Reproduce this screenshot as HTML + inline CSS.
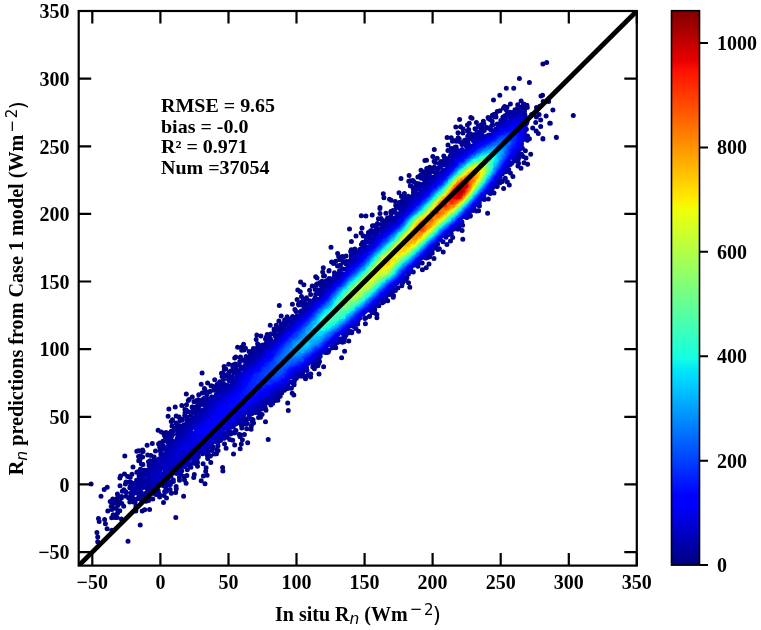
<!DOCTYPE html><html><head><meta charset="utf-8"><style>html,body{margin:0;padding:0;background:#fff;}svg{display:block}text{font-family:"Liberation Serif",serif;font-weight:bold;font-size:20px;fill:#000}.m{font-family:"DejaVu Sans",sans-serif;font-weight:normal}</style></head><body><svg width="761" height="630" viewBox="0 0 761 630"><rect width="761" height="630" fill="#fff"/><defs><clipPath id="c"><rect x="78.7" y="11.0" width="558.1" height="554.6"/></clipPath><linearGradient id="g" x1="0" y1="1" x2="0" y2="0"><stop offset="0" stop-color="#000080"/><stop offset="0.11" stop-color="#0000ff"/><stop offset="0.125" stop-color="#0000ff"/><stop offset="0.34" stop-color="#00dbff"/><stop offset="0.35" stop-color="#00e5f7"/><stop offset="0.375" stop-color="#15ffe2"/><stop offset="0.64" stop-color="#efff08"/><stop offset="0.65" stop-color="#f7f600"/><stop offset="0.66" stop-color="#ffec00"/><stop offset="0.89" stop-color="#ff1300"/><stop offset="0.91" stop-color="#e80000"/><stop offset="1" stop-color="#800000"/></linearGradient></defs><g clip-path="url(#c)"><g fill="none" stroke-width="5.00" stroke-linecap="round"><path stroke="#000086" d="M542.9 64.1h0m3.8-1.7h0m-40.4 25.8h0m7.4 .1h0m5.7-9.8h0m10 4.1h0m-35.9 17.4h0m6.3-4.7h0m3.7 12.8h0m1.1-1.7h0m1 .8h0m1.4 .1h0m3.4-3.3h0m7.3 .7h0m3.4-3.7h0m2.7 3.2h0m12.7 3.2h0m3.3-1.2h0m1.2-10.3h0m1.5-.7h0m.7 6.3h0m5.4 0h0m-92.8 25.4h0m3.8-7.4h0m1 7.3h0m2.4 1.9h0m4.4-3.6h0m1.3 4.5h0m.6-6.4h0m1.5-5.7h0m1.2 .7h0m4.4 4.2h0m7-1.1h0m.5 2.6h0m4.2-6.3h0m.4 .9h0m1.6 1.1h0m2.3-4.4h0m1.3-.8h0m.7 1.5h0m1.2-1.7h0m1.6-2.7h0m2.7-.7h0m31.8 3.8h0m1 13.5h0m3-5.7h0m.7-5.5h0m2.7-2.4h0m1.6 5.5h0m0 6.4h0m5.4-10.5h0m3.6 7.3h0m.6 .1h0m2.6-13.3h0m20.4 5.4h0m-139 34.1h0m12.8-11.9h0m.9 7.3h0m3.2-7.1h0m1.2 3.5h0m1.6-.5h0m4-8.1h0m.2 5.1h0m4.7-4.8h0m4.6-2.3h0m68.7 .3h0m2.1 2.6h0m4.6 4.9h0m0 .5h0m13.4-1.8h0m.1 .2h0m-131.5 23.2h0m1.6-.3h0m.2 8.3h0m3-1.4h0m3.1-10.8h0m1.3 4.8h0m1.1 1.3h0m2-4.3h0m10.7-7.8h0m70 15.7h0m.7-2.8h0m2.4 5h0m3.1-5.5h0m1.3-12.1h0m.6 7.2h0m1.6 6.4h0m3.1-10h0m-129.7 24.3h0m7.8 2.6h0m.3-5.7h0m1.1 5.3h0m.1 4.9h0m2.5-5.2h0m5.1-3.4h0m2.7-1.8h0m.4-5.1h0m2.7 1.9h0m79.9 16.5h0m3.8-6.7h0m1.9 3.1h0m1.1-11.9h0m2.5 3.3h0m-133 32h0m.1-1h0m3.3-13.7h0m.6 4h0m5.6 1.5h0m1.6 1.1h0m4.2 1.2h0m3.7-8.8h0m2.5 3.7h0m2.9-3h0m83.9 5.5h0m-138.8 30.2h0m11.8-13.4h0m.7 12.4h0m3.9-12h0m6.3-1.1h0m.3 10.7h0m5.9-6.9h0m1.6-5.4h0m1.1 5.2h0m4.8-5.4h0m5-1.8h0m87.7-.7h0m9 2.5h0m-156.6 34.1h0m20.3 2.5h0m.1-8.2h0m4.6-5.6h0m5.1-2.9h0m78.3 15.7h0m7.5-4.3h0m3.6-3.6h0m2.2-3.5h0m9.4-6.9h0m.7 8.8h0m-139.5 28.5h0m8.3-5.7h0m1.9 1.5h0m2.2-2.4h0m1.8 4.9h0m.1-12.5h0m1.1 3.1h0m1.2 3h0m.9-2.6h0m1.9-.7h0m.7 1.2h0m2.7-1.7h0m76.3 13.8h0m3.8-2h0m2.8-3.7h0m5-5.6h0m9.2-6.4h0m-145.4 37.9h0m2.8-7.8h0m3.3 2.7h0m8.3 1.1h0m3.5-9.2h0m.6 8.1h0m.6-.8h0m.1-6.1h0m5.7-5.9h0m.8 3.9h0m1-.1h0m4.4-4.7h0m.2-.7h0m79.4 12.3h0m1.3 4.5h0m-130.5 18.4h0m13.1-1.4h0m2.5 5.2h0m2.2-9.9h0m1.4 4.6h0m1.8-12.4h0m1.2 4.9h0m8.1-6.4h0m1 4.3h0m82.6 2.7h0m-123 28h0m3.9 3.9h0m2.2-3.9h0m2.6-4.2h0m2.3-5.1h0m84.2 7.8h0m11.5-9.1h0m0 3.2h0m-139.3 29.4h0m4.3-.1h0m1.7-2.8h0m.4 5.6h0m1.5-1.6h0m10.6-8.7h0m.7-4.5h0m4.1 .9h0m6.3-1.4h0m7-4h0m74.6 10.4h0m9.8-9.7h0m-134.5 35.2h0m.2 3.1h0m1.5-.6h0m2.9-4.8h0m4.3 .9h0m1.7-7.1h0m1.1-1h0m4.3 .6h0m.4-.6h0m1.2-6.8h0m81.9 16.5h0m18-9h0m3-6.4h0m-143.4 32.9h0m.9-11.3h0m2.3 15.5h0m3.2-5.5h0m3.4 2.9h0m3.7-6h0m6.8-6.5h0m.6 3.3h0m83.4 2.1h0m5.1-1.6h0m.2-3.1h0m8.2 .1h0m-150.1 34.9h0m6.3-1.9h0m6.6-1.7h0m3.1 4h0m1.4-15.5h0m.2 10.9h0m1.8-4.3h0m.8-.9h0m3.2-2.6h0m1.7 4.8h0m2.7-1.4h0m1.4-.7h0m.6-5h0m3.5-1.8h0m2.9-2.9h0m.2 1.3h0m82.4 11.7h0m4.5-9.7h0m1.6 1.6h0m-125.7 21.4h0m3.1 5.2h0m.8 4.4h0m.5-6.1h0m3.5 3.3h0m.2-7.2h0m2.9 1.1h0m7.2-6.9h0m60.4 18.6h0m4.4 .5h0m.2-3.3h0m1-4.2h0m.8-1.9h0m.5 3.3h0m4.9-5.7h0m2-.1h0m1.6-2.8h0m3.4 7.2h0m.5-11.5h0m22.3 .2h0m-141.2 34.8h0m5.2-1.8h0m5.8-13.1h0m.5 13.7h0m1-1.1h0m1.8-10.8h0m2.8 2.6h0m1.8-2.1h0m.4 1.8h0m50.2 15h0m7.9-5.3h0m1.6 4.2h0m3.6-8.9h0m3 .8h0m2 4.9h0m4.4-10.7h0m1 2.3h0m.1 12h0m0-14h0m1.1 9.4h0m1.1-4.4h0m2-5.2h0m3.3 8.2h0m20.5-3.2h0m-143.4 16.4h0m8.2 11h0m3.8-15.6h0m1.8 5.2h0m.1 4.3h0m.1-10.1h0m.9 9.5h0m.3-1h0m.6-3.4h0m.8 8.1h0m1 .4h0m.2-14.2h0m0 7h0m.5-5.6h0m4.6 3.6h0m3.2 .5h0m4.6-4.6h0m42 15.2h0m5.6-2.5h0m3 4.1h0m1.6-9.2h0m2.7-2.6h0m.4 6.6h0m3.5-8.5h0m2.2-.3h0m1.6-3.3h0m4.5 16.9h0m10.9-13.3h0m-142.4 30h0m13.1 5.4h0m3-2.2h0m12.7-9.4h0m.1 7.9h0m.6-9.7h0m3.3 13.6h0m.6-15.8h0m.9 10.1h0m.6-2h0m1.7-5.4h0m2.5 .7h0m1.7-3h0m4.9-2h0m33.3 17.2h0m6-3.1h0m.2 2.3h0m3.2-8.4h0m4.2-3.7h0m.8 3.3h0m1.6 3.3h0m.8-7.8h0m6.8 2h0m.6-2.9h0m6.9 6.3h0m2.2-4.8h0m1.6 7.8h0m.7-12.6h0m1.4 4.1h0m15.8-4.2h0m-121.9 25.2h0m9.2 5.1h0m1 4.8h0m.7 3.4h0m.3-3.7h0m.6-7h0m1.6 3h0m1.4 1h0m.1-1.9h0m.3 7.4h0m.7-9.8h0m.5-4.5h0m.3 11.3h0m.3-8.3h0m2.1 5.1h0m1.3-4.3h0m.2-1.3h0m.3 6.8h0m.4-12.1h0m1.4 14.9h0m6.1-4.2h0m4.3 .2h0m1 0h0m.8 4.3h0m5.9-4.6h0m2.9 7.8h0m1.3-8.5h0m2.6-.6h0m1 9h0m3.2-10.6h0m6.8-2h0m.7-1.6h0m3.2 7h0m.6-6.9h0m.5-3.8h0m1.9 6.3h0m4.8-4.8h0m4.4-.8h0m7.9 3.9h0m-85.1 22.3h0m.7 2.8h0m5.4-1.8h0m.8 4.2h0m1.7 4.9h0m.7-17.6h0m3.9 6.7h0m1.5-3h0m1.8 2.8h0m2.1-.2h0m.4-4.3h0m2.3-2.3h0m1.6 8.3h0m14.4-8.1h0m4.4 14h0m2-14.1h0m33.6 6.7h0m-78.9 15h0m.8 9.2h0m0-4.9h0m14.2-6.7h0m16.1 11.1h0"/><path stroke="#000092" d="M506.2 109.8h0m8.8 0h0m1.8-.8h0m4.5-1.9h0m1.7 2.1h0m.9-5h0m.2 4.4h0m1.3-2.7h0m.8 .3h0m.8-.9h0m.1 1.8h0m.2 .5h0m-52.3 21.2h0m.8 .5h0m2.6-3.1h0m2.1 1h0m.8-2.4h0m.5 2.1h0m.2 1h0m.3 1h0m.3 .8h0m4.1-2.2h0m2.1 .8h0m1.6-.5h0m1.6-2.5h0m.2-4h0m.5 3.8h0m1.9-9.3h0m0 .9h0m1.4 .3h0m7.1-.1h0m1.8-1.1h0m2.3-2.3h0m3.1-1.3h0m6.1-2.1h0m-65.2 38.4h0m3.1-.5h0m.8-.8h0m1-6.6h0m0 .7h0m.1 5.6h0m2.9-7.2h0m.1 1.9h0m0-2.7h0m2.1 3.6h0m.7 1.9h0m2.6-4.2h0m1.2 0h0m.2 3h0m1.5-1.3h0m.2-5.5h0m.8-1.3h0m.8 0h0m.7 3.9h0m.4-5.3h0m10.8-3h0m1.5-.2h0m1.5 0h0m45.2 8.3h0m-98.2 30.2h0m2 .1h0m1-1.9h0m0 2.5h0m1.4-.3h0m1.2-1.2h0m2.3-4.8h0m1.8-2h0m2.9-5.4h0m.4 5.1h0m.4-2.4h0m1.5-.3h0m5.9-8.1h0m64.7 10.7h0m1.5-1.7h0m3.3-5.1h0m1.6 2.2h0m-112.2 29.7h0m2.5 2.3h0m.1 1.3h0m.2 0h0m.3-7.9h0m.4 6.3h0m1.4-1.6h0m.1-2.4h0m.2-.9h0m2.8 .6h0m2.4-5.6h0m2.5-3.4h0m1.7 3.5h0m1-3h0m.8-4h0m2.6 1.3h0m.6 4.1h0m3.6-4.9h0m62.7 14.6h0m.4 0h0m2.7-3.6h0m1.7-1.3h0m.8-.1h0m2.9-3.2h0m-109.6 27.4h0m.7 2.4h0m1-.6h0m2-4.8h0m.6 3.2h0m1-1.1h0m.4-2.6h0m.9-1.1h0m1.3 1.1h0m1.2-5h0m.1 .8h0m.8 .1h0m73.7 7.9h0m14.6-12.9h0m-119.6 32.7h0m1.6 2.3h0m.8-2.7h0m.7-1.9h0m3.9 1.3h0m1.2-3.5h0m.7-.4h0m1.6 .3h0m.5 .4h0m2.1-3.4h0m3.3-1.7h0m.4-2.7h0m1.8-3.2h0m.7 1h0m.9 .5h0m64 17h0m4-3.8h0m7.4-8.9h0m6.6-5.4h0m-121.8 38.2h0m6.6-4.7h0m1.2-1.8h0m.5-6.5h0m.7 0h0m2.5 .8h0m2.1-4.5h0m1.5 .1h0m.1 1.7h0m.8-3.5h0m.7-.1h0m65 17.7h0m1.3 1.3h0m5.2-7.9h0m-104.2 24.1h0m1.6-.5h0m1-5.9h0m1.9 2.8h0m3.1-.7h0m4.3-10.1h0m.4 2.1h0m2.3-3.1h0m64.6 15.9h0m4.2-3.4h0m7.6-6.1h0m2.4-3.6h0m-117.1 36.2h0m1.8 .1h0m2.7-6.7h0m1.1 2.3h0m1.3-1.3h0m0-2.5h0m1.5 .7h0m2.8-1.2h0m2.3-.2h0m.5-2.2h0m1.4 .3h0m4-6h0m.2 1.6h0m4.8-3.5h0m58.4 17.1h0m3.9-2.2h0m.9-3.2h0m3.1-2.2h0m7.5-8.4h0m-114.5 33.2h0m2.1-2.8h0m.2 1.1h0m1.3 1.5h0m.2-2.5h0m1-2.8h0m1.3 6.1h0m.5-1.6h0m.7-4.9h0m.4-1.4h0m3.1 2.9h0m6.1-6.5h0m1.2-1.3h0m2.3-2.5h0m59.6 15.3h0m5.2-4.2h0m2.5-2.1h0m1.2 1.4h0m5.8-5.3h0m1.9-5h0m-117.4 37.4h0m3.3-3.6h0m.5 2.9h0m2-4.1h0m.8-3.1h0m1.1 2h0m1.2-.9h0m.2-4.3h0m5.5-.3h0m3.5-5h0m59.8 16.9h0m9-10h0m.7-.4h0m3.7-1.6h0m.3-.2h0m2.8-3.6h0m2.6 .5h0m-122 36.9h0m.4-1.6h0m.9 1.4h0m3-1.7h0m.1-.7h0m.2-3.6h0m4.3 1.5h0m3.6-6.2h0m.9-2.1h0m.3 3h0m2.9-2.5h0m.6 .7h0m.6-4.3h0m4.1 .3h0m.8 .4h0m1.1-4.2h0m2.9 .1h0m54.3 17h0m.9-.7h0m.9 1h0m6.4-6.1h0m.4 .5h0m1.6-.6h0m.4-3.5h0m7.1-5.4h0m.2-1h0m-119.1 34.8h0m1.4 .8h0m1.1-3.3h0m.6 3.7h0m2.6-3h0m.5-.4h0m.8-2.8h0m.4 .1h0m2.9-1.7h0m2.4 1.5h0m.6-4.8h0m1.4 .8h0m1.5-5.8h0m0 6.7h0m1.1-2.6h0m.9-2.9h0m.8 .6h0m61 13.7h0m.7-1.1h0m.9 2.7h0m.7-4.5h0m.2-.4h0m2.5 2h0m1-2.6h0m.7-1.8h0m8.8-9.4h0m-115.6 34.2h0m2 1.7h0m.9-1.2h0m1.6-2.5h0m.3 0h0m.4 1.7h0m1.9-4.2h0m1.3 3.1h0m2.4-10.6h0m.1 5h0m.6-2.7h0m2.9-1.4h0m1.3 1.2h0m.3-3.2h0m.6-1.1h0m1.4-1.1h0m56.9 17.7h0m3.8-.4h0m1.4-5.1h0m1.2-.2h0m.1 1.8h0m7.6-8.5h0m.7-1.1h0m1.6 1.1h0m3.8-1h0m.7-.2h0m-116.4 32h0m.5-.1h0m.5 .6h0m2.9 1.8h0m.6-2.8h0m1.4-3.3h0m.8 5.2h0m1.9-3.6h0m1.2-4.8h0m.7 3.6h0m1.2-5.1h0m.8-5.5h0m2 4.7h0m.3-3.5h0m.1-1.6h0m2.8-.9h0m.4-.4h0m4-1.1h0m47.4 18.8h0m3.6-1.5h0m3.7-4.8h0m2 2.4h0m1.7-1.7h0m2.5-2.8h0m2.8-.3h0m.6-3.3h0m1.7-.8h0m1.5-3.3h0m2.8-2.7h0m-109.9 38.2h0m2.7-3.2h0m1.7 .3h0m.9-4.8h0m1.3 8.1h0m.4-9.4h0m.7 .6h0m1.4 4.9h0m1-9.4h0m.3-2.6h0m.1 3.3h0m1-4.6h0m.4 .1h0m.4 5.2h0m.3 3.3h0m1-8.4h0m2.9 3.3h0m1.7-4.9h0m.2 1.3h0m48.4 14h0m.4 2.5h0m1.2-4.3h0m1.3 .3h0m2.1 0h0m1-.6h0m4-4.5h0m7.3-5.9h0m.3-.8h0m-99.3 35.1h0m.6-1.8h0m1.3-1.7h0m1 3.5h0m.3-6.1h0m.3 4.6h0m.6 1.9h0m1.3-10.9h0m1.4 2.6h0m.8 2h0m.2-.8h0m.2-4.2h0m2-3.3h0m1.6-1.9h0m.7 4.6h0m.4-4.2h0m.1 3.2h0m.5-3.9h0m3.8-.9h0m.6 4.1h0m35.5 13.7h0m.1-1h0m5-1.1h0m9.1-8.4h0m2.9-3.5h0m.6 .1h0m.1-1.7h0m3.5 .9h0m.6-.5h0m.3-1h0m.9-1.2h0m-95.6 38.8h0m1 .5h0m1.5-5.2h0m5.6-2.7h0m.5 3.6h0m1-4.6h0m.1 2.9h0m1.3-.6h0m2.7-4.1h0m.1-1.9h0m0 .7h0m6.1-7h0m.2 .2h0m26.8 18.7h0m2.6-4.5h0m1 2h0m4.4-3.6h0m1.7-3.6h0m.5 2.4h0m9.9-6.8h0m1.6-.4h0m2.7-4.8h0m-82.2 31.6h0m.3 5.8h0m.5-1.5h0m.3-4.4h0m.5 6.1h0m.3-2.4h0m3.3-2.4h0m1.9-3h0m.8-8.2h0m1.7 4h0m1.3-4.8h0m.1 7.8h0m.2-.5h0m.9-5.1h0m.2 .1h0m2.7-3.2h0m12.6 19.2h0m8.2-3.7h0m.6 3.5h0m2.6-4.4h0m.2-.2h0m1.7-.2h0m1.1-2.8h0m1.9-1.8h0m0 1.7h0m6-4.3h0m1.2-3.3h0m.2 .6h0m-54.8 21.6h0m.1-4.2h0m2.6 6h0m.8-.6h0m1.3-3.9h0m.7-1.3h0m.1 2h0m.1 .3h0m.2 3.7h0m.2 1.8h0m.3-4.8h0m1.1 3.9h0m3.2-6.1h0m.8 5.7h0m.9-5.1h0m.7 2.4h0m.1-.3h0m1 2.9h0m2.8-2.4h0m.2-1.2h0m2.4 2.7h0m.6-4.8h0m1.4-2.6h0m.7 5.2h0m.5 1.2h0m.1-5.6h0m1.4 .5h0m0 1.6h0m1.3 0h0m2.3-1.6h0m.2-1h0m1.2 3.5h0m.6 .3h0m1 .1h0m1.3-3.8h0m.4 2.3h0m8-1.7h0"/><path stroke="#00009e" d="M490.9 129.8h0m6.3-5.8h0m3.6-3.4h0m.2 .7h0m.9-.1h0m1.1-3.6h0m.7 .7h0m.5 .4h0m2.5-3.4h0m3-1.3h0m.5 1.1h0m2.2-2.1h0m1.6-1h0m.5 .4h0m4.3-1.1h0m1.8 0h0m.3-.3h0m2.5 2.1h0m.5-.7h0m.6-1.1h0m.3 3.2h0m.2 1h0m2.2 5.5h0m-71.5 28.5h0m10.4-3.7h0m2.3-1.9h0m4.7-7.4h0m.8-1.8h0m1.9 .5h0m.1 .9h0m0 .2h0m1-1.2h0m.3-3.1h0m.5 3.8h0m2-2.7h0m42.7 15.1h0m4-11h0m.9 3h0m.2-.6h0m0-3.6h0m-89.7 32.8h0m2.4-1.5h0m2.3-2h0m1.4-.5h0m1.4-.1h0m.7-1.8h0m1.6-.8h0m.2 1.7h0m.3-4.7h0m.4 1.4h0m.6 .3h0m1.2-4.9h0m.8-1.9h0m1.2-2.4h0m3.4-1.4h0m51 19.7h0m2-.5h0m3.3-6.4h0m2.7-2.2h0m2.9-3.1h0m1-.3h0m.5-2.5h0m.4 1.2h0m-102.9 32.8h0m1.2 .1h0m1.5-2.6h0m.7 .5h0m1.6-2.2h0m1.5-.5h0m1.1 .1h0m.1-4.6h0m.6 1h0m.4-1.6h0m2.2-.2h0m0-1.5h0m.4 3h0m0-1.4h0m.5-2.2h0m.6 5.4h0m.8-2.9h0m2.8-2.1h0m3.4-2.5h0m1.1-3.7h0m.3-.1h0m59.1 11.8h0m1.9-1.3h0m7.5-9.7h0m-105.5 37.1h0m1.6-3.4h0m1 1.6h0m1.5-.4h0m1.8-4h0m.1-2.2h0m1.3-2h0m.5-2.1h0m.2 .5h0m.4 3h0m1.1-2.3h0m1.2-.4h0m2.2-1.9h0m.2-2.7h0m1.1 1.8h0m.4-.4h0m.1-2.5h0m58.7 17.9h0m4.4-5h0m.8 .4h0m5.2-5.1h0m6.2-7.4h0m0 1.3h0m1.1-3h0m.3 .6h0m-113.2 38.7h0m1.3-.4h0m3-1.8h0m2.3-3h0m1.7-1h0m1.3 .2h0m.9-2.4h0m.3 .9h0m1.4-2.7h0m1.8-.9h0m1 .1h0m.6-.3h0m2.7-4.3h0m.2-.5h0m.2 2.2h0m3.4-5.8h0m56.7 19h0m1.5-1.5h0m8-10.2h0m3.5-2h0m2.7-4.8h0m-113.4 38.9h0m2.2-.7h0m1.7-5h0m.9 1.5h0m.4-3.3h0m1.3-1.6h0m1 .2h0m.1-4.1h0m.5 .8h0m.4-1.7h0m.8 1.7h0m5.1-5.2h0m2.9 .1h0m.5 .1h0m0-1.8h0m68.5 6.8h0m2.9-2.8h0m1.9-1.9h0m.5 1.3h0m-108.9 35.3h0m1-.1h0m2.6-5.4h0m3.5-2.5h0m.7 0h0m.9-1.9h0m.2-2.7h0m3-3.9h0m.8 1.5h0m.1-.5h0m2.5-2h0m68.5 6.4h0m1.5-.6h0m.7-2.8h0m1.8-1.3h0m-109.3 36.2h0m.6-.9h0m3.2-2.6h0m1.7-1.9h0m1.4-1.1h0m0 1.9h0m.1-3.3h0m1.5 1.8h0m0 .4h0m2.9-3.5h0m2.2-4.2h0m3.5-2h0m55.4 15.4h0m8.4-7.9h0m3.4-2.2h0m1.7-1.7h0m-102.9 28.8h0m4.8-1.8h0m.7-.8h0m4.6-4.1h0m1-2.1h0m4.5-4h0m.5-.5h0m3.2-2.7h0m51.5 18.9h0m2.6-5.4h0m4.6-2.5h0m.4 1.2h0m6.9-8.2h0m.6-.2h0m2.4-2.9h0m-109.5 38.3h0m.3-1.1h0m2.2-4.5h0m1-.3h0m.1 2h0m1.3-5.1h0m1.5-.6h0m.4-.1h0m.4-.9h0m.4 2.4h0m1.9-1.9h0m4.7-3.6h0m3.4-4.3h0m.4 .1h0m.3-1h0m.6 .5h0m.2-.5h0m55.8 13h0m13.9-12.6h0m-114.5 38.4h0m2.3-1.1h0m1.9 1.3h0m.4-2.4h0m1.4 .1h0m.3-2.6h0m.6 2.3h0m2.4-4.2h0m4.6-2.5h0m4.3-4.4h0m6.8-5h0m50.2 16.5h0m.8-1.3h0m3.4-3.4h0m2.3-1h0m2.9-2.9h0m.1 0h0m.5-.4h0m2.1-1.1h0m.4-2.4h0m1.1 .1h0m3.2-2.5h0m.3-1.8h0m-114 38.8h0m5.5-1.4h0m.8-1.1h0m4-2.7h0m.4-.7h0m1.6-2.7h0m3.3-3h0m.8 .2h0m.9-4.2h0m.4 1.7h0m1.1-2.1h0m.4 .8h0m2.8-4.2h0m.3 1.8h0m55.4 13h0m5.8-6.6h0m6.2-6.4h0m.5 .2h0m.4-.8h0m.3 .6h0m.6 .3h0m2-2.2h0m-111.3 39.5h0m.1-1.4h0m1.6 1.6h0m1.3-3.9h0m.8 .2h0m.6 2.9h0m1.4-4.8h0m.1-.9h0m1.3 3.5h0m2.2-1.8h0m1.5-5.8h0m.5 6.5h0m.3-5.2h0m1.1-3.2h0m1 .3h0m.4 2.8h0m.1-4.2h0m.5 2.5h0m.8-.7h0m.7-5.1h0m1.5-1h0m.4 1.3h0m1.6 .1h0m.2-1.8h0m.3-.8h0m45 18.5h0m5.3-2.1h0m3.2-5.2h0m3.1-1.5h0m1.2-2.8h0m.6-1h0m.1 1.5h0m2.6-2.3h0m.4-.8h0m1.9-1h0m1.3 .4h0m1.6-4.1h0m2.8-.1h0m-108 39.5h0m.2-.1h0m4-5.7h0m1.8 .8h0m.7-2.4h0m.1-.7h0m.3 2.1h0m.7-1h0m.7-2.1h0m1-1.3h0m.7-.5h0m2.1 .3h0m.3-2.2h0m.1 0h0m4.5-2.3h0m1.3-4h0m38.1 18h0m6.1-3.4h0m1.6 .5h0m.3 1h0m1.3-2.2h0m.6-1.4h0m4.9-1.4h0m.4-2.8h0m1.6-.7h0m.4-1.5h0m1.7 .4h0m1.5-1.6h0m1-1.2h0m1.7-2.1h0m-99.1 37.6h0m3.3-1.3h0m1.5 0h0m1.7-2h0m.3-2.9h0m2.2-1.1h0m1.4 1.8h0m1.3-1.7h0m0-3.8h0m.4 1.1h0m.4-1.4h0m.3 2.9h0m2-3.7h0m.9-4.7h0m.5 3.1h0m2.2-2.9h0m1.5 .1h0m.7-1.7h0m41.5 10h0m.9-2.6h0m.1 1.2h0m1.3 .1h0m.5 .5h0m1.2-2.1h0m1.1 .2h0m1.8-.5h0m.6-3.3h0m2.9-1.8h0m.6-1h0m2.8 .1h0m.9-.9h0m1.7-1.4h0m-94.3 38.9h0m4.3-6.9h0m.3-.4h0m2 1.7h0m.7-4.2h0m.6 1.1h0m6.6-7.1h0m2.6-.5h0m.3-1.6h0m.6 3.3h0m1.6-2.5h0m.1-1.8h0m27.1 16.4h0m7.1-4h0m2.8-2.1h0m.3-1.8h0m3.3-.5h0m1.2-1.5h0m3-4.5h0m.5 .8h0m1.2-.8h0m-79.6 35.3h0m2.5-3h0m.1 1.8h0m.4 1.7h0m.4-5.1h0m1.9-2.6h0m1.5 .2h0m2-1.8h0m1.6-4.6h0m1.1 .7h0m1.7-.3h0m2.8-4.5h0m14.3 19.5h0m.4-.3h0m5.7-4.6h0m6.2-1.7h0m1.4-2.9h0m2-.8h0m2-2.6h0m4.3-2.9h0m3.4-3.4h0m.1 2.1h0m1.2-1.3h0m.3 .5h0m-75.3 37.2h0m.1 1h0m.1-3.2h0m1.1-1.2h0m.5 1.4h0m.3-3.1h0m.2 5.9h0m.1-4.4h0m2.1-1.4h0m1-1.6h0m.1 6.7h0m.1-2h0m1 2.8h0m1-8.7h0m.7 5.1h0m1-3.7h0m.3 3.9h0m1.2-4.2h0m.2-6.4h0m.1 11.8h0m.1-3.4h0m.7-4.7h0m.8-6.1h0m.3 11.9h0m.6 1.7h0m.6-13.3h0m.2-2.8h0m.3 3.7h0m.2-4.3h0m.2 15.4h0m.7 2.8h0m.4-14.6h0m.2-1.4h0m.6 .1h0m1.2 16.7h0m1-1h0m0 .6h0m4.2-1.1h0m7.5-2.1h0m1-3h0m1.8 1.4h0m1-2.6h0m1.3 1.2h0m8.2-9.3h0m2.6-2.1h0m1.1 .6h0m1.4-1.1h0m-48.5 19.7h0m.2 2.4h0m2.2-1.2h0m3.8 .2h0m.2-1.8h0m1.6 2.1h0m11.8-.9h0m.8-1.2h0"/><path stroke="#0000aa" d="M495.6 129.5h0m.4-.4h0m2.5-2.5h0m.3-.2h0m1.4-1.3h0m1-1.3h0m0 .8h0m.8-1.5h0m3.7-1.6h0m.1-2.4h0m0 2.1h0m4.7-3.7h0m1.7 .3h0m2-1.1h0m2.6-1.9h0m0-1.2h0m.6 .4h0m2.1-1.3h0m.8 2h0m.4-3.1h0m2.9 6.3h0m.1-3.9h0m.9 2.3h0m1 13.4h0m.1-6.8h0m.2-4.9h0m.5 11.3h0m.1-6h0m-64.4 26.3h0m5.2-2.4h0m1.8-.4h0m4.4-5.8h0m1.7-2.8h0m.7 1.5h0m1.3-1.6h0m.5-.8h0m2-1.3h0m2.3-1.5h0m.3 1.2h0m6.8-.7h0m35.9 1.6h0m.2 .9h0m.4 .9h0m.4-1.5h0m-77.7 28.3h0m.3-3.7h0m0 3.3h0m3-3.7h0m.8-.1h0m.4-3.4h0m1 1.8h0m.7-5.3h0m.2-.1h0m.5-.6h0m1.9-.2h0m.6-2.8h0m.5 2h0m4.5-2.1h0m42.7 19.6h0m1.6-.9h0m1-4h0m2.3-.6h0m7-11.4h0m1.4 .3h0m-98.6 34.9h0m.4 .5h0m2.2 .8h0m0-3h0m.6 2.4h0m1.1-2.4h0m.6 1.3h0m.4-2.1h0m1.1-.9h0m3.2-.3h0m.6-3.9h0m1.4-.5h0m1.1 .1h0m3.7-3.6h0m1-2.1h0m1.6 .5h0m4-4.6h0m49.7 17.1h0m7.4-9.5h0m2.1-4h0m2.1-2.6h0m1.3-1.1h0m-100 38.5h0m2.5-5.3h0m.3 1.6h0m1.8-2.6h0m.1-2.3h0m.7-1.9h0m1.1-1.6h0m2.1-.1h0m.1 3.3h0m1.3-2h0m.1-2.3h0m.5 1.1h0m1.3-2.7h0m.3 .7h0m2.5-1.6h0m53.4 15.3h0m5.5-6.2h0m8.9-10h0m-105.3 37.6h0m.3-1.1h0m3.6-3.2h0m.1 1.1h0m1.9-1.6h0m.2 .3h0m4-3.4h0m.3-.7h0m.6 .3h0m2.2-4.1h0m.1 1.2h0m.7-.8h0m3.1-2.5h0m.6-1.4h0m1.1-.9h0m1.7-2.7h0m50 18.9h0m5.6-3.6h0m.6-1.7h0m2.3-2h0m4.1-5h0m2.8-3.6h0m-105.2 35.4h0m1.1-.5h0m1.6-1.5h0m2-4.9h0m2 .9h0m.3-3h0m.4 3.6h0m.2-2.7h0m1.4-1.8h0m.2 .1h0m1.1-3.7h0m1.7 1.5h0m56.7 13.3h0m.6-1.7h0m2-1.4h0m0-.3h0m2.7-2.7h0m12.6-12.1h0m-101.5 32.4h0m.2 1.1h0m2.5-1.9h0m3.7-4.9h0m1.3-1.8h0m1-2.7h0m.9-1.4h0m1.2 1.4h0m1.3-1.5h0m1.4-2.4h0m.3 .2h0m54.1 13.4h0m1-.5h0m11.1-9.4h0m-103.2 35.2h0m.6-.8h0m5.8-4.4h0m2.7-4.3h0m.1-.7h0m1.1 0h0m.2-.5h0m.1 1.5h0m2.6-4.1h0m1.4-2.3h0m.6 .9h0m60.3 7.2h0m7.5-7.6h0m0-1.8h0m1.7-.3h0m-103.7 37.6h0m3.1-4.1h0m1.4-.2h0m2.6-4.5h0m3.5-.6h0m.7-.5h0m3.3-3.2h0m1.8-2.3h0m1.2-3.6h0m1.4 .7h0m44.6 18.8h0m3-1.7h0m1.3-.4h0m1.1-3.3h0m10.5-8.4h0m4-3.3h0m-102.6 34.1h0m.7 1.2h0m2.9-7.4h0m.6 2.6h0m2.2-1.1h0m.7-2.6h0m.6-1.5h0m1 1.2h0m3.9-3.8h0m.5 1h0m2.6-4.7h0m1.2 1.6h0m3-2.6h0m46.5 15.8h0m3.6-4h0m-92.5 25.3h0m1.8-2.2h0m1.4-.7h0m.7-2.3h0m.5 .5h0m.4 1.5h0m1.4-4h0m3 1.2h0m2.1-2.2h0m1.5-.9h0m1.8-1.5h0m.8-3.2h0m.2 1.1h0m.7-.3h0m1.5-1.4h0m.1-1.6h0m52 11.6h0m1-2.1h0m1.3 .2h0m1.6-2.3h0m1.6-.4h0m3.5-3.8h0m.3-1.3h0m1.8-.2h0m-103.1 35.2h0m1.7-2.2h0m4.1-2.3h0m1.4-.2h0m.3-1.1h0m.7 .2h0m.8 .8h0m.9 .5h0m.2-3.9h0m.5 .1h0m.3 0h0m.3-.6h0m2.4-2.8h0m.4 2h0m1.9-2.3h0m.2-3.3h0m1.5 1.5h0m.4-2.7h0m2.1-1.5h0m43.6 16.7h0m5.4-5.5h0m3.2-2.5h0m.9-2.4h0m1.3 .5h0m2.9-1.5h0m-100 33.3h0m2-.1h0m1.1 0h0m3.5 .5h0m1.2-2.5h0m1.2-1.1h0m.6 0h0m2.4-3.8h0m.1-2.9h0m.4 1.5h0m1.6-.6h0m.7-1.6h0m.7 .2h0m.5-1h0m1.4-2h0m.2 1.3h0m.3-1.9h0m.4-1.3h0m1.1-1.4h0m39.8 16.6h0m4.6-1.4h0m2.9-2.8h0m.6-1.1h0m.2 1.3h0m6.8-8.5h0m3.3-3.6h0m0 .7h0m2.1-1.2h0m3-2.5h0m-99.4 39.4h0m2.3-.7h0m.6-1.8h0m.4 .8h0m.7-4.4h0m2.5-2.6h0m1.1 1.2h0m1.6-1.9h0m2.4-2.8h0m2-2.9h0m.4-.2h0m.5-1.6h0m1.1 .9h0m0-.4h0m.7-1h0m.1 1h0m1 .8h0m1.6-3.2h0m3.2 .5h0m28.3 16.6h0m2.2 .1h0m.3-1.1h0m.8 0h0m1.5-1.3h0m2.6-2.3h0m.7-.8h0m1.5 0h0m1.7-1.6h0m3.2-2.6h0m4-2.4h0m.9-1.5h0m.3 1h0m2.3-4.6h0m3.3-.6h0m-94.1 39.3h0m1.2-1.2h0m1.1-.1h0m0 .1h0m.7-1.4h0m.9 1.6h0m1.5-1.1h0m2.6-3.7h0m.8-2.4h0m1-3.4h0m.9 3.6h0m2-2.6h0m.2-2.3h0m1.8-.5h0m.2 .8h0m.1-1.8h0m1.4 .6h0m.1-3.1h0m.5 .5h0m27.8 14.2h0m3.3-.6h0m1.4-2.3h0m1.1-.6h0m1.3-1h0m.3-.1h0m.9-.1h0m1.1-1h0m2.2-4.8h0m1.3 1h0m.5-1.1h0m.3-2.3h0m5.3-1.6h0m2.4-1.9h0m-83.7 35.3h0m1.7 3.4h0m.3-2.1h0m.5-.9h0m.2 2.1h0m.2-4.3h0m.8 1.2h0m.8 .8h0m1.3-4.6h0m1.5 .7h0m1.3-1.9h0m.9-2.6h0m.1 2.6h0m.7-1.6h0m.7-.1h0m2.2-3.2h0m1 2.1h0m2.9-5.6h0m19.6 17h0m2.6 .5h0m1.5-3.7h0m2.3-1.2h0m1.1-2.3h0m1.9-1.6h0m1.6 .4h0m2.9-2.6h0m1.9-1.8h0m2.1-2.2h0m.5 3.1h0m1.6-4.6h0m.4 1.2h0m-71.4 32.6h0m2.4-2h0m0 2.1h0m.5-3.7h0m.1 1.2h0m.9-3.5h0m.7-1.1h0m.6 4.2h0m.4-4.3h0m.2 6.4h0m2.5-7.8h0m1.3-2.1h0m2.2 .2h0m1.7-3.2h0m0 2.2h0m.1-3.7h0m.6-1.2h0m.2 3.3h0m.8-.6h0m.5-1h0m13.8 12.2h0m.8 .2h0m.3 .8h0m.7 .8h0m.1-1.2h0m1.5-1.7h0m2-1.5h0m4.4-3.7h0m2-1.5h0m.6 .4h0m.7-3.5h0m.5 3.5h0m2.2-4.7h0m2.1-1.5h0m2.9-.9h0m.1 .8h0m-59 32h0m2.9-1.4h0m.1-6.3h0m.2 1.8h0m.2 5.6h0m1-7.7h0m.3 7.8h0m1.1 1.4h0m0-10.7h0m0 5.7h0m.2 .4h0m0 1.6h0m.1 1.5h0m.9-8.1h0m.1-3.2h0m.9 11.5h0m.5 1.6h0m1.1 1.6h0m.4-1h0m.1-12.8h0m.7 14h0m.2-16.1h0m1 13.6h0m1.8 .2h0m1.5-1.6h0m.5 1.8h0m6.6-3.6h0m.9-2.1h0m2-2.2h0m.8-.1h0m1.4-2.7h0m1.9-1.2h0m1.9-1.8h0m3.2 .1h0"/><path stroke="#0000b6" d="M497.1 129.2h0m1.7-2.4h0m3.5-1.8h0m2-.3h0m1.7-3h0m1-.2h0m.4 .9h0m3.6-3.6h0m2.2-.3h0m1-1.5h0m1.3 1.8h0m1.9-3.3h0m3.4 .7h0m.4 .4h0m1.2 1.7h0m1.3 1.2h0m.1-.9h0m1.5 6.6h0m-58.1 24.7h0m.8-.9h0m1-.1h0m2.1-1.5h0m1-1.1h0m2.9-4.9h0m.5 1.1h0m.9-1.1h0m.9 0h0m2.3-2.5h0m2-1.8h0m.6 .7h0m2.7-1h0m0 .3h0m2.6-.6h0m0-.7h0m4.5-1.4h0m1-.4h0m1.5-3.1h0m1.8-.5h0m22.7 19.2h0m.4-.1h0m1.4-3h0m.6 1h0m3-14.7h0m.2 4.6h0m-78.2 32.5h0m.8-1.4h0m1.1 .2h0m3.2-5.7h0m.6 2.3h0m1.7-4.1h0m.4 1h0m.7-2.5h0m.7-1.7h0m.8-.6h0m.3-.8h0m2.1-2.4h0m.3-.9h0m.9-1.2h0m0 .9h0m1.3 .9h0m0-2.4h0m.7 1.5h0m.4-2.5h0m44.5 15h0m2.9-2.9h0m4.3-5.2h0m1.9-4.2h0m-93 36.2h0m10.1-7.1h0m1.9-.6h0m.3-2.2h0m3.6-1.7h0m1.5-1.9h0m.6-2.2h0m.5 1.3h0m.4-2.1h0m.2-1h0m.2 1.8h0m1.2-.2h0m1.2-2.9h0m.9 .3h0m.1-.8h0m45.5 16.8h0m.6-.2h0m2-2.5h0m2.5-3.8h0m.3-1.3h0m-87.3 26.5h0m.1 1.5h0m1.2-2.3h0m1.9-3.1h0m.7 .8h0m3.5-4.7h0m2-2.5h0m0 .3h0m1-.5h0m1.2-1.4h0m.4 1.4h0m.2-2.7h0m1.9 .1h0m1.1-1.9h0m.4 .1h0m.3-.6h0m51.3 14.6h0m4.3-5.9h0m3-2.7h0m4-5.6h0m-102 39.3h0m1.9-2.5h0m2-1.4h0m1.9 .6h0m6-6.2h0m2.1-2.7h0m1.9-2.2h0m2.6-3.5h0m.5-.8h0m.3 0h0m48.8 17.2h0m5.7-5h0m.6-.8h0m.9-1.1h0m6.6-6.9h0m2.8-3.9h0m.7-.4h0m-103.8 37.2h0m.7 .4h0m.6-.7h0m3.5-4.1h0m.2-.7h0m.4-1h0m3.3-4.1h0m.4 .4h0m.6 .1h0m.6-1.7h0m1.6 .4h0m2.8-2.8h0m.5-.3h0m1.4-2.6h0m56.5 9.1h0m8.4-7.6h0m-101.6 36.1h0m1.5-1.8h0m3.1-2.6h0m1.2-.4h0m1.8-2.7h0m1.8-1h0m.6-2.7h0m2.9-1.5h0m.2-1.7h0m.2 .6h0m1.2-1.2h0m1.8-2.8h0m51.3 14.4h0m.6-1.3h0m1.1-.7h0m.4-.7h0m2.5-2.8h0m2.8-2.1h0m.1 .2h0m1.2-.5h0m-93.3 30.3h0m3.1-3.5h0m2.9-2.8h0m.5 .2h0m.5-2.7h0m2.9 .4h0m1.2-3.7h0m1.6-1.2h0m46.5 15.9h0m3.8-3.2h0m.8-1.2h0m6.8-6.1h0m2.8-2.8h0m3.8-5.2h0m-97.4 36.2h0m.2 .2h0m.8 1.3h0m1-4.8h0m1.7-1.2h0m.8 .4h0m.5 .2h0m1.9-2h0m.9-1.4h0m.2 .6h0m4.9-4.2h0m.9-2.1h0m.9-.5h0m1.3-1.7h0m1-1.3h0m46.5 14.3h0m2.3-2.5h0m2.6-2.9h0m3.8-1.9h0m.1-.4h0m4.8-5.1h0m-98.7 34.9h0m2.4-2.6h0m.2 1.8h0m3.4-4.9h0m.3 1h0m1-1.9h0m.2 1.6h0m3.3-3.3h0m3-2.1h0m3.3-3.7h0m.4-.3h0m4.5-3h0m40.7 15.6h0m3.1-1.7h0m4-3.7h0m1.9-2.5h0m-93.2 31.8h0m.7-2.3h0m.4 1.8h0m.3-.7h0m2.8-1.7h0m.8-1.2h0m3-2.5h0m0-.2h0m2.2-1.9h0m1.1-.7h0m7.1-7.9h0m.4-.8h0m39.3 18.3h0m5.9-5.5h0m.1-.5h0m4.6-2.8h0m7.1-8.1h0m2 0h0m2.6-2.1h0m-100.8 37.4h0m1 .4h0m1-1.1h0m1.1-1h0m2.3-1.1h0m5.4-5.3h0m.2 1.5h0m1.3-1.7h0m1.6-2.7h0m1.9-2.3h0m1-.2h0m.4-2.4h0m.6 .3h0m.4 .1h0m39.4 15.4h0m.8-1.1h0m6.7-6.2h0m1.2-1.6h0m.4 .4h0m6.1-4.9h0m0-.9h0m.7-.3h0m.1-.4h0m2.8-1h0m-93.1 37h0m.4 .6h0m1.3-.9h0m.9-.1h0m.3-2.6h0m2.8-1.8h0m.1-2.8h0m.6-1.3h0m3.1-2.6h0m.1-1.2h0m2-1.7h0m.1-.8h0m4-3.1h0m33.3 17.5h0m1.1-.7h0m.7 .1h0m4.6-4h0m1.7 .6h0m.6-2.3h0m.6-1.3h0m.2 1.2h0m0 .7h0m3.6-5.8h0m1.5-.9h0m1.8-3.7h0m1.4 .9h0m1.3-.4h0m-91.5 37.2h0m1.2-1.3h0m2.6 .4h0m1-6.3h0m.2 1.4h0m5.2-4h0m.4 .3h0m1.7-1.7h0m.4-.6h0m2.4-3.6h0m1.5-1.4h0m.1 1.7h0m25.9 14.9h0m1.5-.3h0m5.3-2.2h0m1.3-2.8h0m1.2-.6h0m1.4-1.8h0m5.5-4.2h0m1.1 .2h0m2.1-1h0m1.4-.8h0m.6-1.9h0m.7 1.6h0m.9-1.1h0m.8-1.5h0m.6-.7h0m.4 .4h0m.6-2.6h0m-84.9 38.7h0m1.3 0h0m1.9-1.7h0m.6-.6h0m.6-2.4h0m1.5-.7h0m.2-.6h0m.5 2.2h0m.1-1.4h0m1.9-4.5h0m2.1 1.4h0m3.3-3.3h0m1.5-3.4h0m.2 .7h0m1.5-3.4h0m.6 .5h0m.2 2.3h0m19.7 14.1h0m3.7-2.7h0m2.7-2.4h0m3.3-3h0m2.7-2.2h0m2.1-4.4h0m.3 1.8h0m2-1.9h0m1.6-1h0m1.9-.3h0m.3-1.6h0m-76.8 38.1h0m.5 1.1h0m0-.7h0m2.5-2.5h0m.5 .7h0m1.6-2.7h0m.7-2.5h0m1.2-.5h0m4.4-2.2h0m.5-1.3h0m2.4-3.8h0m.9 .2h0m.1-2h0m1.2-1.5h0m9.9 18.7h0m2.2 .2h0m2.5-2h0m.7 .1h0m1.7-.2h0m1.3-2.3h0m.6 .4h0m1.3-2.1h0m.4 1.7h0m2-2.9h0m.6-.6h0m5.1-3.6h0m.5-1.4h0m1.6-1.1h0m1.2-1.6h0m.5 1h0m1.1-.1h0m.3-1.1h0m.5-.4h0m1-1.3h0m.6-.3h0m-66.1 37.7h0m1.2-.1h0m2.3-3.8h0m0-.2h0m.3-4.7h0m.1 3.9h0m.5 3.7h0m2.4-2.3h0m.3-8.6h0m0 8.3h0m.1-3.1h0m.5 .8h0m.2-1.4h0m0-2.2h0m.5 .5h0m.4 2.9h0m.2 .8h0m.2-4.2h0m.4 2.1h0m.8-2h0m.1 8.4h0m.4-12h0m.6 1.3h0m.6-2.6h0m2.4 14.6h0m0-15.2h0m.1 11.5h0m.3 0h0m2.9 2.1h0m.6 1h0m2.5 .3h0m.8-1.8h0m.1-1.1h0m.6 1h0m.2-2.2h0m.8 1.2h0m1.4-2.6h0m1.4-2.7h0m1.7-.8h0m0 2.4h0m1.5-3.5h0m.5 2.9h0m.9-1.4h0m1.3-1.7h0m1.9-2.4h0m2-1.2h0m.3 .4h0m1.9-3.2h0m.4-1.8h0m2.3-.7h0m-46.4 28h0m.4 1.3h0m.3-1.8h0m1.2-3.6h0m.6 7.3h0m.1-5.5h0m1.3 5.5h0m.2 .9h0m.4-8.2h0m.1 6h0m.4-9.2h0m.1 4.7h0m.4 6.1h0m.3-9.9h0m.5 8.3h0m.4-9.5h0m.1 11.6h0m.2-1.5h0m.8-1.8h0m.3-8.2h0m.1 9.7h0m.3-8.5h0m0 7.5h0m.5 2.7h0m1.4-1.9h0m1.4-2.3h0m1.4 .6h0m.5-7.7h0m.2 5.7h0m1.6-2.5h0m.1-2.1h0m.1 3.4h0m.5-2.3h0m.3-.2h0m.6-.1h0m.2 2h0m1.6-3.5h0m.6 2.2h0m1.5-1.7h0m.4-1.9h0m1.2 1.9h0"/><path stroke="#0000c2" d="M497.9 129.3h0m1.6-1.6h0m2.5-.3h0m2-1.5h0m5.5-3.7h0m.8 .1h0m2-2.3h0m5.1-.8h0m.3-.5h0m1.3-.1h0m.3-.3h0m.3-1.1h0m1 1.2h0m.5 1.8h0m.2-1.4h0m.1 1.3h0m.2-1.6h0m1 1h0m.5 1.9h0m0 2.6h0m.9 4.4h0m-52.2 19.4h0m3.1-4.4h0m.2 1.9h0m1.9-2.6h0m.3-.6h0m2.3 .1h0m1.4-1h0m.7-1h0m.6 .4h0m4.2-3.9h0m2.1 .6h0m5-4.3h0m.1 1.9h0m2.9-3h0m.1-1.5h0m1.6 1.6h0m20.3 16.6h0m1.9-2.1h0m1-2.6h0m1.1-3.8h0m-73.9 29.7h0m.8-1.7h0m3.5-4.2h0m2.6-4.3h0m.9-.3h0m1-1.4h0m.3 .6h0m.5-2.1h0m2.5-1.6h0m.6 .3h0m1.2-.3h0m1.9-2.9h0m2.3-.7h0m.5 .2h0m1.1 .1h0m35.3 18.1h0m1.1-2.9h0m.8-1.3h0m2.5-2.4h0m4.1-6.6h0m.1 1h0m3.7-5.3h0m-87.2 36.2h0m1.2-1.4h0m.6-1.2h0m1.2 1.6h0m2.6-3.3h0m.4-1.9h0m.4 .7h0m3.6-4.4h0m2.3-1h0m.6-1.4h0m.4 .7h0m1.1-1.4h0m44.3 14.7h0m2.3-2h0m6.1-8.9h0m2.2-3h0m-87.5 29.4h0m3.5-2.6h0m.3 .4h0m1.1-3.7h0m2.6-.8h0m2.7-1.7h0m.9-1.2h0m2.6-2.7h0m46 15.5h0m1.9-.7h0m4.1-5.2h0m9.8-10.7h0m-96.4 36.6h0m.8-1.3h0m2.2-1.8h0m0 .5h0m2.6-1.8h0m1.3-1.6h0m1.1-.3h0m.3-1.2h0m2.7-1.4h0m.8-1.7h0m2-3.1h0m2.4-3.8h0m50.5 13.3h0m2.3-2.4h0m1.2-.7h0m.5-1.4h0m5.4-5.5h0m.2 0h0m3.5-4.1h0m-101 38h0m3.3-2.4h0m.4 0h0m3.3-4.2h0m.3-.9h0m.6-2.1h0m8.9-6h0m2.2-2.1h0m41.8 18.7h0m3.4-3.4h0m6.8-7.7h0m8.2-6h0m-98.2 36.8h0m.7-.8h0m.9-2h0m.7-.9h0m2.7-2.5h0m1.4-.8h0m.1 .3h0m1.1-3.8h0m3.2-2.8h0m4.4-3.7h0m2.1-1.5h0m43.1 18.4h0m.8-.5h0m7.9-8.9h0m5.2-3.8h0m2.2-3.3h0m.8-.3h0m-93.9 33.5h0m7.3-6.1h0m3.1-4.5h0m4.2-4.3h0m44.4 16.2h0m3.4-3.1h0m1.6-.9h0m11.8-12.9h0m.2 .1h0m-95.5 36.8h0m2.3-4.1h0m.2 .9h0m.3-.9h0m5.5-4.1h0m6-7.4h0m.1 .8h0m1.6-2.1h0m37.9 19.9h0m3.2-2.8h0m2.9-3.2h0m2-1.1h0m9.4-8.8h0m-93.3 34.2h0m.6-1.6h0m7.7-6.6h0m.7-.9h0m4.2-3.1h0m3-2.9h0m.7-.9h0m39.2 15.1h0m5.1-2.8h0m5.8-6.2h0m4.3-4.2h0m2-2.5h0m-95 38.2h0m4.9-5.3h0m2 .1h0m3.6-6.6h0m2.8-1.7h0m3.4-3.8h0m.7-.9h0m1.3 .6h0m1.3-.7h0m34.1 17.6h0m2.2-1.8h0m1.9-2.3h0m.6-2h0m.8 1h0m1.1-.8h0m.5-.6h0m3.4-2.2h0m.4-.8h0m7.7-7.4h0m1.1-.1h0m-94.8 36.2h0m4.3-3.6h0m.1 1.5h0m2.6-3.3h0m2-1h0m.8-1.3h0m7.2-8h0m.4 .8h0m1.1-2.9h0m.5 .1h0m32.2 19.2h0m1.9-1.2h0m2.9-2h0m2.1-2.4h0m1-.9h0m4-3.7h0m9.2-8.5h0m-87.2 36.9h0m.1 1.6h0m.6-2.3h0m1 0h0m1.7-7.3h0m4.1-3.3h0m1-.9h0m2.1-2.9h0m1.2-2h0m.4 .8h0m.3 .5h0m32.9 15.3h0m.5-1.7h0m4.5-.8h0m6.7-8.5h0m.7-1.1h0m.8-.4h0m-82.1 31.7h0m.2 3.2h0m1.3-4h0m1 1.5h0m.1-4.8h0m.2 3.3h0m.5-4h0m.2 1.7h0m1.2-.9h0m2-.9h0m.3-.9h0m1.8-.8h0m1.1-.4h0m.5-2.1h0m2.2 .4h0m.4-.2h0m.7-2.4h0m1.5-1.3h0m.2 1.8h0m2.7-2.2h0m17.9 16.2h0m1.1-.5h0m.5 .2h0m3.8-2.6h0m2-1h0m2.5-3h0m2.6-2h0m1.3-.7h0m1.1-1.1h0m2.6-2.9h0m1.7-.9h0m.7 .9h0m2-.7h0m2.4-3.4h0m2.1-.9h0m-78.5 34.8h0m3.2-3.5h0m.2 1.6h0m6.1-4.5h0m.6-2.7h0m.4 2.6h0m2.4-4.7h0m1.5-2.8h0m.1 .4h0m0 1.7h0m.2 .4h0m13.9 14.7h0m2.8-1.1h0m2.4-1.6h0m0-.6h0m1 .5h0m.8-1.2h0m1.8-1.3h0m.5-.5h0m1.5-3h0m.1 .7h0m.1 1.5h0m.1-1.6h0m1.4 .2h0m1.8-3.9h0m1.6-1h0m1.1-2.7h0m3-1.5h0m.2 1h0m1.5-2.6h0m2 .1h0m-72.5 38.5h0m1.8-1.3h0m.7-1.6h0m1.3-.6h0m.5-3.8h0m3.9-.2h0m.3-1.1h0m.2 1h0m1.3-2h0m1.8-1.9h0m1.2-2h0m1.2-2.1h0m.7 2.6h0m.8-2.8h0m.7-2.2h0m1.3 2.3h0m4.4 15.4h0m.3-.1h0m.6-.6h0m1-2h0m.7 .7h0m.7 .4h0m.3 1.4h0m2.5-2.7h0m2.2-1.5h0m.7 .1h0m1.4-.5h0m.1-1.6h0m3-.6h0m1.6-3.1h0m.9 1.4h0m1.3-1.1h0m.4-3h0m.3 .5h0m1.3-1.2h0m.1-.8h0m.7 1.8h0m1.7-2.3h0m1.4-1.1h0m1.5-2.1h0m1.2-.1h0m-56 38.9h0m2.8-.8h0m.2-3.9h0m.5-5.2h0m.7-1.9h0m.2 5.3h0m.1 2.9h0m.5-6.4h0m.2-2.8h0m1.5-.2h0m.3-1h0m.1-1.4h0m.4 8.8h0m.4-10.9h0m.2 9.3h0m.4-6.5h0m.5 8.4h0m.7 1.2h0m.7-13.3h0m.2 11.9h0m.8 .2h0m0 2h0m1.5 .3h0m1.6-2.7h0m.8-1.7h0m.7 .2h0m2.1-3.5h0m.1-1.3h0m.5 2.4h0m1.1 .1h0m.3-.5h0m.6-.4h0m.7-3.2h0m.6 1.1h0m.6 .4h0m1.6 0h0m.1-2.1h0m.1 .5h0m2.9 0h0m.5-1.4h0m.9-1.5h0m-41.4 24.3h0m.1 .9h0m3.4 1.6h0m.9-2h0m.1-.9h0m.2-1.4h0m1 2.3h0m.8 0h0m.9 1.4h0m.1-.2h0m2.1-.5h0m.3-2h0m0-.4h0m.6-1.3h0m1.6-2.2h0m.2 2.6h0m.8-4h0"/><path stroke="#0000ce" d="M507.2 125.3h0m1-1.9h0m3-.9h0m2.6 .1h0m2.2-2.5h0m1.9-.4h0m1 1.2h0m.5 .5h0m.7 .8h0m1.4 .1h0m.6 2h0m.5-2h0m.2 4.2h0m.5 .6h0m.1-1.2h0m-51 22.9h0m1.5-1h0m3.6-3.2h0m0-1.2h0m1.3 .5h0m1.4-1.8h0m4.7-2.3h0m1.7-.1h0m0-.7h0m1.9-.5h0m.5 .6h0m11.6-9h0m15.4 19.4h0m1.8-1.4h0m1.8-3.8h0m.6-1.2h0m1-2h0m1.1-5.6h0m.9 .5h0m-72.4 31.5h0m4-5.2h0m3.7-4.4h0m5.9-3.5h0m.1-.8h0m1.4-.6h0m1.5-1.3h0m39.7 11.6h0m.2-1.2h0m.4 0h0m4.2-6.2h0m1.3-.9h0m1.3-2.8h0m-85.5 37.6h0m4.2-3.9h0m4.7-4.3h0m.9-1.4h0m2.6-1h0m1.1-1.2h0m4-4.3h0m45.7 9.7h0m6.7-8.7h0m.8-1.2h0m1.2-1.6h0m1.2-1.4h0m-92.8 39.3h0m1-1.9h0m.7 .9h0m1.2-2.4h0m1.3-1.6h0m.3 .7h0m0 .4h0m.9-1.7h0m2.1-1.7h0m3.2-2.8h0m4-5.3h0m1.4-.1h0m.2-1.3h0m2.7-2.2h0m44.5 15.3h0m2.1-2.6h0m9.8-11.6h0m1-1.5h0m-91.5 35.6h0m10.2-11.1h0m.6 0h0m1-1.6h0m42.4 16.5h0m3.9-2.3h0m.3-1.2h0m2-.4h0m3.1-3.3h0m4.4-5.5h0m-92.6 31.2h0m3.2-1.6h0m3.7-4.9h0m1.5-2.2h0m.4 .7h0m1.6-2.3h0m3.8-3h0m1.2-.8h0m1.9-1.8h0m.9-1.2h0m43.7 15.3h0m10.8-10.7h0m2.1-1.8h0m1.2-1.2h0m1.6-1.3h0m1.3-1.3h0m-98.5 39h0m1.7-1.3h0m.8-1.2h0m5.5-4.4h0m.4-2.1h0m2.6-2.1h0m.3-.1h0m1.7-2.6h0m1.1-2.3h0m5.2-2.2h0m42.7 15.1h0m.7-1.2h0m1.7-1.3h0m8-7.7h0m2.8-3.9h0m-88.9 32h0m1.5-.2h0m5.2-5.1h0m.7-2h0m.7-.8h0m.7-1.8h0m4.3-3.9h0m39.9 18h0m8.2-8.2h0m1.1-.2h0m3.8-4.1h0m1-1.3h0m-89.9 34.2h0m.5-1h0m3.2-3h0m2-2.1h0m4.1-3.4h0m2.5-2h0m1.2-3.3h0m1.6-.6h0m40.8 14.3h0m1.3-1.5h0m3.3-3h0m.5-.8h0m.1-.9h0m.6-.1h0m3.2-2.7h0m1.1-.7h0m1-1.1h0m1.6-1.1h0m.6 .2h0m.2-1h0m.4-.8h0m-90.7 35.4h0m2.6-3.6h0m2.3-3h0m.9-1.2h0m.1 1.5h0m0-.9h0m5.5-3.3h0m1.9-1.6h0m.1-2.3h0m5-3.7h0m37 15.3h0m4.5-3.3h0m.8-1.6h0m2.8-1.1h0m0-.9h0m7.1-6.3h0m3.4-3.1h0m-94.4 38.5h0m.9-1.4h0m.3 .5h0m1-.9h0m6.5-4.9h0m.7-1.4h0m2.8-2.8h0m1.3-3.4h0m.2 .6h0m5.5-4.7h0m30.8 19.6h0m2.7-2.8h0m2.1-2.5h0m2.7-2.7h0m4.3-3.8h0m1.4 .1h0m.5-.9h0m6.9-6.8h0m.9 0h0m-95.7 39.3h0m2.1 .1h0m3-1.7h0m2.3-2.1h0m1.4-.2h0m.9-2h0m2.5-1.7h0m.9-.8h0m3-4.4h0m1.9-1.6h0m1-.8h0m.1-1.5h0m.7-1.5h0m.3 1h0m3.3-2.2h0m0-.2h0m27.6 18.7h0m.7-.2h0m1.6-1.6h0m.1-.4h0m3.1-1.6h0m2.1-2.1h0m.5-.2h0m.7 .1h0m1.1-2h0m3.7-3.2h0m1.5-1.5h0m1.3-1.3h0m6-4.2h0m-85.6 39h0m1-2.9h0m1.8-2.4h0m.9 .1h0m.7-2.4h0m1.2-1.9h0m.8-1.7h0m.8-4.4h0m.8 3.9h0m1.1-4.3h0m1 .4h0m4.2-3.1h0m23.1 16.8h0m.9 1h0m5.5-3.1h0m2.3-.7h0m.7-1.3h0m.2 .3h0m.1-.2h0m2.6-2.1h0m.3 .2h0m1.7-2.3h0m2.2-2.6h0m.6-1.9h0m1.9-2.3h0m1.5-1.9h0m1.6-.4h0m2-.5h0m-85.4 39.3h0m1.3-1.6h0m1.3-.1h0m1.1-.9h0m0-1.1h0m.8-1.1h0m1.9-3.1h0m4.8-.7h0m.1-1.5h0m.8-1.2h0m1.3-1h0m0 1.7h0m1.2-1.8h0m.2 .4h0m1.2-1.7h0m1.7-1.4h0m1.3-2.9h0m.2 2.2h0m2.4-2.2h0m11.9 17.4h0m.4 .4h0m3.5-2.9h0m.3 1.2h0m.2-1.9h0m1.4-.3h0m2.2-.2h0m1-2.3h0m1.1 1.2h0m.5-3h0m2.8-.2h0m.4-1.4h0m1.5-1.5h0m1.3-.4h0m4.3-3.3h0m4.3-2h0m.4-.5h0m-74.7 36.8h0m2.7-3.1h0m.7-.4h0m1.8-1.9h0m.4 .7h0m1.9-3.2h0m0 2.2h0m.4-1.3h0m2.3-2.1h0m.4-2.8h0m.8-.2h0m.3 1.1h0m.6-1.6h0m1.6-4.2h0m.6 2.9h0m9.8 15.5h0m.1-.2h0m1.5-.1h0m.3-.9h0m1.7-.7h0m.8-2.6h0m.8 .1h0m2.4-2.9h0m1 2.3h0m1.2-3.8h0m.2-.4h0m.1 1.3h0m.2 .4h0m.5-1.1h0m2.4-3.4h0m2 .4h0m1.5-3.5h0m2.5-2.1h0m2-1.7h0m-64.5 38.7h0m2.7-5h0m.3 0h0m.1 4h0m.9-2.1h0m.5-1.8h0m.8-.4h0m.2-1.5h0m1.4-.2h0m.3-2.3h0m1.2-.4h0m.3 .8h0m.8 2h0m.6-2.4h0m.3-1.1h0m1.7 2.6h0m.2-5.8h0m.3 3.6h0m.3-3.9h0m.3-1h0m.2 0h0m.6 3.3h0m.8-.1h0m0-4h0m.2 0h0m1.3 13.3h0m.2-14.3h0m2.5 12.9h0m2.6-.9h0m2.3-1h0m.1 1.3h0m3.7-4.5h0m0 2h0m.4-1.7h0m.2 .8h0m.2 .2h0m.3 0h0m2.4-3h0m.4-.1h0m.2-1h0m2.1-1.3h0m1.2-2.1h0m.2 .7h0m5.4-3.6h0m.1 1h0m1.5-1h0m-45 28.3h0m.6-3.8h0m.6 4.4h0m0-4.9h0m.1-2.3h0m.8 .6h0m.7 2.3h0m.1 4h0m.1-3.1h0m.3-5.1h0m.3 .9h0m.3 8.2h0m1.4-10.7h0m.2 4.5h0m1.7 3.7h0m.4-.6h0m0-3.2h0m2.3-1.4h0m.8 1.7h0m1.9-2.6h0m.4 1.6h0m.3 .8h0m1.7-1.4h0m.5-2h0m0 1.7h0m1.8-3h0m-32.1 21.9h0"/><path stroke="#0000da" d="M501.5 129.6h0m2.5-1.6h0m.6 .6h0m1.7-1.1h0m1.8-1h0m.6-1.4h0m.1 .6h0m1.4-1.3h0m1.9-1.1h0m2.5-.7h0m.9-.1h0m1.8-1.8h0m1 1.5h0m.8 .9h0m.4 1.1h0m.4-.4h0m.7-.5h0m.6 3h0m.6-.7h0m1 1.9h0m-50.5 22h0m.6 .4h0m.4 0h0m2-2.1h0m1.9-1.5h0m1.3-1.3h0m3.3-2h0m4.5-2.2h0m4.9-3.1h0m4.1-2.4h0m5.7-4.1h0m14.8 18.1h0m1.2-1.5h0m.5-1.8h0m1.8-.5h0m.2-3.3h0m.4-1.2h0m.8-6.1h0m.7-4.6h0m.1 2.7h0m.3-1.8h0m.7 2.3h0m.2-.1h0m-66 27.6h0m1.8-1.2h0m1.5-.7h0m2-1.5h0m4.5-4h0m.6-.8h0m.8-.7h0m33.4 17.7h0m.2-1.3h0m1.6-1.4h0m3-4.6h0m6.4-9.3h0m.8-2h0m.4 .2h0m-81.6 36.6h0m.8 .3h0m.8-1.2h0m5-5h0m.8-.9h0m.5-.5h0m1 .4h0m5.3-6h0m2.4-3.5h0m39.4 16.5h0m1.8-2.6h0m.9-2h0m2.1-2.5h0m2.7-3.4h0m1.4-1.8h0m1.4-3.2h0m.1 .2h0m1.6-.9h0m-89.3 38h0m1-.3h0m2.3-4.1h0m.7 .5h0m2.3-3.5h0m1.8-1h0m.6 .5h0m6.5-7.8h0m.2 .9h0m42.9 13.5h0m5.8-6.4h0m2.1-2.5h0m2-1.8h0m1.4-1.9h0m1.9-1.3h0m-89 34.1h0m6.3-6.2h0m1.6-2h0m3.2-4.2h0m2.3-3.2h0m2-1.2h0m49.6 9.5h0m1.7-1.9h0m3.2-4.5h0m1.3-1.2h0m.1-.6h0m-90.5 32.8h0m1.4-1h0m2.5-2.7h0m1.9-2.1h0m.2-2h0m2.4-.7h0m2.8-2.2h0m.6-1.6h0m3.6-2h0m40 15h0m7.9-7.4h0m5.9-5.2h0m3.6-3.8h0m-96.7 39.2h0m.6-.3h0m1.1-.7h0m4.7-3.3h0m.7-1.1h0m2.6-2.7h0m2.2-4.3h0m1.1-.8h0m.2 1.2h0m1.9-2.1h0m.7-1.2h0m.5 .1h0m2.1-2.1h0m41.7 12.2h0m8.9-7h0m.3-.4h0m3-3.1h0m2.8-2.8h0m-90.5 35.4h0m1.1-1.3h0m.4 .5h0m3.4-3h0m.1-1.4h0m1.2-.8h0m2-2h0m3.8-5.2h0m2.4-1.5h0m40.7 13.8h0m.2 1.1h0m1.2-2.2h0m8.3-7.2h0m3.5-2.9h0m-87.8 34.1h0m.2-.5h0m1-1.3h0m.4-1.7h0m2.4-2.1h0m2.2-2.1h0m8.5-8h0m.2-1.7h0m1.6-.9h0m37.7 15.9h0m2.1-1.9h0m5.7-5.9h0m4.2-3.3h0m1.1-.7h0m1.5-2.4h0m.8 .4h0m.9-1.3h0m-90.3 35.8h0m.6-1h0m1.4-.2h0m1.3-2.2h0m.2-.2h0m.5 .5h0m7.4-6.7h0m2-1.8h0m1.6-1.3h0m35.5 13.1h0m2.2-1.5h0m3-2.2h0m2.1-2.8h0m2.8-2.1h0m.3 .2h0m1.1-.5h0m3-4h0m-84.5 32.2h0m1.7-.7h0m4.2-4.2h0m1.5-2.2h0m.9-1h0m1.5-2h0m1.9-1.2h0m1.3-1h0m.8-2h0m34.4 14.6h0m.2 .3h0m.7-1.7h0m4.3-4h0m3-3.6h0m4.9-2.9h0m.7-.5h0m.8-1.6h0m1.6-.8h0m-87.7 36.8h0m.6 .6h0m.3-1.1h0m2.2-1.4h0m2.5-1.6h0m2-2.3h0m3.2-4.3h0m.6 .3h0m3.6-4.3h0m2.5-2.6h0m.1-.9h0m25.6 17.7h0m1.8 .4h0m2.6-2.1h0m2.5-2.3h0m2.2-1.1h0m.9-2.2h0m4.4-2.1h0m.9-1.3h0m1.2-2h0m1.9-1.3h0m-75.7 32.9h0m2-5.9h0m.4 2.9h0m1.6-5h0m.4 .7h0m.1-.7h0m1.6-2.1h0m.4-1.4h0m.2-.8h0m1.4-.4h0m.7-2h0m2.2-1h0m1.2-1.2h0m1.8-.6h0m18.6 19.5h0m.8-.4h0m13.6-8.7h0m.2-.4h0m1-1.4h0m.4-.8h0m5.2-7h0m-76.3 36.8h0m.2 .6h0m.2-1.4h0m.1 2.3h0m.3 .4h0m.3-1.2h0m2.1-5.3h0m.7 1.8h0m.5 .4h0m.9-1h0m2.8-5.1h0m.5 1h0m1.6-1.3h0m0 .8h0m3.2-2.1h0m1-1.6h0m1.1-.7h0m1.5-1.9h0m.6 .7h0m9 14.5h0m1.7 .4h0m5.5-4.6h0m2.4-1.9h0m1.2-.4h0m4.5-2.9h0m3-3.1h0m.3 .8h0m1-1.5h0m1.5-1.1h0m.3-1.1h0m3.8-2.3h0m.5 1.8h0m.2-1.3h0m-72 37.5h0m1.4-.3h0m1.4-.9h0m.1-1.8h0m.5 .5h0m2.4-2.6h0m3.6-2.6h0m1.5-2.7h0m.2 .4h0m.1 2.3h0m1.3-3.5h0m.9-1.9h0m.3-.6h0m1.5-.1h0m2-3.8h0m.1-.2h0m2.7 18.5h0m.3-19.6h0m1.8 17.5h0m1.3 .3h0m2.3-1.2h0m2-1.1h0m1.7-2.5h0m1.2-1h0m4.6-2.9h0m.1-1.4h0m2.6-.7h0m.4-1.4h0m2.5-1.3h0m.3-1.1h0m2.4-3.3h0m-59.4 37.3h0m2 .8h0m.7-4h0m.9 4.4h0m.8-3.5h0m.4 .5h0m.7-1.7h0m1.4 5.5h0m.3-6.6h0m1.4 4.1h0m.2 1.3h0m.7 .8h0m1.8-5h0m.4-5.6h0m.3 4.3h0m.3-.6h0m.2-5.9h0m1.2 11.1h0m.3-9.7h0m.6 4.7h0m1 1.2h0m1-1.5h0m1.8 .5h0m1.5-.2h0m.2-.8h0m1.2-.8h0m1.4-1.2h0m.6 1.9h0m2.9-2.3h0m2-2h0m6.5-5h0m.2-1.3h0m.4-.4h0m-36.5 24.6h0m1.2-3.8h0m3.1-.4h0m2.8 1.3h0m1-1.7h0m0 1h0m1.8 .1h0"/><path stroke="#0000e6" d="M505.1 129h0m1.7 0h0m1.7-2.3h0m1.7-1.3h0m2.2 .3h0m1-2.1h0m2.8-.7h0m1 .6h0m.8 1.3h0m.4 1.2h0m2.1 3.8h0m0-4.3h0m-46.1 23.8h0m3.2-3.1h0m2.2-1.1h0m4.6-2.4h0m.4 .3h0m3.5-1.9h0m1.7-1.7h0m3.3-1.4h0m3.1-2.1h0m.4-1.2h0m2.4-1.8h0m3-2.8h0m12.7 17.5h0m1.6-1.3h0m1.4-2.4h0m.3-1h0m0 1.6h0m1.6-4.9h0m.4-3.7h0m.3 2h0m0 1.6h0m.2-7.9h0m.8 5h0m.1-5.7h0m-68.9 37.8h0m4.1-5.4h0m.7-2h0m1.9 0h0m1.7-1.2h0m.3-1.1h0m2.2-2.6h0m0 2.3h0m.6-2.6h0m6.7-4.2h0m29.7 17.4h0m1.7-2.1h0m3.9-5.7h0m.6-1.3h0m.2-.5h0m.9-.6h0m1.1-1.3h0m1.7-2h0m1-2.2h0m-76 32.2h0m3.7-3.6h0m6.4-6.2h0m.3 .2h0m2.5-3.5h0m.8 .1h0m40.9 10.8h0m5.8-8.2h0m-80.3 31.2h0m6.7-8.1h0m2.4-1.5h0m.2 .4h0m1.5-1.3h0m.3 .1h0m1.7-1.6h0m.4-1.3h0m.1 .9h0m38.6 14.8h0m1.7-1.9h0m5.2-6h0m8.1-8.3h0m.6-.8h0m-91.2 37.5h0m4.1-3.3h0m1.3-.5h0m.8-.2h0m1.8-1h0m2-2.6h0m.9-1.8h0m.9-2.4h0m4.2-4h0m41.1 14.5h0m1.3-.9h0m2.4-2.4h0m1.7-1.7h0m2-1.7h0m3.5-3.2h0m1.9-2.3h0m3.9-4.5h0m-93.6 38.2h0m.9-.3h0m3.7-4.3h0m.4-1.5h0m.6-.7h0m0 .6h0m1.7-.8h0m1.6-2h0m3.6-4.6h0m5.7-4.8h0m39.6 14.6h0m7.1-7.1h0m3-2.8h0m-88.1 33.6h0m1.7-1.4h0m4.2-3.2h0m.8-1.9h0m3.1-4.2h0m.8 .9h0m1.9-2.4h0m1.2-2.3h0m.6-.2h0m4.6-4.6h0m35.7 18.5h0m2.7-1.7h0m5.2-6.2h0m3.1-2.7h0m-84.1 30.5h0m4-3.4h0m.3 .3h0m4-5.4h0m3.8-3.6h0m1.2-1.8h0m.9-1h0m3.9-3.3h0m.5 .3h0m33.8 18.5h0m2.9-2.7h0m2.2-2.8h0m2.3-.8h0m2.1-2.3h0m.4-.6h0m2.6-2.7h0m.5 .5h0m3.2-3.9h0m-82.9 30.4h0m1.9-.9h0m10.7-12.1h0m1.9-1.3h0m32.8 17.9h0m.8-.8h0m.6-.9h0m5.8-5.8h0m2.1-2h0m-80.2 30.1h0m1.1-1.5h0m1.9-2.6h0m1.1-.1h0m3.1-3.5h0m.2-.3h0m3.4-2.8h0m1.5-1.1h0m3.1-3.6h0m1.7-.8h0m.4-.9h0m31.2 17.4h0m5.5-5.8h0m.1 .9h0m8.6-9.2h0m3.1-1.6h0m.2-1.2h0m1.7-1.4h0m-87.7 38.5h0m2.6-4.5h0m2-.8h0m2.6-3h0m4.5-4.9h0m2.3-2.3h0m2.4-1.7h0m28.3 16.2h0m4.3-3.6h0m.8-.8h0m9-7.5h0m2.8-2.1h0m.5-.3h0m3.4-2.8h0m-84.1 36.3h0m.5-.8h0m1.7-1.6h0m4.4-4.7h0m.8 .1h0m1-1.5h0m2.8-3.4h0m1.7-1.3h0m1.3-1.8h0m.7 .2h0m2.7-1.7h0m22.7 17.2h0m1-1.1h0m2.8-1.4h0m3.3-2.9h0m3.7-2.6h0m.8-1.6h0m2.5-2.5h0m1.2-1.3h0m1.1-.4h0m.9-1.4h0m2.4-1.3h0m-78.1 37.9h0m.3-2.5h0m1 1.2h0m1-3h0m1.1-.7h0m.7-2.8h0m.9-1.2h0m1.4-1.5h0m.3-1.9h0m2.8-3h0m.4-.9h0m.9 .5h0m.8-1.7h0m3.5-.7h0m.1-.2h0m14.4 18.8h0m7.9-3.2h0m.7-1.6h0m.4-.2h0m2.5-1.2h0m1.5-.9h0m4.2-5.3h0m2.2-2h0m1.7-4.3h0m.2 2h0m1.1-2.9h0m0 1.9h0m1.2-1.8h0m-75.2 39.7h0m1.3-3h0m.9 2.9h0m1.7-3.2h0m2.2-5.4h0m0 3.4h0m.6 2.4h0m.2-3.5h0m1.6-1.1h0m1.1-1.6h0m1.3-1h0m.8 .4h0m1.1-1.8h0m.8-1.1h0m3.9-2.2h0m2.5-1.9h0m.6-1h0m2.4 16.7h0m.7-.7h0m2.4-.1h0m.5-1.5h0m2.3-2h0m1.5 .8h0m1.8-1.5h0m4.8-3.9h0m.2-1.4h0m3.4-.8h0m1.3-.6h0m2.5-3.8h0m.4-.7h0m.1 2h0m.9-1.3h0m.6-.8h0m4.8-1.9h0m-69.6 39.1h0m2.2-1.3h0m0-.9h0m.7-1.5h0m.2 .2h0m1.5-1.4h0m1.4-1.3h0m1.1 .2h0m2.3-2.2h0m1.4-1.2h0m.4-.6h0m1.8-4.1h0m2 2.2h0m1.1-1.4h0m0-3h0m1.6 15h0m.4-1.3h0m.4 .6h0m1.7-17.7h0m.8 15.3h0m.9 .8h0m2.6-.9h0m.1-2h0m3.1-2.6h0m.5 .5h0m2.9-1.2h0m1.2-2.4h0m.3 .5h0m2.3-3.1h0m1.9-2.3h0m1.9-1.1h0m1-1.1h0m-51.8 36.4h0m6.3-11.7h0m.8 6.4h0m1.2-8h0m.3 4.4h0m0-.4h0m1.5-6.4h0m.3 3.9h0m.2-2.6h0m.1 5h0m.4-7.3h0m.1 9.7h0m.1-6.4h0m.1 3h0m.6-6h0m.5 7.8h0m.1 3.8h0m.3-1.8h0m.1-.5h0m.5 .1h0m.8-2.8h0m.5 .5h0m2-.2h0m2 1.8h0m.9-2h0m.1 2.3h0m.3-3h0m1.2-.2h0m2.7-2.2h0m.2 .8h0m.5-2.2h0m1.8 .5h0m1.2-2.8h0"/><path stroke="#0000f2" d="M509.3 127.2h0m.5 2.1h0m.9-.9h0m1.9-.9h0m.5-1.4h0m.1 .7h0m.2-.6h0m2.4-.4h0m.8-.2h0m.4-1.4h0m1.2 3.5h0m.3-.8h0m1.1 .7h0m.5 2.2h0m-45.2 19.5h0m3.2-2h0m.1-.5h0m.9-.3h0m2.4-2.3h0m3.6-.7h0m1.6-.9h0m1.2-.1h0m2.1-2.2h0m8.6-5.6h0m1.6-.9h0m2.6-1.9h0m4.2-1.8h0m.4 .4h0m5.9 17.5h0m.2 1.7h0m1-2.3h0m2.5-3.2h0m1.9-2.5h0m.4-1.9h0m.1-1.7h0m.7-2.8h0m-62.3 28.9h0m1.4-2.4h0m3.3-1.8h0m3.1-3.5h0m.8-.8h0m3.2-1.2h0m.8-2h0m2.8-.6h0m27.4 16.1h0m8.5-12h0m2.3-4.2h0m.3 .1h0m-73.4 32.1h0m.3 .2h0m.4 .1h0m4.3-4.8h0m1.1-.8h0m7-6.9h0m.3-.9h0m39.3 10.4h0m2.1-2.4h0m1.1-2.1h0m2.3-2.9h0m1.1-1.6h0m-85.1 37.6h0m4.6-3.5h0m.2-2.1h0m11.1-8.9h0m2.1-3.1h0m37.4 15.8h0m2.2-3.1h0m.6-.2h0m5.8-5.6h0m.3-.9h0m1 0h0m0-1.3h0m2.6-2.9h0m2.9-3.1h0m-89.8 38.7h0m1.5-.8h0m2.5-2h0m.9-.7h0m1.1-1.2h0m2.9-3.8h0m.6 .5h0m1.1-2.1h0m.3-1.2h0m1.1-1.1h0m.5 .1h0m2-2.5h0m2.1-2.4h0m2.2-2h0m43.3 11.2h0m10.2-10.7h0m-83.1 27.6h0m1.1-.2h0m1.5-2.6h0m2.1-1.3h0m.5 .4h0m1.4-1.5h0m38.5 13.7h0m6.2-5.3h0m3.2-3.7h0m5.3-4.8h0m-88.4 35.4h0m2.3-2.2h0m.1 1.3h0m2.3-2.8h0m1.5-2.1h0m.6 1h0m2.8-4.2h0m.9-1.1h0m1.4-2.8h0m.7 .8h0m1.5-2.3h0m.6-.7h0m2.8-2.4h0m.6-.9h0m1.1 0h0m38.8 12.4h0m.9-.9h0m.9-.5h0m5.7-6.4h0m2.4-1.3h0m2.9-3.1h0m-90.5 38.3h0m1.2-.5h0m2.1-1.9h0m5.1-5.4h0m2.6-3.2h0m3.8-4.4h0m2-1.4h0m34.6 16.9h0m6.6-5.8h0m1.8-2h0m4.4-4.2h0m1.8-1.8h0m.9-.8h0m.1-1.1h0m.5 .5h0m1.7-2.3h0m1.3-1.3h0m-88.7 38.8h0m.5-1.7h0m.5-.7h0m7.8-6.6h0m.5 .4h0m2.1-2.7h0m1.8-2.2h0m1.8-1.8h0m.6-1.6h0m32.9 16.4h0m8-6.5h0m6.3-5.7h0m2.1-3.2h0m-84.8 35.2h0m1.1-.1h0m3.9-5.1h0m2.6-2.4h0m.1 .4h0m1.9-.8h0m5.2-6.8h0m1.2 1.9h0m3.2-5.3h0m28.7 17.3h0m.9-1h0m8.7-7.3h0m2.2-2.2h0m5.5-5.3h0m.1-.2h0m.7-.9h0m-82 34.8h0m6-6.8h0m1.9-2.9h0m1.1-1.4h0m1.6-.4h0m3.9-3.2h0m24 18.9h0m4.5-2.8h0m6.8-8.4h0m2.8-1h0m4.5-3.9h0m.5-.7h0m-79.1 33.9h0m.3-.2h0m2.5-1.8h0m.7-1.4h0m1.5-.5h0m.4-1.2h0m3.6-3.9h0m.1 .7h0m1.8-2.5h0m1.3-.5h0m.6-1.4h0m25.4 13.7h0m11.7-10.6h0m6.8-5.1h0m-74.6 36.7h0m.1 .8h0m1-2h0m.8-2.3h0m.6-2h0m.4 .9h0m.8-4.1h0m3.5-4.5h0m2.1-.6h0m3-1.9h0m15.6 15.7h0m.2-.8h0m1.5-.5h0m.9-.5h0m2-1.9h0m.9 0h0m3.6-2h0m3.6-1.3h0m1.9-.5h0m.3-1.8h0m-63.1 30.7h0m1-1.9h0m.6 1.1h0m1.4-.3h0m1-1.2h0m.4-4.2h0m2.9-2.1h0m.6 2.6h0m.2-1.4h0m1.9-3h0m2.7-.8h0m3.8 10.5h0m.2-15.2h0m.4 .4h0m.2-1.9h0m0 17.1h0m.8-.2h0m.4-17.8h0m1.3-1.6h0m1.3 17.5h0m3.1-3.3h0m1.8-.1h0m.1-1.4h0m.8 .1h0m1.7 .2h0m2-1h0m.7-1.7h0m.9-.7h0m.3 .2h0m1.1-1.8h0m2.9-2.2h0m.7-.4h0m.8 .7h0m.9-2.2h0m.2 .3h0m1.5-1.7h0m3.2-1h0m1.2-1.2h0m-62.1 38.5h0m1-2.5h0m5-2.8h0m.1-1.3h0m2.6 2.6h0m.3-4.8h0m.2 7.4h0m1.8-8.9h0m.1 10.8h0m.5-14.9h0m.2 3.5h0m.1 6h0m2 2.2h0m.2-11.2h0m.1-2.3h0m.2 9h0m.4-1.2h0m.3-9.1h0m1.3 12h0m.6 .4h0m.9-.5h0m.4-3.3h0m1.3 1.9h0m.3-.7h0m1.7 .2h0m2.5-3.2h0m.5-1.1h0m.1 .7h0m.3 1.3h0m.3-1.1h0m2.4-1.6h0m.6-1.9h0m1.6-.6h0m.1-1.9h0m2.1-.8h0m1.1 .5h0m-37.7 20.6h0m.4 3.6h0m.7-2.2h0m0 5.6h0m2-7.7h0m.1 2.6h0m1.1 1.4h0m2.3-2.8h0m.4 .5h0m.1 2.3h0m.2-.3h0m1.5-2.3h0m.6 1.8h0m1.5-2.2h0m2.5-.8h0"/><path stroke="#0000fe" d="M512.7 128h0m2.1-.5h0m2.1-.8h0m.3-1.1h0m0 1.8h0m1 1.3h0m-42 21.3h0m3.3-3.1h0m1.3-.7h0m3.3-.5h0m3.7-2.6h0m1.7-2h0m3-.2h0m4.5-4.3h0m4.2-2.5h0m.4-.7h0m2.4-1.9h0m.1 .7h0m1 0h0m4.6-1.7h0m4.5 16.5h0m1.8-2h0m.9-3.1h0m.4-1.4h0m.9 .1h0m0 1.5h0m1.3-11.6h0m.1 1.4h0m.2 1.6h0m.1 .7h0m-63.5 32.1h0m2.9-2.2h0m.6-.4h0m.1-1.5h0m3.1-2.5h0m.1 .6h0m10.7-9h0m28.9 12.3h0m1.1-2.4h0m1.3-1.3h0m3.4-4h0m-76 33.7h0m1.3-.9h0m4.6-3.3h0m1.3-1h0m.6-1.8h0m5.9-5h0m.7-.8h0m6.3-6.7h0m32.4 17.6h0m.6-.4h0m5.3-7.2h0m4.2-5.5h0m3.1-3.4h0m.4-.8h0m-83.9 37.8h0m3.1-3.9h0m.2 .2h0m2.6-1.7h0m4.7-5.5h0m6.5-6.1h0m36.1 16.2h0m3.6-4.2h0m3.4-3.7h0m1-1.5h0m-81.6 31.6h0m.4-1.4h0m9.7-8.8h0m3.1-3.9h0m.2 .1h0m.8-1.8h0m.8-.6h0m1.2-1.3h0m35.1 17.9h0m9-8.2h0m3.6-4.7h0m.4 1h0m-82.3 28.6h0m3.6-3.2h0m.5-1.3h0m10.8-9.4h0m33 16.9h0m5.8-6.3h0m9.5-7.9h0m.9-1.4h0m3.2-3h0m-90.1 38.4h0m1-1h0m8.1-7.9h0m1.5-.9h0m3.8-4.3h0m1.4-1.2h0m37.6 12.4h0m.1-.4h0m1.8-1.4h0m1.4-1.3h0m1.8-1.8h0m3.2-3.2h0m.2-.6h0m4.3-3.9h0m-84.8 35h0m13.4-15h0m37.5 13.9h0m1-1.3h0m5.7-4.9h0m1-1.1h0m2.2-2h0m4.9-5.3h0m1.9-1.9h0m-84.9 36.7h0m.1-.9h0m1.8-1.9h0m5-3.1h0m1.1-2.6h0m5.2-5.7h0m1.9-2.2h0m29.7 17.8h0m.5 0h0m2.8-3.2h0m2.1-.6h0m.8-.9h0m4.1-4.8h0m7.4-5.9h0m.3-1.7h0m-84.4 37.5h0m1.9-.4h0m.9-3.4h0m.6 .6h0m.4 .1h0m1.4-1.7h0m2.5-3.8h0m4-2.6h0m2.1-1.6h0m1.5-.8h0m3.4-5.6h0m25.7 18.2h0m.1 1.2h0m5-4.4h0m3.3-2.7h0m2.3-1.8h0m1.1-1.8h0m.7-1.4h0m1.7-.3h0m2.9-3.8h0m2.2-2.4h0m-82.5 36.7h0m1.1-.3h0m2.9-4.1h0m2.5-1.9h0m1-1.8h0m.3 .2h0m.4 .8h0m.8-2.3h0m1.4-.5h0m1.6-2.7h0m2.1-1.3h0m3.2-3.4h0m23 18.8h0m4.3-3.1h0m2.3-4h0m.4 .3h0m5-5h0m3.7-2.2h0m.2-.8h0m1.8-1.1h0m1.4-1.5h0m-77.3 33.9h0m2.4-2.3h0m.9 1.2h0m1-1h0m.5 .1h0m3.8-5.5h0m3-2h0m.7-2.2h0m.2-1h0m3.5-1.8h0m.4 .3h0m14.4 17.6h0m.7 .1h0m2.7-2h0m2.9-1.7h0m.6 .3h0m2.8-2.1h0m2.7-2.5h0m.4 1.6h0m1.3-1.8h0m.7-1h0m.7-.8h0m.7-.9h0m2-2.7h0m5.8-4.5h0m-73.7 38h0m1.6 .2h0m1.5-3.8h0m0-3.7h0m.1 2.4h0m.8 1.6h0m.5-5.1h0m2.1-2.9h0m.8 .6h0m.5-.9h0m1.5-1.3h0m2.8-2.5h0m1.3-2.1h0m2.4-1.5h0m9.4 18.5h0m2.6-1.8h0m.6-.9h0m.4-.2h0m2.1-.7h0m.8-1h0m2.2-.3h0m1.3-1.6h0m2.6-.8h0m.2 .7h0m1-1.8h0m3.3-1.9h0m1.2-1.9h0m.2 1h0m3.3-3.7h0m2.5-3.8h0m-65.7 38.2h0m.7-2.4h0m1.1-.4h0m3.4-1.3h0m.2 4.1h0m.2-6.5h0m.7-1.1h0m.2 7.7h0m1.2-6.9h0m.8 8.3h0m1-11.7h0m.2-1.1h0m1.8 10h0m.2-12h0m.7 10.9h0m.9 1.1h0m.9-14.6h0m.7 15.7h0m2.5-3.7h0m5.9-2.4h0m3.1-2.4h0m1.9-3.3h0m1.1 .1h0m.6 .4h0m1.4-1h0m1.8-2.1h0m2.7-1.6h0m.1-1h0m3-1.1h0m-58.2 38.4h0m.3 .6h0m2.7-4.2h0m1.1 4.3h0m0-3.2h0m1.4 3.4h0m.3-3.2h0m2.7-6.4h0m2 3.4h0m.3-5.8h0m2.4-1.8h0m.7-5.5h0m0 5.1h0m.3 2.5h0m0-4.7h0m.3 4.4h0m.4 .7h0m.5 2.2h0m.8-9.5h0m.1 6.3h0m.2-1.1h0m2.8 2.2h0m1.5-.7h0m1.3-2.2h0m1.4-1.3h0m.6 2h0m2-4.8h0m3.5-.8h0m-33.6 21.2h0m2.7 .3h0m2.2-1h0m2.1 .6h0m.5 .9h0m.6-1.4h0"/><path stroke="#0000ff" d="M510.6 129.6h0m.5-.7h0m1.6 .8h0m1.1-1.2h0m2.3-1.5h0m.4 1.6h0m-35.6 18.5h0m2.8-.9h0m5.9-4.2h0m3.9-1.8h0m1.1-.5h0m1.5-1.4h0m.7-.8h0m.9-1.5h0m.9-.9h0m1.4-.1h0m1.2-.8h0m4-1.2h0m8.6 12.6h0m.6 .1h0m.5-15.4h0m2.5 4.5h0m.7 1.2h0m.5-5.6h0m.1 4.1h0m.1-2.9h0m.2 6.3h0m-64.4 30.3h0m1.4-.7h0m1.4-.7h0m3.9-4.5h0m3.8-3.6h0m.8 0h0m35.2 7.1h0m1.5-2.3h0m2.3-3.2h0m1.4-1.8h0m1.4-2h0m.7-2.6h0m1 .5h0m1.1-4.3h0m-75.3 38.2h0m11.1-9.8h0m.2 .8h0m.8-1.6h0m1.6-2.1h0m0-1h0m1.2-1h0m3.3-3.2h0m30.3 19.1h0m1-1.3h0m2.8-3.1h0m1.2-2.1h0m1-1.9h0m2.4-2h0m2.3-4.7h0m1.1-.1h0m2-2.5h0m-80.5 35.9h0m1.2-1.2h0m.9-1.7h0m7.2-6.6h0m3-3.6h0m0 1.4h0m1.8-3.2h0m43 7.4h0m6.7-7.3h0m.9-1.4h0m1.2-.8h0m-86.7 38.4h0m1.6-1.5h0m1.7-.7h0m5.9-8h0m.9-.3h0m56.8-5.7h0m.3-1.1h0m-86.8 35.7h0m1.6-1.4h0m.4-.9h0m2.8-2.9h0m1.3-1.2h0m1.9-1.7h0m1.1-1.2h0m.2-.5h0m.2-.9h0m.7 1.8h0m1.9-3.3h0m.7-.5h0m3.8-3.2h0m31 17.6h0m1.1-.5h0m.6-.7h0m7.8-6.5h0m1.3-2.1h0m4-4.7h0m2.2-1.6h0m1.7-1.6h0m-86.2 36.9h0m1.1-.1h0m2.9-3.3h0m4.1-4.9h0m4-4.6h0m3-3.2h0m1.8-.6h0m38 10.7h0m1.6-1.7h0m2-3.1h0m7.8-6.4h0m-88.2 38.6h0m1.5-.7h0m2.7-3.2h0m1.4-1.3h0m2.5-1.7h0m.1-1.6h0m2.4-1.6h0m.9-1.8h0m.2 1.2h0m1.3-1.9h0m3.1-3.5h0m2-2.7h0m2.6-.8h0m31.1 16.4h0m3.4-3.4h0m.4-.2h0m4.4-4.7h0m6-4.6h0m-83.7 34.9h0m.5 .9h0m4.4-5.3h0m.8 .3h0m.4-1h0m5.5-5.5h0m3.2-4h0m1.5-1.5h0m28.7 17.5h0m.8-1.1h0m1.2-1.3h0m2.9-2.8h0m2.1-2h0m1.6-2.3h0m.3 .4h0m6.6-6h0m.1-.6h0m.7-.1h0m-80.3 35.8h0m4.1-4.6h0m1.3-2.2h0m1.6-1.1h0m.4-.6h0m1.3-1.1h0m4.4-3.5h0m2.2-3.5h0m29 13.7h0m2.1-1.5h0m12.7-10.7h0m2-2.8h0m-78 32.9h0m.2 1.8h0m1.7-2.6h0m1.7-1.4h0m.5-.1h0m1.4-1.9h0m.2 .2h0m3-3.3h0m1-1.7h0m.7-1.1h0m.4 .7h0m4.1-3.8h0m.7-1.1h0m23.6 16.6h0m2.7-2.4h0m4.3-5.2h0m6.5-5.9h0m.8-.2h0m1.9-1.2h0m.5-1.8h0m-75.8 38.1h0m1-.7h0m1-1.2h0m.5-1.1h0m2.5-5.1h0m2.4-1h0m2-2.2h0m.5 1.6h0m1.3-1h0m.6-2.7h0m.6-.8h0m.3 1.7h0m1.1-1.6h0m1.2-1.6h0m.8-1.7h0m.1-1h0m.5 .4h0m15.8 16.3h0m3.5-1.7h0m6-4h0m5.2-4.4h0m2.5-2.6h0m2-2.1h0m-66.9 31.8h0m.7-.4h0m1.1-1h0m.3-1.5h0m.8-1.5h0m.1 .4h0m.4-.1h0m2.5-4.2h0m1.1-.1h0m1.4-1.4h0m2.8-2.8h0m7.8 17.4h0m1-1.8h0m.9-.2h0m.8-.5h0m9.1-4.5h0m3.3-1.2h0m3.5-2.4h0m3.3-4.7h0m-59.4 34.8h0m1.6-1.7h0m2.9 .6h0m.4-3.7h0m1.1 .5h0m.3-4.2h0m.7 6.5h0m.9-.8h0m.4-5.1h0m0-.7h0m1.9 3.8h0m.5-6.7h0m1.4-3.2h0m.3 13.1h0m2.3-15.3h0m.2 13h0m.5-14.1h0m1.1 .1h0m2.5 11.9h0m1.4-1.9h0m7.1-5.6h0m1.7-2.1h0m1.3 1.1h0m2-3.1h0m1.4 0h0m.9-.3h0m-40.8 22.5h0m1.1 1.4h0m.8-3.9h0m1.3 4.6h0m.8-.9h0m.7 3.4h0m.3-.5h0m.4-2.1h0m.3-4.3h0m1.1 .3h0m.9-.4h0m.6 2.6h0"/><path stroke="#0005ff" d="M480.8 148.3h0m.4 .5h0m5.2-4h0m.4 .4h0m.3-.7h0m2.7-1.2h0m4.7-2.6h0m.9-.7h0m5.6-5h0m.5 .3h0m4.5-2.5h0m.9-.1h0m.5 1.1h0m1.3-.6h0m4-2.3h0m.8 .1h0m.1-.8h0m1.2 14.2h0m.4-2.3h0m.5-7.9h0m.5 3.3h0m.9-4.2h0m.1 3.4h0m.2-6.2h0m.3 9.5h0m-57.3 23.6h0m2.8-2.7h0m3.2-2.6h0m1.9-.6h0m3.1-4h0m1.9-.4h0m4.7-2.9h0m22.3 17.2h0m.9-3.5h0m.7 .2h0m2.2-4.8h0m.6-1.2h0m.9 .3h0m1-1.1h0m.9-1.9h0m1.3-2.8h0m.7-1.1h0m-74 37.3h0m2.4-2.1h0m.7-.6h0m1.3-1.1h0m1.3-1.6h0m3.9-3.5h0m6.6-7.5h0m1.3-.1h0m30.3 17.1h0m2.6-3.2h0m1.7-2.3h0m9.6-13.5h0m-80.5 38.2h0m3-3.8h0m.2 1h0m2.2-3.1h0m2.1-2.4h0m2.5-2h0m3.8-2.6h0m2.4-3.8h0m.8-1.3h0m-38.9 39.1h0m9.2-7.1h0m1.2-2.6h0m1.8-2.3h0m.7-.9h0m2.1-1.4h0m4.9-4.5h0m35.9 13.1h0m4.4-3.3h0m2.4-2.3h0m-79.6 29.2h0m1.2-1.1h0m1.8-3.1h0m.1 .7h0m8.4-8.8h0m.5 .8h0m.8-2.1h0m.7-.3h0m1.5-.3h0m1.4-2.1h0m28.7 18.4h0m2.6-2.6h0m2-1h0m1.3-1.8h0m1.8-2h0m1.4-.6h0m2.7-2.7h0m2.2-3.1h0m.4 1.1h0m4.3-4.7h0m1.1-1.3h0m-84.1 35.9h0m.2 .5h0m.7-.6h0m2.5-2h0m4.5-5.8h0m1-2.6h0m1.5 .1h0m.1-.8h0m4.9-4h0m1-1.6h0m29.1 18.4h0m2.1-2.4h0m1.5-1.8h0m13.8-12.2h0m-84.1 35.5h0m3.6-2.1h0m2.3-2h0m.4-1.6h0m1-.1h0m4.4-5.4h0m.8-.4h0m1.7-2.2h0m31 16h0m1.1-.8h0m5.3-5.3h0m3.3-2.9h0m1.4-2h0m0 1.5h0m8.2-9.3h0m-82.4 36.8h0m.7 .1h0m.5-1.8h0m3.3-2.1h0m.2-1.3h0m3.7-3h0m3.2-4h0m3.4-4.8h0m33.5 12.9h0m5.5-5.4h0m7.1-7.3h0m0 .7h0m-79.8 34.9h0m.2 .7h0m3.9-4.3h0m1 0h0m1.4-2.6h0m.5-.1h0m.7-1.7h0m1.3-1h0m5-4.8h0m1.7-2.6h0m30.2 12.6h0m3.5-2.6h0m.1-.8h0m2.7-1.1h0m2.4-3.7h0m.3 .4h0m.8-.6h0m.7-.8h0m2-2.9h0m-80.3 38.4h0m1.3-.5h0m.3-.8h0m.9-.9h0m12.2-13.6h0m26.3 13h0m2-2.1h0m3.8-3.4h0m7.3-7.6h0m1.9-1.2h0m-71.7 35.8h0m1.1-2.3h0m2-2h0m.4-3.1h0m.1 3.5h0m1-1.7h0m3.5-2.4h0m2.5-2h0m1.2-2h0m2.6-4h0m10.8 16.7h0m2.7 .1h0m1.3-2.1h0m4.7-2.1h0m0 .4h0m2.3-1.4h0m2.3-1.5h0m3.1-3.4h0m1-1.1h0m.6 .2h0m.1-.7h0m7-6.4h0m1.3-.4h0m-69.2 37.9h0m.3-3.5h0m.4 4.1h0m1.4-4.9h0m.8 1.9h0m.1-4.5h0m.1 .8h0m.7 .3h0m1.2-4.8h0m.3 2.9h0m1.1-2.7h0m.6-1.2h0m2.9-3h0m.5-.6h0m1.6 .3h0m.2-1.6h0m1.3 16.7h0m1.4-17.7h0m.3 .5h0m.6 17.5h0m.3-18.8h0m1.1 17.9h0m4.2-1.7h0m.6-1.3h0m5.9-3.5h0m.6 2.2h0m0-1.4h0m3-1h0m1.1-1h0m.7-.4h0m.4 .7h0m.8-2.3h0m1.5-.8h0m2-1.1h0m.5-1.3h0m.6-.8h0m1 1.3h0m1.3-3h0m.5-.4h0m-54.3 34.1h0m3-7.3h0m.5-.2h0m0 6.6h0m.2-4.9h0m.3 1.3h0m1.6-1.6h0m2-6.6h0m.2 2.9h0m0 1.4h0m.1 1.4h0m.7-3.6h0m.4 8.1h0m.5-11.3h0m.4 9.9h0m.3-10.7h0m.4 .4h0m.8 9.4h0m1.6-3h0m3-2h0m.3 4.2h0m1-2.5h0m1.1-4h0m.4 1.4h0m.5 .8h0m0-1.2h0m.7 1h0m.3-.9h0m0-1h0m4.6-2.8h0"/><path stroke="#0010ff" d="M485.1 146.1h0m3.3-1.4h0m2.2-.7h0m3.3-1.9h0m1.1-1.1h0m2.8-3.4h0m3-1.6h0m1.2-.1h0m2.3-.5h0m.5-.2h0m.2-.9h0m5.5-.9h0m.2-1.2h0m.9 1.1h0m.8-1.3h0m.3 13.5h0m.2 1.7h0m.8-2.5h0m.4-10.2h0m.6 6h0m.6-3.4h0m1.3-.7h0m.5-1.3h0m-56.9 29.2h0m1.8-.9h0m8-7.4h0m2.4-.7h0m3.5-2.6h0m3.4-2.5h0m19.4 17.7h0m.8-1.2h0m.2 .4h0m1.4-4.3h0m5.2-6.3h0m-70.8 33.5h0m2.3-1.6h0m4.6-6.4h0m11.2-10.3h0m.3-.9h0m.5 .9h0m29.4 16.7h0m1-1.7h0m2.6-3.4h0m.2 .2h0m.8-1.7h0m2.5-2.8h0m3.9-6.1h0m1-1.3h0m-78.2 36.3h0m4.4-4h0m.2 .1h0m6.6-6.2h0m2.4-3.5h0m2.7-2.6h0m.3-.7h0m30.1 18.3h0m1.8-1.4h0m3-3.5h0m.3-.1h0m5.8-5.5h0m1.8-2.9h0m-78.9 33h0m.6-.1h0m1.6-1.8h0m.7-.3h0m4.2-4.6h0m1.4-3h0m2.2-2.9h0m3-1.8h0m3.5-3.9h0m31.2 16.3h0m9-7.6h0m-78.9 30.6h0m3.5-3.1h0m2.3-4.3h0m.4-.4h0m2.7-1.9h0m1.9-1.8h0m4.3-3.8h0m3.1-2.7h0m29.6 16.6h0m5.7-5.9h0m2.6-2.1h0m2.9-3.2h0m4-4h0m-82 36.6h0m2.9-3h0m2.4-2.8h0m3.7-3.8h0m4.4-7h0m32.7 15.1h0m1.6-1.2h0m1.3-2.1h0m3.4-2.6h0m2.1-1.4h0m1.2-2.1h0m7.2-5.7h0m-83 36.3h0m1-1.7h0m1.4-1h0m6.1-6.6h0m2-1.5h0m0 .2h0m3.8-4.4h0m.9-.7h0m29.2 16h0m2.8-2.8h0m2.6-2.4h0m9.2-8.2h0m1-.7h0m2-1.9h0m2.9-3.4h0m-76.9 32.7h0m2-1.8h0m1.4-1.3h0m3.4-5h0m2.8-3.3h0m24.9 17.7h0m3-1.7h0m.9-.5h0m9.3-9.8h0m7.7-7.1h0m-82.3 39.4h0m4-3.7h0m4.1-2.8h0m.1-.5h0m2-1.9h0m2-2h0m2.5-4.1h0m1.4-.3h0m29 11.6h0m4.5-4.1h0m2.2-3h0m2.4-1.2h0m.1-1.2h0m5-4.7h0m-77.1 37.1h0m2.2-3.1h0m.8-.6h0m1.6-1.4h0m.1-.7h0m1-.5h0m.9-1.4h0m1.7-1.6h0m3.5-3.9h0m21 13.7h0m2.5-.3h0m1-.3h0m1.3-1.7h0m2-1.3h0m7.1-6.8h0m.6-1h0m2.8-2.9h0m1 .1h0m6.2-5.2h0m-71.8 35.3h0m5.7-5.1h0m3.3-2.8h0m0-.5h0m.8-3.2h0m.6 .7h0m1-1.8h0m1.6-1.7h0m8.7 17.6h0m1.5-.9h0m1-1.3h0m.4 .2h0m3.7-1.6h0m1.8-1.1h0m2.5-1.1h0m2.3-1.3h0m1.7-1.9h0m-54.8 28.6h0m1.2-.7h0m.4-4.4h0m.1 1.3h0m2-2.2h0m.5-3.2h0m2.2-1.3h0m.4-1.8h0m1.4-.8h0m1.4 13.8h0m1.9-15.8h0m2 14h0m0 1.1h0m.2-17.7h0m.4 0h0m.7 17.2h0m1.2-.6h0m.4-1.6h0m.5 1h0m.8-3.2h0m.1 .8h0m4.7 .2h0m1.9-2.4h0m4.9-1.6h0m3.3-2.9h0m1.8-.6h0m2.5-3.7h0m.4-1.8h0m.3 1.2h0m1.2-.7h0m.3-1.6h0m-45.2 27.1h0m.5-1.4h0m.2-.9h0m1.1 5h0m.2-8h0m.4 7.5h0m.1-2.3h0m.5-3.1h0m.2 .4h0m.9-1.4h0m1.5-2.3h0m.5 4.7h0m.1 .3h0m.5-2.2h0m1 1.9h0m.6-.7h0m1.7-1.8h0m3.2 .8h0m0-2.2h0"/><path stroke="#001bff" d="M480.5 149.9h0m2.4-2.3h0m1.1 .7h0m2-1.8h0m1.4-.5h0m.8-.1h0m3-2.4h0m2.9-.7h0m3-2.2h0m2.6-2.7h0m5.9-3.2h0m.4 1.7h0m1.9-1.7h0m.6 14.9h0m1.6-3.4h0m1-.3h0m.4-11.2h0m1.6 8.3h0m.6-8.2h0m0 7.3h0m0-.7h0m.2-1h0m.9-1.7h0m-55.8 27.8h0m9.6-8.3h0m4.7-3h0m3.4-2.4h0m1.2-1h0m20.9 15.1h0m3.3-5.6h0m3.4-6.1h0m.4 .8h0m2.2-3.2h0m-71.6 37h0m2.7-2.7h0m2.5-2.3h0m.6 0h0m1.1-1h0m12.5-13h0m27.2 17.8h0m1-1.6h0m2.7-3.8h0m1.8-2.1h0m5.2-6.9h0m-75 33.1h0m1-.6h0m4.4-5.2h0m7.4-6.7h0m39.1 7.5h0m5.9-6.1h0m4.8-5.4h0m-74.8 28.4h0m4-3.4h0m3-2.8h0m31.8 14.7h0m7.7-6.2h0m.6-1h0m5.2-5h0m1.6-1.3h0m1-1.7h0m-77 29.5h0m4.1-4.7h0m1.2-.2h0m1.1-2h0m5.9-4.6h0m26.1 18.9h0m2.1-2.2h0m.7-1.3h0m2.2-2h0m4.3-3.5h0m.1-.2h0m1.3-.9h0m9-8.9h0m-81.7 36.2h0m1.9-1.5h0m3.4-4.3h0m2.5-1.7h0m2.5-4.6h0m3.6-2.9h0m28.2 17.1h0m1.1-1.4h0m7.1-6.6h0m7.2-6.9h0m1.4-.9h0m-75.7 30.5h0m4.4-4.4h0m2.5-3.2h0m4-4.2h0m26.2 18h0m3.1-3h0m4.2-4.2h0m.6 .1h0m3.7-3.3h0m6.6-6.5h0m2.3-2.6h0m-79.3 36.5h0m1.4-1.2h0m1.2-.1h0m.8-1.7h0m9.7-11.9h0m30.7 12.7h0m.8 .2h0m1.9-2.8h0m3-3.1h0m3.7-2.5h0m.6-.8h0m1.2-.8h0m-75.9 35h0m2.4-3.2h0m.1 .8h0m.1-.4h0m.1-2.1h0m4.4-2.8h0m.9-1.2h0m3.5-4.2h0m3.3-3.9h0m1.9-2.5h0m22.5 17.2h0m1.8-2.1h0m1.4-.3h0m3.3-2.3h0m.9-1.6h0m2.6-3h0m.1-.3h0m1.4-1.1h0m.2 .3h0m2.1-3h0m1.5-.2h0m1.2-1.6h0m1.7-1.5h0m-77.8 38.4h0m1.3 .4h0m1-3.7h0m.8 .4h0m.3 .5h0m2.1-2.5h0m1.6-2.2h0m4-4.7h0m2-1h0m2.8-3.3h0m2-1.6h0m.4-.3h0m17.3 16.8h0m.2-.8h0m2.4-.7h0m1.6-1.7h0m3-2.7h0m2.3-2.1h0m2.6-2.7h0m3.9-4.1h0m-69 35.6h0m1.2-.1h0m2.3-4.1h0m0 1h0m.5-1.7h0m5.9-3.1h0m.2-.8h0m2-2.2h0m1.1-.4h0m1.4-3.5h0m.5-.8h0m8.5 15.2h0m.3-1.2h0m6.5-3h0m.1 .8h0m3.6-2h0m2.6-1.3h0m1.3-.7h0m1.4-3.1h0m.9 0h0m.8-.8h0m1-.8h0m1.6-.5h0m4.3-4.6h0m-62.9 38.6h0m1-2.6h0m.5 3h0m1.2-6.1h0m1.5-3.8h0m3.8 6h0m1.1-1.6h0m.7-10.3h0m1.5 11.2h0m1.1-11.7h0m.2-.7h0m1.3-1h0m.2 1.2h0m.6 12.4h0m7.6-3.2h0m2-1.7h0m3-.6h0m.7-.2h0m-31.3 19.8h0m2.4-6.7h0m2.6-1.1h0m1.3 .4h0m3.8-1.7h0"/><path stroke="#0025ff" d="M481.7 149.6h0m8.5-4.3h0m.9-.6h0m1.2-.9h0m3.3-1.5h0m1.3-1h0m1-.8h0m1.3-1.1h0m.4-.9h0m1.3-.6h0m1 0h0m5.9 11.2h0m1.3-1.5h0m.4-.5h0m.4-3h0m.8-9.6h0m.8 8.9h0m.9-3h0m.5-4.1h0m.2 5.5h0m1.6-5.1h0m-48.8 24h0m0 .2h0m8-5.9h0m1.4-.6h0m4.9-3.5h0m16.1 18.8h0m3.9-6.4h0m2.3-3.4h0m4.6-8.3h0m-59.4 28.4h0m41.7-.4h0m1.8-1.4h0m.2-1.6h0m.5-.1h0m.9-1.9h0m2.2-3.3h0m-77.4 37.6h0m4.1-3.1h0m1.1-1.4h0m1.4-2.4h0m2.6-2.3h0m.1 .6h0m5-5.1h0m.9-1h0m1.3-2.4h0m2.4-1h0m26.4 19.2h0m4.7-3.9h0m5.1-6.1h0m1.4-1.9h0m1.3-1.5h0m2.9-3.3h0m2.6-3.1h0m-81.7 38.7h0m.5-.5h0m3.9-4h0m.7-.7h0m2.6-2.9h0m.9-1.7h0m3.7-3.2h0m2.7-3.5h0m2.1-1.2h0m.3-1.1h0m28.3 17.1h0m8.3-6.4h0m2.4-3.1h0m3.2-2.6h0m-80.2 33.3h0m2.9-3.4h0m3.4-4.2h0m3.1-1.3h0m8.3-8h0m29.7 14h0m10.7-10.7h0m-76.1 33.3h0m5-5.2h0m1.5-1.8h0m2.8-3.7h0m1-1.2h0m31.4 12.3h0m3.1-3.4h0m4.1-2.7h0m11.8-12.2h0m-78.4 35.1h0m1.5-.9h0m1.9-3.1h0m1.8-1.3h0m2.6-2.5h0m2.4-3.3h0m1.4-1.4h0m.2 1h0m2.7-2.3h0m.1-1.5h0m25.2 18h0m1.3-2.3h0m2.1-2.3h0m3.8-2.1h0m6.2-5h0m2.3-3.1h0m-76.3 34.5h0m1.6-1.4h0m4-4.1h0m1.7-1.9h0m1.1-1.8h0m.1 1.3h0m1.4-2.5h0m.7-1.7h0m2.4-2.1h0m25.5 14.8h0m1.3-.6h0m2.5-2h0m4.3-4.6h0m2.5-2.2h0m1.5-1.8h0m.5 0h0m4.8-4.7h0m-68.5 28.8h0m2-2.5h0m3-3.1h0m1.1-1.5h0m1.8-1.4h0m22.4 14.7h0m10.5-9.6h0m3.6-3.2h0m.2-1.3h0m-71.3 35h0m.2 .5h0m2.3-3.3h0m.2 .1h0m7.2-7.5h0m.7-.7h0m2.2-3.2h0m1.5 .2h0m2.2-1.8h0m.4-.5h0m16.5 14.6h0m1.6-.2h0m.8-.2h0m3.5-2.8h0m.7-1.9h0m3.4-2.3h0m9-8.5h0m-67.9 36.1h0m1.4-.1h0m.7-1.4h0m.1 .5h0m5.4-5.9h0m1.8-2.4h0m1.2-1.8h0m7.1 13.6h0m2.2-2.7h0m4.9-1.5h0m2.6-1.6h0m1.8-1h0m1.7-.6h0m.9-.1h0m1.1-1.3h0m1-.4h0m3.9-4.7h0m2.3-2h0m1.7 .3h0m.8-2h0m1.8-1.6h0m-60.4 34.3h0m.8 3h0m1.9-5.8h0m.8 5.9h0m.3 1.8h0m.2-13.7h0m.3 7.6h0m.1-3.2h0m1.9-1.5h0m1 4.5h0m1.1 1.1h0m.2-8.7h0m1.1 8h0m1 1.8h0m2.8-3.8h0m.1 1.4h0m5.2-1.1h0m.3-2.3h0m1.5 .8h0m3.1-1h0m2.7-2.2h0m.9 1.5h0m1.7-2.6h0m1.9-1.4h0m.2-1.1h0m.2 2.5h0m1.4-3.2h0m.9-2h0m-32.8 20.1h0"/><path stroke="#0030ff" d="M483 149.6h0m2.6-.9h0m1.9-1.6h0m4.5-2h0m1.4-1.3h0m.6 .5h0m2-1.1h0m5.8-4.9h0m5.9 9h0m.4-11.7h0m.9 2.3h0m.1 6.4h0m.2-5.3h0m.1 6.9h0m.4-7.2h0m.8 3.8h0m.1-2.8h0m.1 1.8h0m1-.1h0m.8-3.8h0m-55.3 31.5h0m2.4-2.1h0m7.1-6.1h0m.8 .2h0m3.3-3.8h0m2.4-1.6h0m1.5-.7h0m3.5-2.8h0m20.4 13.5h0m1.2-2.7h0m4.4-5.2h0m.2-2.6h0m.9-1.1h0m1.3-4.1h0m.3 .4h0m-66.8 37h0m8.1-9h0m8-7.6h0m25 18.8h0m.3-.9h0m3.5-3.8h0m.5-.9h0m2.4-2.8h0m2.5-4.6h0m-68 28.9h0m1.5-2.6h0m2.1-1h0m3.4-3.5h0m36.2 8.8h0m10.7-12.5h0m-73.8 31h0m6.8-7.6h0m.9-.9h0m1.8-1.5h0m3.1-2.6h0m1.6-1.8h0m25.1 18.6h0m1.9-1.2h0m7.3-6.1h0m.4-.9h0m1.7-1.6h0m1.7-2h0m5.5-5.1h0m1.7-1.4h0m-83.1 36.2h0m3.6-3.5h0m4.3-3.5h0m2.7-2.5h0m4-4.2h0m4.7-3.9h0m27.7 14.9h0m1.4-1.5h0m2.3-1.5h0m.7-1.2h0m2.1-1.1h0m2.4-2.7h0m4.7-4.6h0m-78.8 36.3h0m1.5-2.8h0m4.2-4.2h0m7.6-8.5h0m2.2-2.6h0m26.1 17.2h0m5.2-4.8h0m.9 0h0m4.9-5.6h0m1.7-1.5h0m-76.5 33.1h0m0 .5h0m7.1-6.7h0m2.7-3.4h0m1.7-.9h0m2.4-2.3h0m2.7-2.6h0m3.2-3.6h0m.1 .9h0m24.6 15.9h0m8-6.9h0m-70.7 29.4h0m1.5-.3h0m.5-.7h0m.6-.9h0m1.6-1h0m.7-1h0m.4-.1h0m5.7-6.5h0m2.6-3.5h0m3.7-3.9h0m.5-1.1h0m23.1 16.7h0m12-11.4h0m2.4-2h0m1.7-1h0m.6-1.7h0m1.3-.4h0m-77.5 39.3h0m1.1 0h0m.1-.1h0m1.3-2.2h0m1.2-1.7h0m1.3-1.1h0m1.2-1.3h0m1.9-2.1h0m.3 .7h0m1-2.1h0m1.7-1.7h0m2.5-3.3h0m1.3-.9h0m2.4-2.8h0m1.2-1.2h0m18 18.4h0m1.2-1.5h0m2.9-2.8h0m3.8-3.1h0m.1 .6h0m.7-.9h0m1.4-2h0m-65.8 31.1h0m1.1-1.7h0m5.2-5.7h0m1.7-2.2h0m7.4-7.2h0m14.5 16.3h0m4.6-3.1h0m2.1-1.8h0m1.7-1.2h0m10.1-9.3h0m1.5-1.3h0m-67.8 36.5h0m4.8-2h0m3.4-4.3h0m2.7-2.2h0m3.1-5h0m.6-2.8h0m1 .4h0m.4-1h0m5.4 15.4h0m4.3-3h0m.6-.5h0m4-1.5h0m.9-1.4h0m1.7 .7h0m3.3-2.6h0m.8 .1h0m.5-.5h0m2.4-3.4h0m2.3-1.6h0m2-2.6h0m-50.4 30.5h0m.1-.4h0m1-.5h0m.3-4.1h0m.6-.8h0m1 1.3h0m.1-3.2h0m.6 9h0m.2-2.4h0m1.9-8.4h0m.1 8.2h0m1.4-9.2h0m.5-1.2h0m.9 9.1h0m.8 3.2h0m1.5-3.7h0m3-.5h0m1.4-.3h0m4.4-2.8h0m2.7-.2h0m2.9-4.6h0"/><path stroke="#003aff" d="M485 149.2h0m6.1-2.8h0m6.2-3.6h0m.8-1h0m3.5-2.8h0m2.3-1.6h0m2.6 .5h0m.3-.8h0m2.6 6h0m0-1.5h0m-49.6 26.3h0m1.2-3.3h0m10.7-7h0m.5-.1h0m1.5-1.2h0m1.2-.9h0m5-3.9h0m15.7 17.8h0m6.7-10.6h0m1-2.2h0m.7-1.4h0m2.2-2.1h0m-66.7 35.4h0m5.2-4.5h0m3.2-2.5h0m4-6.4h0m1.7-1.2h0m3.1-3.5h0m26.9 16.6h0m2.6-4.1h0m6.8-9.2h0m-74 34.4h0m4.5-3.9h0m1.1-.8h0m3-2.6h0m4.4-4h0m2.6-3.7h0m31.3 12.9h0m2.8-2.6h0m.6-.9h0m2.2-2.6h0m3.2-3.3h0m-31.2 31.5h0m1.3-1.2h0m1.5-.7h0m.5-.2h0m1.2-2h0m4.8-4.4h0m1.9-1.3h0m4.7-4.8h0m-79.9 35.6h0m8.5-8.2h0m.2 .8h0m4.3-5.8h0m3.3-3h0m26 15.9h0m5.6-5.7h0m6.9-5.4h0m0-.6h0m1.7-2.2h0m1.9-1.2h0m2-1.9h0m.9-1.6h0m-80.5 39.5h0m.3 .3h0m2.7-2.9h0m.3-1.4h0m1.2-.9h0m3.2-4h0m1-.6h0m.4-1.4h0m.2-.7h0m3.5-1.8h0m1.8-3.4h0m27.9 14.5h0m16.8-16.4h0m1-.3h0m-81.2 38.9h0m4.9-4.2h0m2.8-2.5h0m1.4-1.2h0m4.3-5.3h0m4-3.4h0m24.2 15.7h0m.4-1.4h0m6-5.2h0m2.3-1.7h0m4.6-2.4h0m1.2-1.4h0m.1-.8h0m1.3-1.1h0m.5-1.6h0m2-1.3h0m-78 38.1h0m10.8-12h0m2.9-3.8h0m1.4 .2h0m21.7 15h0m4-2.7h0m3.1-2.2h0m2.8-3.1h0m1.2-1.5h0m3-2.9h0m4.5-4.9h0m-73.4 36.9h0m.2 1h0m4.6-5.7h0m2.2-1.5h0m2.3-2.9h0m2.8-3.7h0m2.9-2.7h0m18.9 15.7h0m4.1-4.3h0m1.7-1.3h0m1.3-1.9h0m6.6-5.5h0m0 .3h0m2-1.8h0m1.1-1.9h0m2.3-1.3h0m1.5-1.3h0m.1 .2h0m-73 38.3h0m2-3.9h0m8.8-8.4h0m.7 .4h0m.7-.9h0m1.8-1.8h0m2.3-1.4h0m10.9 16.6h0m1.2-2h0m9.8-7.4h0m4.1-2.4h0m2.1-2.1h0m1.3-1.6h0m-63.6 36.1h0m2.4-1.1h0m1.8-4.7h0m2.3 .9h0m.8-2.9h0m1.1-.3h0m1.8-3h0m6 9.5h0m1.3 .9h0m.7-1.6h0m2.6-2h0m5.3-2.3h0m2-1.8h0m2.2-1.5h0m7.3-4.9h0m1.4-1.2h0m2.4-2.2h0m-44.9 22.8h0m.1 5.6h0m1.6-7.6h0m.6 4.1h0m.2-.1h0m.3-1.4h0m1.2 3h0m1.1-.7h0m.9-3.6h0m4.9 1.6h0m.1 1.9h0m1.9-.9h0m1.3-1.2h0m2.8-2.9h0m.1 1.2h0"/><path stroke="#0045ff" d="M488.9 147.3h0m2-.8h0m8.2-5.6h0m.8 .1h0m.4-.9h0m2 .2h0m.8-2.3h0m3.1 .6h0m1.3 8.7h0m.3-6.3h0m.1 .7h0m.7-3.1h0m-47.8 28h0m4.1-2.6h0m8.3-6.2h0m.6-1.1h0m.5-.4h0m2.4-2.2h0m2-.8h0m1-.6h0m16.6 14.7h0m.5 .2h0m.9-.9h0m2.4-4.6h0m4-7h0m1.6-4.8h0m-64.3 37.7h0m.3-.7h0m2.5-1.9h0m1.3-2h0m.7-1.1h0m4.6-5.4h0m6.6-6.5h0m23.4 19h0m1.9-2.3h0m4.8-6.9h0m1.8-1.3h0m4.2-6h0m.8-2.5h0m-74.9 39.5h0m1.1-1.2h0m1.7-1.9h0m3.6-3.7h0m6.8-7.9h0m.6-.5h0m2.5-2.9h0m31.9 12.5h0m5.4-6h0m-65.2 22.5h0m5.2-5.2h0m3.6-3.5h0m25.4 16.8h0m4.1-3.6h0m2.3-2.5h0m1.6-1h0m.9-.3h0m1-1.1h0m-71.1 28h0m2.5-3.1h0m1.8-1.9h0m2.1-.7h0m2.1-3.5h0m1.8-1.2h0m5.5-4.7h0m23.9 16h0m2.1-1.6h0m9.2-8.2h0m1.4-1.9h0m5.2-4.8h0m-74.2 34.1h0m.7-.1h0m.6-1.6h0m.1-.6h0m3-3.2h0m5.4-6.7h0m2.1-1.9h0m.2 .1h0m1-1.4h0m25 15.4h0m3.1-3h0m1.1-1.3h0m3.6-2.2h0m2.1-1.7h0m4.6-4.2h0m-75.4 33.9h0m41.8-3h0m1.3-.7h0m1.8-2.1h0m4-3.1h0m7.8-7.4h0m.8-1.5h0m-75.7 38.5h0m1.5-2.1h0m1.6-1.4h0m1.8-2.4h0m2.4-2h0m2.2-3.1h0m5.2-6.4h0m.5-.6h0m18.1 18.8h0m6-4.2h0m1.1-.6h0m1.1-2.1h0m11.1-9.7h0m2-3h0m-73.6 38.4h0m3.6-3.8h0m.6-.6h0m1 1.2h0m2.4-4.2h0m2.7-3.1h0m1.4 0h0m1-2h0m.2-.8h0m.1-.9h0m2.7-3.2h0m14.5 18.6h0m1.6-1.7h0m3.3-1.9h0m.3-1.2h0m1.5-.4h0m5.1-4.5h0m1-.6h0m1.5-1.7h0m2.9-2.3h0m1.2-1.2h0m3.6-3.9h0m-71 38.4h0m.9-2.3h0m1 .3h0m1.6-2.9h0m.7 .2h0m.3 0h0m1.3-1.9h0m.9-2.5h0m.3 3.7h0m.3-1.6h0m.8-.1h0m1.3-1.6h0m2.6-2.2h0m1.4-.8h0m.2-1.2h0m1.4-2.6h0m15.5 11.9h0m1.6-.4h0m.2-1.3h0m.4 1.5h0m1-1.3h0m1.1-2h0m1.4-1.2h0m2.6-1.9h0m.4 .4h0m2.4-3.3h0m1.7-.6h0m6.4-5h0m-63.1 38.9h0m.4-2.4h0m1.4 3.2h0m1.1-2.6h0m.2-.8h0m.2-3.8h0m.4 .7h0m3.2-5.1h0m.2-1.6h0m2.1-1h0m.8-1.7h0m0 .5h0m.2-3h0m.1 17.1h0m1.1-16.9h0m2.7 14.5h0m6.2-3.2h0m5-3.8h0m5.6-4.3h0m.7-.3h0m3.8-2.7h0m2.4-1.5h0m-43.8 25.7h0m2.6-3.8h0m.5-.5h0m3.1 3.9h0m.8-3.5h0m1.1-.8h0m3.4 2.5h0m3.7-3.4h0m.8 .3h0"/><path stroke="#0050ff" d="M487.9 148.4h0m2.4-.9h0m7.6-4.7h0m.2 .5h0m2.3-2.8h0m2.4 .2h0m1.8-1h0m1.5-.4h0m.1 8.2h0m.2-6h0m1.1 3.1h0m-44.1 20.9h0m4.9-5.1h0m4.2-1.9h0m2.2-2h0m5.6-3.3h0m2.3-2.6h0m16.2 13.1h0m.3-1.2h0m2.2-4.1h0m.2 .3h0m.6-.7h0m1.3-4.1h0m1.8-2.9h0m-63.4 37.3h0m1.8-2h0m2.1-2.6h0m4-4.4h0m3.2-3.4h0m1.6-2.2h0m1.9-2.4h0m27.1 14.7h0m6.7-11h0m.9 .4h0m1.8-2.9h0m-72.4 36.7h0m3.8-4.7h0m1.6-.9h0m1.4-1.5h0m.2 .7h0m.2-.8h0m.9-2.1h0m36 6.6h0m2.1-1.9h0m2.4-2.8h0m.6-.2h0m8.2-9.2h0m-76.3 36h0m2.2-2.3h0m2.2-3.1h0m3-3.5h0m1.2-.7h0m.6-1.5h0m.9-.6h0m2.2-2.6h0m1.8-.9h0m.8-.2h0m2.4-1.8h0m25.3 15.1h0m9.7-8.4h0m.8-.9h0m3.5-3.3h0m.1 .9h0m1.5-2.1h0m-77.4 34.1h0m3.8-2.9h0m11.6-11.9h0m.8-.7h0m20.2 18.8h0m6.6-5.3h0m8.5-8.6h0m5.6-5.9h0m-75.5 37.6h0m2.1-2.3h0m.6-.8h0m1.2-1.6h0m2-2.7h0m1.2-1.6h0m6.8-6.9h0m22.2 17.2h0m4.8-4.3h0m.1-1.1h0m3.8-2.6h0m5.9-5.9h0m3.4-3h0m1-1.1h0m-74.5 35.4h0m5.5-7.2h0m1.8-.8h0m1-1.2h0m5.9-5.5h0m21 16.9h0m6.2-6.2h0m9.6-7.9h0m-69.3 31.6h0m3.5-2.8h0m.1-1.4h0m3.3-5.1h0m5.9-5.4h0m1.1-.6h0m15.8 18.4h0m6-3.7h0m9.3-7.9h0m-64 29.8h0m3.4-2.8h0m2.3-3.9h0m20.4 8.6h0m1.7-1h0m.1 1.1h0m.2-1.1h0m2.6-2.5h0m4.9-3.6h0m4.2-3h0m5.4-5.8h0m-65.1 34.2h0m1-1.9h0m.4 .4h0m.4-.7h0m5.6-4h0m1-2.4h0m4.1-3.1h0m2.6-3.7h0m.9-1.1h0m9.4 15.6h0m6.8-5.4h0m1-.6h0m2-2h0m8.9-6.6h0m.6-1.7h0m-56.8 35.9h0m.5 2.7h0m1-9.9h0m.2 6.3h0m.4 2.8h0m1.9-3.5h0m1.7 3.6h0m.7-1.6h0m1.7-.3h0m.6-14.8h0m4.4 12.2h0m.7-1.9h0m2.8-1.7h0m3 .4h0m2.8-2.8h0m1.1 .6h0m1.1-1.2h0m1.1 1.7h0m7-7.6h0m-33.3 18.9h0m.9 .7h0m1 3.2h0m1.3-1.8h0m1.4 .4h0"/><path stroke="#005aff" d="M490.6 147.9h0m3.3-3h0m.9-.7h0m5-1.7h0m4.7-2h0m.2 5.5h0m.2 2.8h0m0-1.2h0m-42.7 18.8h0m11.9-8.7h0m4-2.8h0m17.9 12.1h0m1.4-1.5h0m.1-1.5h0m1.1-2h0m.6-.4h0m1.1-.6h0m0-1.6h0m3.5-6.2h0m.4-1.8h0m-64.6 37.8h0m5.3-3.5h0m12.4-14.5h0m23.1 18.4h0m6.5-8.8h0m2-2.9h0m3-5.3h0m.4 .2h0m-70.3 34.4h0m2.2-1.3h0m4.5-4.9h0m.5-.1h0m4-4.8h0m1.2-1.3h0m1.1-.3h0m.6-1.3h0m.4-.1h0m-34.3 35.4h0m2.8-2.4h0m1.1-1.8h0m1.8-3.4h0m12.1-10.8h0m29.9 11.2h0m2.2-1.3h0m.4-.7h0m3.4-3.3h0m1.5-.8h0m.2-1.1h0m2.7-3h0m.7-.3h0m-80.8 38.1h0m.7 .5h0m2.8-3.6h0m1.9-1.5h0m.1 .3h0m4.8-5.1h0m5.1-5.1h0m27.9 12.4h0m2.3-3.6h0m6.5-5h0m5.7-6.6h0m-71.8 34.5h0m2.6-4.2h0m.5-.2h0m2.3-2.4h0m.6-1.4h0m2.7-3.3h0m3.6-4.2h0m30.4 10h0m3.8-3.5h0m-70.2 31.8h0m2.5-2.5h0m1.8-1.9h0m.5-1.3h0m7.1-7h0m1.6-1h0m1.7-1.8h0m1 .2h0m1.2-1.3h0m19.6 16.4h0m3.6-3.3h0m11.9-10.8h0m-71 34.4h0m3-2.4h0m1.9-2.4h0m1.8-.8h0m1.5-2.7h0m1.4-1.7h0m1.1-2.6h0m2.7-2.4h0m.1-.6h0m22 14h0m2.8-3h0m.1 .6h0m7.2-6.7h0m4.1-3.3h0m.5-1.4h0m-67.8 34.9h0m2.6-1.8h0m8.2-10.5h0m.6-.2h0m2.5-3.9h0m18.7 12.5h0m1.6-1.7h0m7.1-4.6h0m5.2-5.8h0m-67.3 37.4h0m1.9-2.2h0m1.1 .6h0m2.2-3.6h0m3.5-2.6h0m2.5-2.5h0m3.3-2.9h0m1-2.6h0m8.8 15.4h0m1-1.6h0m2.2-1.7h0m3-1.8h0m5.6-4.4h0m2.5-2.6h0m6-5.3h0m-51.8 29.9h0m.3 6.9h0m.4-8.1h0m1-.9h0m.8 3.2h0m.2 4.4h0m.2-10.4h0m1-1.6h0m2.7 10h0m.3-13.5h0m.5 11.8h0m4-2.9h0m.2 0h0m6.4-1.9h0m4.5-3.6h0m1.9-1h0m4.3-3.4h0"/><path stroke="#0065ff" d="M487.8 148.7h0m7.3-2.5h0m2-1.4h0m3-1.3h0m4.4 5.4h0m.4-6.7h0m3.4 .8h0m-44.8 23.1h0m2-1.8h0m13-9.4h0m2-1.1h0m1.4-.9h0m1.9-1.3h0m1.1-1.2h0m9.5 18.9h0m2.3-4.3h0m.3-1.7h0m2.6-3.7h0m2.6-3.3h0m.7-5.5h0m-62.5 38.3h0m6.2-6.3h0m4.6-5.4h0m3.9-3.7h0m1-.6h0m24.4 15.2h0m1.3-1.2h0m2.4-4.2h0m5-6.9h0m-66.6 31.1h0m15.9-15.9h0m23.2 18.4h0m1.4-1.3h0m11.6-12.8h0m1.7-3h0m-74.3 36.9h0m1.7-1.5h0m1.6-1.4h0m2.9-5h0m1.3-1.5h0m5.6-5.7h0m2.4-1.7h0m22.8 16.7h0m.5-.3h0m1.9-1.6h0m14.2-13.2h0m3-3.8h0m.6-.4h0m-73.5 34.5h0m1.2-1.2h0m3.5-4.8h0m3.2-2.9h0m3.9-3.3h0m25.1 13.4h0m3.6-4h0m4.6-4h0m5-5h0m-75.4 36.9h0m6-5.4h0m10.8-12.1h0m20.9 16.6h0m3-2.6h0m.7-1.1h0m2.5-2.7h0m2-.9h0m8.5-7h0m.2-2.2h0m.2 .3h0m-72.3 35.3h0m8.2-9.1h0m.9-.6h0m1.5-.8h0m34.6 1.7h0m3.7-3h0m.5-1.1h0m2.9-2.5h0m1.5-2.1h0m.1 .7h0m-70.8 36.5h0m.3-2.7h0m6.1-5.6h0m2.1-3.5h0m4-4h0m17.5 16.8h0m1.7-1.3h0m2.3-1.7h0m5.6-4.4h0m2.8-3.9h0m.4-.8h0m5.7-4.5h0m-64.4 31h0m1.7-1.4h0m.4-.9h0m1.4-.6h0m3.3-5h0m2.7-3.9h0m17.2 14.2h0m8.8-6.3h0m5.7-7.1h0m-62.7 35h0m.9-.5h0m1 .1h0m1.4-2.8h0m3.9-3.3h0m3.8-3.9h0m1.6-3h0m.8 1h0m6 14.3h0m2.4-3.1h0m5-2.2h0m4.4-4.1h0m2.4-3.4h0m.2 .2h0m1.3-.1h0m3-1.6h0m-47.3 23.4h0m.1 1.8h0m.2 3.9h0m.6-2.9h0m2-4.4h0m.1-2.1h0m1.3 6.6h0m.5-6.7h0m2.6 8.4h0m6.2-2.9h0m.1 .1h0m2.5-3.3h0m2.4 .3h0m4.3-4.7h0m-26.3 18.1h0"/><path stroke="#0070ff" d="M488.8 149.3h0m7.7-2.5h0m.6-1.5h0m1.1 1h0m3.4-3.1h0m1.4 2.7h0m.6-2.9h0m.3 2.6h0m.4 1.1h0m-45.7 23.1h0m3.3-2.5h0m3.2-2.3h0m16.5-11.5h0m5.2-3.1h0m9.6 13h0m.9-1.3h0m.6-.6h0m3.1-7h0m1.5-3.6h0m.4 2.6h0m-57 31h0m9.4-10.7h0m1.6-1h0m25 13.6h0m5.1-7.2h0m5.7-7.8h0m-71.9 38.1h0m2.7-2.5h0m1.9-1.9h0m4.2-4.8h0m2.1-2h0m1.7-1.8h0m31.5 8.7h0m5.3-5.2h0m-67.8 29.7h0m5.1-7.5h0m4.4-4.9h0m5.1-3.5h0m27.1 11.8h0m1.4-.9h0m3.2-2.7h0m4.9-5.4h0m4.6-4h0m-68.6 28.5h0m.4 1.3h0m1.3-1.5h0m4.6-5.8h0m26.7 11.3h0m12.7-12.3h0m-70.7 33.6h0m4-4h0m4.6-6.6h0m3.8-3.3h0m2-1.7h0m1-.3h0m21.4 15.3h0m4.2-4.9h0m5.2-3.9h0m.8-1.6h0m.9-.5h0m-71 33.7h0m10.6-10.2h0m4.1-3.1h0m2.2-2h0m1.7-1.5h0m26 8.2h0m.9-1.3h0m1.2-.3h0m3.2-2.2h0m-66.3 30.9h0m.8 .5h0m3.2-3.8h0m.9-.4h0m7.6-10.4h0m1-1.3h0m18.7 14.2h0m.8 .2h0m2.7-1.9h0m2.8-3.2h0m1.9-2.1h0m7.1-5.8h0m1-.8h0m3.3-3h0m-68.5 38h0m2.4-2.8h0m.9-1h0m9.2-11.7h0m13.3 14.8h0m1.7-1.5h0m2.4-1.8h0m5.2-3.2h0m1.5-1.8h0m3.9-4.1h0m1.9-.8h0m1.3-2.3h0m-64.4 37.1h0m2.5-1.3h0m.2 .1h0m2-1.1h0m.2-2.4h0m5.4-4.2h0m.7 .4h0m4-5.2h0m1.9-4.9h0m.5 3.4h0m2.5 15.6h0m14-11.7h0m4.6-4.5h0m1-.5h0m0 .6h0m3-3.1h0m.8-.5h0m-49.1 31.8h0m1.9 1.2h0m.4-4.8h0m1-3.5h0m.6 .7h0m1-4.8h0m1.4 8.2h0m1 .1h0m2.9-1h0m.9-.1h0m2.7-1.7h0m.7-.5h0m1.1-.3h0m1.9 0h0m2.5-1.6h0m3.4-2.7h0"/><path stroke="#007aff" d="M490.5 148.9h0m1.5-1h0m3.2-.8h0m5-.6h0m2.5 .6h0m0-.1h0m.3 1.8h0m-35.6 14h0m2.4-1.8h0m2.9-2h0m.5-.1h0m.2-.8h0m7.8-3.6h0m2-1.7h0m3-2.1h0m7.3 18.7h0m6.2-11.5h0m-49.9 22.6h0m1.3-.5h0m.4-2.2h0m1.2 .2h0m.9-1.8h0m4.8-4.6h0m19.7 18.3h0m3.2-3.7h0m4.5-5h0m4.9-7.8h0m2.6-3.3h0m-71.4 38.7h0m4.3-4.4h0m1.8-1.1h0m33.6 5.8h0m1.4-2h0m.9-.7h0m3.9-4h0m1.6-1.8h0m4.4-5.3h0m4.9-5.1h0m-72.3 34.1h0m1.1-1h0m7.4-7.6h0m4.7-4.5h0m25.5 12.8h0m1.2-.1h0m1.3-1.5h0m1.5-1.3h0m-67.3 28.7h0m2.6-2.8h0m.9-1h0m5.8-4.5h0m1.7-4.4h0m7.5-5.4h0m1-.7h0m.7-.8h0m18.6 17.6h0m1.4-1.5h0m6.9-6.4h0m8.5-8h0m.7-1.4h0m-74.1 38.1h0m.8-.2h0m1.9-1.8h0m1-1.2h0m1.2-2h0m2.5-2.6h0m.4-.2h0m2-2.2h0m.2-1.6h0m29 7.8h0m7.3-6.9h0m3.9-4.1h0m-65.6 30.1h0m8.8-8.2h0m3.9-3.9h0m18.8 15.2h0m12.3-10.8h0m2.4-2.3h0m1.4-2.3h0m.3 .2h0m-71.6 38.4h0m6.3-6.6h0m2.9-3.9h0m19.7 10.4h0m2-1.2h0m.9-1.1h0m6.6-5.5h0m2-2.4h0m7-5.9h0m-62.6 33.1h0m3.1-3.4h0m4.1-4.8h0m.9-1.6h0m.7-.8h0m4.1-4.8h0m9.1 17.3h0m1.7-.6h0m.6-1.3h0m1.8-.6h0m7.9-6.4h0m3-2.6h0m.7-.9h0m.6 .2h0m1.7-2.6h0m2.3-2.1h0m2.3-1.6h0m-63.5 38.9h0m.3-.9h0m1.1 0h0m1.4-2h0m.2-.1h0m.7-3.9h0m5.4-3.4h0m1.6-1.7h0m.8 1h0m3.2-4.1h0m3.4 14.1h0m2.8-2.6h0m3.5-2.3h0m.1 .5h0m1.5-.6h0m2.1-2.5h0m1.8-1.6h0m.8-.9h0m2.7-3.6h0m2-2.3h0m.4 .4h0m-39.2 24.3h0m.5-3.1h0m2.7-3.5h0m.5 2.8h0m.2-2.2h0m.7 3h0m1.9 2h0m2.8-.9h0m3.3-1.3h0m1.8-2.2h0m2.5-1.1h0"/><path stroke="#0085ff" d="M492.8 149.3h0m.8-1.1h0m2.7-.8h0m3.9-.3h0m-40.1 22.7h0m2.3-2.5h0m3-1.9h0m2.7-1.8h0m1.8-2.4h0m3.9-1.9h0m1.5-1.3h0m2.4-1.5h0m5.5-3.4h0m1.5-.4h0m2.8-2.4h0m9.5 10.6h0m.2 .2h0m4.3-10.9h0m-58.2 37.6h0m6.8-6.5h0m8.8-9.7h0m23.7 12.6h0m2.6-3h0m1.2-1.7h0m2-2.9h0m3-5h0m-66.1 34.7h0m2.4-2.6h0m3.7-3.9h0m6.6-6.8h0m24.2 14.2h0m4.7-4.7h0m4.2-4.2h0m.4-.1h0m.7-1.1h0m3.8-4.2h0m-69.5 33.1h0m2.1-3.4h0m6.8-6.9h0m.9 0h0m1.9-2.4h0m19.5 16.7h0m12.7-10.3h0m2.4-1.1h0m6.2-7.1h0m-74.6 36.4h0m4-3.6h0m.1-.4h0m6.1-6.3h0m2.1-2.3h0m2-2.1h0m2.3-1.2h0m18.9 16.3h0m3-3.7h0m2-1h0m2.1-1.9h0m.8-1.7h0m8-7.7h0m-73 37.5h0m8.1-7.5h0m3.1-3.7h0m5-5.3h0m19.2 14.9h0m2.1-1.2h0m8.8-8.2h0m1.7-1.9h0m3.9-4.6h0m1.7-.8h0m-74.1 38.3h0m2.2-1.3h0m2.1-2.5h0m.9 .1h0m2.8-4.5h0m2-1.4h0m1.6-1.7h0m5-4.1h0m4.2-4.2h0m12.8 19.8h0m3-2.5h0m.4-.6h0m3.2-3.5h0m.7-.5h0m.3 .1h0m1.9-2.1h0m0-.2h0m8.9-7h0m1.7-3.1h0m.9-.5h0m-69.7 38.2h0m2.5-2.7h0m1.4-1.3h0m6.4-8.6h0m.5-.1h0m3.4-4.4h0m1.3-.4h0m12 18.5h0m5.8-4.2h0m1.2-1.9h0m4.8-4.3h0m1.5-2h0m2.2-1.6h0m.9-.7h0m-58.1 30.7h0m3.3-5.5h0m3.1-4.4h0m15 11.2h0m6.5-4.7h0m1.9-1.6h0m.8-1h0m.7-1.6h0m-50.9 29.9h0m.3-.6h0m.7-3h0m1.2 0h0m1.7-1.4h0m3-1.8h0m4-5.6h0m2.2 13.7h0m.3-17h0m1.6 15.4h0m1.8-1.3h0m2.5-1.7h0m2.9-1.8h0m2-1.5h0m4.4-4.3h0m1.1-3h0m-33.9 22.6h0m4.9-1.1h0m5.5-1.8h0"/><path stroke="#008fff" d="M493.8 149.5h0m1-.6h0m3.7-.8h0m2.1 .1h0m-38.3 20h0m.9-1.1h0m6.1-4.4h0m1.1-1.4h0m4.7-2.7h0m4.1-3.2h0m4.1-1.9h0m4-1.4h0m3.3-1h0m4.5 15.3h0m4.8-10.4h0m.5-5.2h0m1.1 2.5h0m-53 29.6h0m7.3-7.8h0m2-2h0m2.6-2.9h0m19.1 17.9h0m.8-1.1h0m4.3-6.8h0m1.8-1.8h0m1.1-.6h0m1.7-2.7h0m-66.7 34.4h0m6.1-6h0m2-2.7h0m.6 .2h0m1.6-1.7h0m3.3-3.8h0m.4-1.5h0m24.4 14.9h0m1.3-2.2h0m2-1.6h0m1.2-.9h0m3-3.4h0m-64.4 27.4h0m.3 .3h0m3.4-3.5h0m1.9-4h0m1.7-1h0m1.2-1.8h0m6.2-5.1h0m21.7 14.9h0m2.2-1.6h0m2.8-3h0m6.3-6h0m5.4-4.5h0m-69.9 32.3h0m5.3-5.1h0m1.2-1.3h0m2.6-2.3h0m1.5-1.2h0m21.1 13.5h0m12.2-11.2h0m-66.4 31.9h0m.7 .2h0m9.9-11.8h0m5.2-6.3h0m26.3 8.7h0m5.9-5.3h0m-67.9 34.3h0m4.1-5.4h0m4.9-5h0m.4 .3h0m6.5-6.2h0m20.6 12.1h0m3.2-4.1h0m5.3-3.6h0m-57.1 24.3h0m6.9-8.7h0m1.3-.6h0m15.3 15.3h0m3.1-2.8h0m6.9-5.8h0m3-3.5h0m4.8-3.7h0m-66.4 37.3h0m2.4-1.7h0m6.7-7h0m7.3-9.5h0m5.7 18.6h0m.8-1h0m10.2-6.7h0m1.9-1.9h0m3.9-4.8h0m.1 1.1h0m.9-2.1h0m.2 .3h0m.5 .3h0m3.3-2.8h0m-52.9 30.8h0m5.2-6.9h0m1.5 1.4h0m.5 11h0m6.5-4.3h0m2.2-1.2h0m2.4-2h0m.4 .2h0m1.6-2.8h0m.5 1.8h0m1-2.8h0m5.3-5.2h0m2.1-1.7h0m-35.9 20.3h0m1.9 3.2h0m1.3 .1h0m2.8-2.8h0m.4 1.4h0m.1 .8h0m5.4-2.9h0"/><path stroke="#009aff" d="M462.3 169.4h0m1.2-.9h0m9.8-8.4h0m.6 0h0m10.8-6.9h0m2.7-.7h0m4.6 17.2h0m4.1-6.7h0m2.9-6.8h0m.5 1.5h0m.2-7h0m.8 1.5h0m.5-.7h0m-54.4 33.3h0m7.2-7.6h0m27.7 7.2h0m1.3-1h0m1-1h0m1.9-3.6h0m1.8-1.7h0m-61.7 29.4h0m3.1-2.9h0m8.6-9.9h0m1.6-1.2h0m2.1-2.4h0m19.7 18.2h0m8-8.2h0m3.3-3.6h0m-66.6 31.3h0m1.1-1.1h0m.6-.7h0m1.8-3.2h0m3.4-3.7h0m.5-.9h0m28.6 8.2h0m6.4-5.1h0m7.5-7.2h0m-72.3 35.7h0m7.9-7.7h0m4.7-4.9h0m.2 .8h0m6.7-7.4h0m15.5 17.6h0m2.5-1.5h0m10-10.1h0m-64 30.7h0m3.3-3.8h0m6.6-8.8h0m19.9 14.9h0m7.8-6h0m7.2-7.9h0m1.8-1.8h0m-64 30.2h0m.5-.3h0m1.5-2.4h0m.5 .2h0m4.9-4h0m3.2-3.3h0m2.5-1.8h0m1.2-1.5h0m12.1 18.7h0m.1-1.2h0m.3 .4h0m2.5-2.5h0m2.5-2.5h0m4.7-4.7h0m2.3-1h0m5-3h0m.9-1.6h0m-66.2 34.3h0m1 1.3h0m2.5-3.6h0m.8-2h0m2.5-2.8h0m.7-2.3h0m1.8-.5h0m1.4-1.5h0m1.2-2.1h0m4.1-3.9h0m12.6 16h0m5.9-4.2h0m1-.8h0m.7-1.4h0m6-5.7h0m1.9-1.3h0m.9-1.1h0m-63.2 37.8h0m1.2-.9h0m.1-1.8h0m6.9-8.3h0m1.8-2.5h0m3.3-3.2h0m9 14.6h0m6.4-4.8h0m.6-.2h0m-43.3 22.7h0m1.5-1.3h0m8.1-5.1h0m.1-.9h0m1.9-5.3h0m1.6 13.3h0m3.9-4.7h0m2.2-.7h0m.6-.7h0m.5 1.4h0m2.8-3.7h0m-25.7 13.8h0m3.5-.5h0"/><path stroke="#00a5ff" d="M494.8 149.8h0m3.5 .2h0m.5-1.2h0m-34.4 18.8h0m1.9-1.2h0m9-6.9h0m1.9-1.7h0m1-1.2h0m.6 .1h0m2.5-1.4h0m3-1.2h0m.9-.1h0m3.9-1.9h0m2.1-1h0m.8 18.2h0m.4-19h0m3.1 13.3h0m1.7-3.8h0m.8-3.3h0m.9-3.3h0m1.6-1.2h0m-57.1 36.5h0m1.8-1.5h0m6.9-7.8h0m8.2-8.3h0m.5-.2h0m17.3 17.5h0m4.9-5.7h0m.5-1h0m-56.9 23.9h0m7.8-7.9h0m.9-1.2h0m5.9-5.9h0m1.6-.3h0m25.2 10.5h0m8.9-9.9h0m-72.2 38.1h0m5.1-6.6h0m7.7-7.5h0m3.6-3h0m1.1-1.1h0m24.6 11.7h0m3.9-4.3h0m5.8-5.1h0m-70.9 34.6h0m.5-.7h0m7.4-6.8h0m1.1-.4h0m.6-.8h0m5.8-6h0m32 2.4h0m-65.4 31.6h0m.8-1.3h0m8.8-10.5h0m.9 .3h0m2.1-2.1h0m20.6 11.5h0m3.2-3.1h0m1.7-1.8h0m.7 .5h0m4.5-4.7h0m1.1-1.2h0m5.7-4.2h0m-72.9 39.6h0m2.4-2.6h0m4.8-4.6h0m4.6-4.3h0m7.8-7h0m16 13.3h0m4.5-4.1h0m.4-1.1h0m5.5-3.3h0m-54.5 22.9h0m4.5-4.8h0m30.9-1.3h0m.7-1.1h0m-59.3 36.3h0m.8-5.3h0m7-7.2h0m6.3-5.3h0m3.8 16.6h0m1.6-.8h0m.1 1.1h0m3.8-1.9h0m4.9-5.3h0m2.7-3.3h0m2.3-2h0m-50.8 33.2h0m.9 .4h0m.9 .8h0m.2-2.7h0m1.7-3.7h0m2.5-1.9h0m.2 1.4h0m3.1-1.4h0m1.6-2.9h0m.2 2h0m.4 6.4h0m0-7.6h0m.1 7h0m.7-8.5h0m.4 6.6h0m.3-8.3h0m2 6.5h0m.5 .6h0m.4-12.4h0m2.1 10h0m5.7-3.8h0m2.8-1.1h0m1.7-3.1h0m-28.1 20.5h0"/><path stroke="#00afff" d="M495.8 149.5h0m-31 18.3h0m4.6-4.3h0m16.7-9.8h0m7.9 11.9h0m2.6-6.1h0m.2-2.7h0m.4-3.6h0m.5-2.9h0m.2 2.9h0m-49.4 30.9h0m5.1-6.1h0m25.8 8.9h0m5.8-8.3h0m2.2-2.2h0m3.3-4.1h0m-62.1 32.4h0m2.2-2.5h0m.6 .1h0m11.8-12.3h0m26.2 8.5h0m2-2.3h0m-65.5 32.1h0m3-4.7h0m2.7-3.5h0m2.2-1.9h0m.5-.1h0m2.4-2.1h0m1.5-1.4h0m22.3 12h0m6.4-5.4h0m7.1-6.1h0m-69.9 34.6h0m1.5-1.5h0m1.2-.8h0m.8-1.3h0m.1 .2h0m1.9-1.9h0m5.9-5h0m3.1-4.6h0m4.7-3.7h0m18.1 14.7h0m2.7-2.7h0m1.3-1.7h0m2.2-2.2h0m1.6-1.2h0m.8-1.1h0m1.7-1.5h0m3.2-2.3h0m-63.8 30.9h0m2.7-4.3h0m24.1 7.6h0m1.3-1.3h0m1.5-2.1h0m7.7-5.9h0m5.7-5.9h0m-64.2 32h0m7.4-5.4h0m.9-2.5h0m1.4-.9h0m18.7 10.9h0m.7-1.2h0m3.6-3h0m11.6-9.2h0m-63.9 34.6h0m.7 .3h0m1.8-1.7h0m.2-1.4h0m1.5-2.3h0m.7-2h0m22.4 5.2h0m3.2-2h0m.8-1.1h0m3.9-3.8h0m-51.8 25.4h0m5.1-4h0m8.2-9.6h0m2.5 17.9h0m4.1-3.6h0m6-3.1h0m3.4-2.7h0m7.4-6.2h0m1.9-2.5h0m-53.8 34.3h0m.3 4.5h0m.6-2.9h0m4.6-4.2h0m2.7 4.1h0m1.4-7.6h0m.1-6h0m1.2 1.8h0m.2 7.6h0m.3 1.2h0m2.9-3h0m4.5-1.4h0m1.1-3.2h0m3.7-2.4h0m.9-.3h0m2.6-1.9h0m-23.6 20h0"/><path stroke="#00baff" d="M465.2 167.4h0m3.4-3.1h0m1.4-.4h0m7.2-4.4h0m.6-1.6h0m10.4-4.9h0m4.5 13h0m1.1-14.5h0m1.4 10.3h0m.2-8.7h0m1.3 1.5h0m.1 1h0m.5-1.7h0m-51.8 34h0m1.7-2.2h0m3.2-4.6h0m5.2-5.1h0m24.9 9.7h0m2.4-3.9h0m5.8-8.1h0m-64.7 34.6h0m1.1-.5h0m1.8-1.5h0m6.2-6.8h0m1.3-1.3h0m5.2-5.1h0m.9-1.1h0m.2-.5h0m2.5-1.3h0m20.7 14.7h0m1.9-2.7h0m.7-.4h0m4-4.2h0m-60.4 24.8h0m5.7-5.7h0m26.1 8.4h0m2.2-1.2h0m4.9-3.8h0m3.8-3.9h0m2.5-2.4h0m3.5-3.6h0m-73.2 39.1h0m2.7-3.2h0m1.3-.8h0m36.9-5.7h0m-59.5 29.4h0m1.5-1.6h0m1-.8h0m3.1-6.1h0m.2 1.6h0m2.8-3.7h0m.5-1.2h0m4-3.6h0m2.1-1.6h0m.7-.6h0m13.1 18.5h0m.1-1.9h0m9.8-9h0m7-5.4h0m1.9-2.8h0m-69.6 38.8h0m1.7-1.3h0m7.7-8.4h0m4.1-2.7h0m.4-.3h0m2-2h0m22.9 4.9h0m4.4-2.6h0m4-3.1h0m1.2-1.5h0m1.6-1.8h0m-64.9 37.8h0m1.2-.9h0m2.8-4.2h0m1.1-2.5h0m3.4-4.3h0m1.4-1.2h0m1.5-2.4h0m1.3-1.1h0m.2 .5h0m9.9 16.4h0m6.9-5.8h0m.5-1.4h0m2.9-1.7h0m2.9-2.9h0m4.7-4.4h0m3.1-2.6h0m-61 39.8h0m3.8-6.3h0m1.1-2.6h0m1.4-.9h0m3.4-5.6h0m2.3-2.7h0m1.9 17.7h0m1.3-18.8h0m2.6 15.8h0m5.8-4h0m2.9-2.6h0m7.8-6.6h0m1.8-2.1h0m-50.2 37.9h0m3.3-2.9h0m.3-2.6h0m2.8 3.8h0m.5-4.4h0m.6 .5h0m1.1-2.6h0m1.5-.9h0m.2 1.3h0m1.1-7.6h0m.1 1.5h0m.9-2.6h0m3.3 5.1h0m1.6-.5h0m1-.1h0m4.7-4.7h0m1.6-.5h0"/><path stroke="#00c5ff" d="M465.3 168h0m2.2-2.1h0m4.7-4.3h0m6.9-3h0m1-.4h0m1-1.4h0m5.4-2.4h0m3.2 .2h0m.4-2h0m.8 17h0m1.9-6.2h0m.5 1.2h0m.4-1h0m0-9.7h0m-46.2 32.9h0m.6-1.7h0m6.5-6.7h0m.2-.6h0m1.4-1.7h0m.8-1.3h0m25.2 7.1h0m-58.3 27.8h0m1.7-1.8h0m2.7-2.4h0m1.4-1.8h0m5.5-5.5h0m25.5 9.2h0m1.1-1.4h0m8.2-9.1h0m4.1-3.5h0m2.4-3.3h0m-70.7 39.1h0m6.7-9.1h0m4.7-3.9h0m2.6-2.6h0m16.7 16.4h0m3.4-3.4h0m4.3-4.2h0m2.9-1.9h0m-56.5 23.6h0m1.7-2.6h0m.3 .6h0m1.2-1.6h0m4.5-5.1h0m.2 .6h0m1.5-1.9h0m17.5 14.8h0m13.7-13.5h0m-59.1 28.5h0m.2-.6h0m5.8-7.1h0m5.9-5.6h0m14.9 14.3h0m1-1.4h0m1.7-1.4h0m2.4-1.1h0m0-.8h0m5.3-3.3h0m1.5-2.2h0m2.4-2.1h0m-63.9 34.3h0m.1-1.1h0m4.7-4h0m8.8-9.2h0m17.9 9.6h0m.6 .4h0m10.9-9.3h0m-53.7 24.5h0m.7-1h0m.5 .7h0m1.5-3.1h0m15.9 10.7h0m1.4-.8h0m8-8.7h0m.9 .3h0m2.5-1.5h0m-56.1 33.9h0m.7-1.1h0m.9 .7h0m.3-1.6h0m0 2.1h0m1.7-4.5h0m2.7-5.3h0m1.2-1h0m.6-1h0m2.6 13h0m1.4-.2h0m2.5-2h0m.2 1.6h0m.9-18.8h0m2.3 14.6h0m.2 1.2h0m9.3-7h0m2.2-2h0m-42.4 27.3h0m4.3 .3h0m.4 1.1h0m4.8-12.2h0m.7 3.1h0m2.2-.4h0m1 .7h0m.1 .1h0m.6-1.4h0m5-2.6h0m.3 .7h0m1.2-2.1h0m2.9-1.3h0"/><path stroke="#00cfff" d="M470.2 164.5h0m2-1.7h0m1.8-1.9h0m4.2-1.6h0m5.3-4.2h0m2.4-.2h0m3.3 .2h0m2.7 10.2h0m.6-12.6h0m2.6 7.5h0m.8-1h0m-50.7 29.6h0m5-6.9h0m7.8-6.6h0m2.7-4.3h0m17.2 16.9h0m1.5-1.8h0m1.7-1.6h0m5.9-8h0m.3-2h0m1-.5h0m1.1-2.6h0m.7-.5h0m-56.6 29.7h0m3.5-5.1h0m21.4 14.2h0m1.1-.9h0m6.7-7.5h0m4.8-5.2h0m4.2-5.9h0m.4 1.4h0m-67.5 34h0m1.8-2.1h0m1.8-2.7h0m29 4.9h0m5.9-5.2h0m1.8-1.3h0m6-5.2h0m-61.3 28.3h0m2.1-2.4h0m7.3-7.3h0m1.7-1.8h0m14.4 15.9h0m2.6-2.1h0m1.8-1.6h0m.7-.7h0m5-4.9h0m-54.7 23.5h0m.7-.1h0m.2-1.6h0m9.9-8.8h0m10.3 18.8h0m5.8-6.9h0m6.1-4.5h0m2.5-1.7h0m5.7-6h0m-68.2 38.8h0m1.1 0h0m.3-.7h0m8-8.3h0m3.6-3h0m1.3-1.6h0m14.7 12h0m1.7-1.7h0m5.3-4.6h0m5.8-4.6h0m5.1-5h0m-63 37.8h0m4.4-5.7h0m.6-1.9h0m8.5-10.7h0m2-.7h0m7 17h0m.1 1h0m9.2-8.2h0m4.8-5.2h0m2.2-.6h0m-51.7 30.9h0m4.8-9h0m1.8-2.2h0m1.2-1.3h0m3.6 13.8h0m3.9-2.8h0m1.5 .1h0m11.8-9.8h0m-39.4 30.2h0m5.1-9.1h0m1.5-2.2h0m.7-.7h0m.3 1.2h0m2.2-1.1h0m2.6 .7h0m1.5-1h0"/><path stroke="#00daff" d="M463.6 170h0m14.9-10.5h0m11.2-3.9h0m.9 12.8h0m2.2-14.4h0m2.1 1.7h0m.7 3.3h0m-49.6 29.1h0m6.1-7.3h0m1.5-1.4h0m6-6.6h0m17.3 15.3h0m6.8-8h0m1-2.4h0m-58.2 30.1h0m9.4-9.4h0m4-4.8h0m2.1-1.6h0m32.8-1.4h0m-59.2 26.8h0m5.8-5h0m.2 .6h0m1.2-1.7h0m14.5 17.2h0m.4-1h0m1.7-1h0m.3-.6h0m.8-.6h0m2.9-2.8h0m1.8-.9h0m10.7-9h0m-69.7 36.2h0m9.9-8.9h0m3.2-4.5h0m5.2-4.4h0m12.5 17.5h0m1.6-2.3h0m3-2.5h0m1.3-1.2h0m7.5-7.3h0m5-3.5h0m-67 36.9h0m4.8-5.5h0m.5-.2h0m.9-1.3h0m3.9-5.7h0m.5 .2h0m15.8 12.8h0m3.5-2.9h0m5.3-6h0m-52.2 23.8h0m10.5-9.6h0m11.7 15.6h0m.3-1.4h0m1.5-.7h0m16.7-14.9h0m-60.7 36.6h0m2.1-2.3h0m0-.8h0m5.8-8h0m15.6 6.6h0m2.7-.6h0m.6-.6h0m1.1-1.5h0m1.7-1.6h0m4-3.2h0m-45.6 24.2h0m.1-.5h0m1.4-1.4h0m.9-2h0m2.2 11.2h0m.6-13.6h0m4.9 10.7h0m.2-15.3h0m16 2h0m.9-.8h0m-29.3 21.7h0m1.8 .3h0m.3-3.1h0"/><path stroke="#00e4f8" d="M473.8 161.9h0m5-2.1h0m2.7-2.8h0m2.7-.1h0m7.3 7h0m.4-1.5h0m.5-5.2h0m1.1 1.7h0m.7 1.4h0m-44.7 24.5h0m7.2-8.3h0m21.5 9.9h0m10.4-13.2h0m-63.7 36.5h0m2.7-3.4h0m4.7-4.4h0m32.3 1.3h0m6.2-7.2h0m-63.9 31.4h0m2.3-2.2h0m2.5-3.8h0m.9-.5h0m24.2 7.1h0m.8-.7h0m6.5-5.6h0m1-.6h0m7.8-5.8h0m2.2-2.8h0m-64.3 31.9h0m1.4-.1h0m1.4-1.4h0m1.7-1.4h0m1.8-3.1h0m.5-1.1h0m4.5-3.6h0m13.8 15.4h0m3.7-4.1h0m.4 .1h0m.8-1h0m.2 0h0m6.3-6.2h0m1.9-1.2h0m6.1-6h0m-67.1 38.8h0m3-3.7h0m.5-1.1h0m7.9-9.3h0m1.7-1.5h0m24.1 5.2h0m-55.4 27.6h0m7.5-7.4h0m3-2.5h0m4.8-4.3h0m2.1-1.9h0m11 13.3h0m.7 .4h0m1.3-3h0m2.2-1h0m1.9-2.4h0m3.1-.7h0m2.4-2.1h0m3.4-3.5h0m-57.2 30.8h0m2.1-2.3h0m2.1-2.2h0m.7-1.3h0m4.1-5.1h0m11.3 12.1h0m1.3 0h0m12.2-11h0m1.7-1.7h0m-52.4 36.2h0m.1-3.4h0m.2 5.8h0m.7-6.5h0m1.1-1.7h0m.5 7.1h0m1-10.6h0m.6-.9h0m2.3-1.9h0m.7 13.2h0m.4-1.4h0m4-16.3h0m.1 .3h0m5.6 10.8h0m2.1-3.7h0m.9 .8h0m4.1-2.3h0m.5-2.4h0"/><path stroke="#08efef" d="M468.4 165.6h0m12.3-7.4h0m1.7-.1h0m2.1-.5h0m1.7-1.1h0m.5 .1h0m3.7 11.5h0m.4-4h0m.1 2h0m1.1-5.7h0m1-1.3h0m.6-1.8h0m-42.9 25.8h0m0-.8h0m1.5-1h0m3.4-3.3h0m3.9-4.3h0m1.2-.9h0m15.5 16h0m1.5-2.2h0m4.7-5.6h0m1.8-3.2h0m-58.8 32.2h0m2.2-3.1h0m1.8-1.7h0m1.9-1.5h0m.3-.8h0m11.9-11.8h0m15.9 17.3h0m1.8-2.7h0m2.5-2h0m1.4-1.9h0m-53.1 20.5h0m2.6-3.7h0m10-7.5h0m22.8 8.2h0m1.4-.5h0m1-1.8h0m.4-1.2h0m6.2-4.8h0m-57.6 26.6h0m22.7 5.4h0m3.6-3.4h0m1.3-.9h0m2.3-2.4h0m3.9-2.5h0m-63.4 34.5h0m7.3-9.7h0m2.6-1h0m3.3-4.1h0m12.9 14.3h0m.8-.3h0m1.7-2.5h0m1.4-1.4h0m5.2-4.6h0m2.2-1.5h0m4.8-4.2h0m1.4-.9h0m.4-.5h0m-59.5 31.5h0m7.6-6.3h0m5.3-5.1h0m12.4 10.3h0m12.7-9.8h0m-56.7 33.7h0m2.8-4.8h0m4.4-6.7h0m1.4-1.6h0m8.5 15.6h0m.2-1.1h0m9.9-8.3h0m-45.9 27.7h0m4.6-1.8h0m1.6 3.8h0m2.1-12.5h0m2.1 10.1h0m.3-14.9h0m0 2.3h0m.6-1h0m2.1-.7h0m1 11.8h0m3.5-2.8h0m.3 .2h0m2-1.3h0m6.7-3.5h0m3.6-5.2h0m1.8-.6h0m-31.5 19.7h0"/><path stroke="#10fae6" d="M469.1 165.8h0m2.1-1.3h0m16.9-8.7h0m-42.5 33.9h0m5.1-5.9h0m3-4.1h0m.1 .6h0m9-9.3h0m.9-.8h0m16.3 13.7h0m7-11.2h0m1.1-.6h0m-58.6 33.4h0m5.4-5.9h0m3.1-3.4h0m1.2-.1h0m1-1.8h0m24.9 7.1h0m2.2-2.2h0m6.5-7.1h0m-63.4 32h0m5.8-6.7h0m4.9-3.8h0m4.4-3.2h0m21.6 8.9h0m5.1-5.4h0m2.8-1.7h0m-68.4 37.2h0m3.8-3.1h0m1-1.3h0m9.1-10.4h0m14.4 13.9h0m.1 1.3h0m2.2-2.2h0m3.5-4.3h0m-50.6 24.7h0m2.8-3.3h0m3.7-4.9h0m6.5-7.2h0m11.7 15.2h0m6.5-6.6h0m4.8-3.9h0m2.6-2.2h0m1.7-1.6h0m-60.5 34.2h0m2.2-1.6h0m1-1.7h0m2.2-2.4h0m2.1-2.3h0m2.5-1.8h0m13.8 9.8h0m4.2-4.1h0m-45.5 26.2h0m2.5-2.5h0m2.1-4.2h0m4-4.6h0m4.7-6.7h0m8.6 13h0m2.7-2.1h0m9.6-7.6h0m-44.5 29.9h0m.7 3.8h0m3.5-13h0m.3 10.5h0m1.1-11.7h0m1 11.6h0m.7-1.7h0m.7-11.3h0m2.4 10.4h0m1.9-3.2h0m9.3-7.3h0"/><path stroke="#19ffde" d="M467.5 167.1h0m3.8-1.9h0m1.2-1.5h0m.7-.3h0m7.5-4.1h0m1.5-.7h0m3.1-.8h0m3.8-.8h0m1.6 9.8h0m.2-4.8h0m-35.5 16.6h0m21 9.5h0m3.6-4.8h0m-53.3 25h0m11-10.4h0m1.2-1.2h0m4.3-5h0m14.3 17.7h0m13.9-16h0m1.1-.7h0m1.1-1.9h0m-65.8 37.5h0m28.4-.1h0m1.1-1.8h0m2-.6h0m2.7-2.3h0m-54.3 25.4h0m.6-1.7h0m.7-.4h0m8.8-7.7h0m1.2-1.2h0m1.3-1.8h0m3.4-3h0m11.8 14.6h0m.3-.4h0m2.5-1.8h0m5.2-4.6h0m7.5-7h0m3.6-3.4h0m-65.2 38.7h0m5-6.5h0m1.9-2.3h0m3.8-3.8h0m.2 .4h0m3.8-5.2h0m9.1 18.1h0m4.2-5.4h0m7.3-6.8h0m2.3-1.8h0m.7-.2h0m.8-1.4h0m-45.8 22.4h0m1.9-2.6h0m9.4 12.6h0m3.2-3.5h0m.3 .2h0m5.1-3.9h0m.8-1.3h0m4-2.8h0m3.5-2.5h0m-53.8 30.7h0m1.7-3.1h0m.8-1.4h0m3.4-3.9h0m1.1-1h0m2.5-2.9h0m2.1 17.9h0m1.4-.5h0m2.7-3.1h0m2.5-1.9h0m4.4-2.6h0m3.3-2.9h0m2.6-2.6h0m2-1.7h0m0-1h0m.3 .2h0m.9-.7h0m1.1-1.7h0m-48.1 29.5h0m.4 5.7h0m.1-2h0m.2-1.2h0m.5 5.6h0m.4-10.2h0m1.2-.1h0m.5 7.5h0m.9-9.4h0m.4 9.2h0m.1-9.1h0m1.2 8.7h0m.2 .3h0m1.8-2.3h0m1.9-11.6h0m1.7 10h0m3.4-2.2h0m4.6-2.4h0m1.5-1.3h0m4.3-4.3h0"/><path stroke="#21ffd5" d="M466.1 168.6h0m9-7.7h0m.6 1.8h0m2.6-2.3h0m2.2-.6h0m8.7 9.6h0m.5-1.5h0m1.4-7.3h0m1.2-2.1h0m-44.2 28.3h0m.9-.6h0m10.1-10.6h0m6.2-5.4h0m11.4 16.6h0m6.8-8.1h0m1.9-3.5h0m.8-1.9h0m-57.4 33.7h0m3.8-4.2h0m7.2-6.9h0m3.2-2.7h0m1.5-2.1h0m23.6 7.1h0m1.7-1.6h0m-59.5 28h0m2.8-2.8h0m1-1.5h0m.7-.7h0m2.8-2.3h0m2.3-2.3h0m1.1-.7h0m13.9 15.4h0m5.1-5.2h0m1.3-1h0m.9-1.3h0m1.7-1h0m3.9-2.6h0m5.3-5.5h0m-63 33.9h0m4.9-4.3h0m6-7h0m18.2 8.8h0m-46 20.3h0m.7-.5h0m3.5-3.8h0m2.2-2.3h0m.1-.4h0m2.9-3.2h0m.5-.1h0m.5-1h0m.6-.3h0m.5-1.8h0m.8 .5h0m2.4-1.8h0m6.4 17.7h0m1.9-2.1h0m11-10.8h0m3.3-1.9h0m1-.7h0m-62.2 36.1h0m.5 .5h0m.4 .1h0m7.7-8.3h0m1.6-1.9h0m9.2-8.5h0m7.4 15.6h0m1.5-3.8h0m12.4-8.6h0m2.6-2.3h0m-57.2 35.7h0m3.6-5.4h0m.2 0h0m1.2-1.4h0m2.6-3.4h0m8.9 9.6h0m2.5-3h0m10.9-7.9h0m6.8-5.3h0m-49.2 34.8h0m.3-1.7h0m.9 .4h0m.1 1.7h0m.9-7.5h0m.9-1.1h0m.6 8h0m1.7-8.8h0m.3 7.7h0m2.7-11.6h0m.3 8.4h0m3.1-1.2h0m7.9-4.5h0"/><path stroke="#2affcd" d="M483.7 158.3h0m1.2 1.5h0m3.6 8.6h0m-36.3 14.5h0m.9-1.1h0m2.5-2.6h0m2.5-2.6h0m2.4-3.4h0m1.6-.3h0m14 15h0m3.9-5.7h0m3.3-4.4h0m3.4-5.2h0m-52.9 29.7h0m1.8-2.9h0m0 1.1h0m3.3-3.2h0m.4-.5h0m19.3 11.4h0m.5-1.5h0m9.5-9.5h0m1.1-1.8h0m2.8-3.5h0m-65.3 38.1h0m5.1-6.8h0m3.9-4.5h0m2.2-2h0m15.7 13.2h0m1.5-1.4h0m4.6-4.7h0m10.9-8.7h0m3.8-3.7h0m-63.7 35.5h0m9.4-9.6h0m1.2-1.2h0m1.3-2.4h0m3.1-3.5h0m1.4 .3h0m5.8 19h0m3.2-3.6h0m9-7.5h0m2-1.8h0m.8-.9h0m-57.2 31.6h0m25.9-2.8h0m2-1.5h0m3.2-2.8h0m8.1-7.4h0m1.8-2h0m-60 35.3h0m5.1-4h0m4.6-3.6h0m2.1-3.8h0m2.3-1.2h0m1.2-1.6h0m4.1 16.2h0m13.4-11.3h0m3.8-2.3h0m.4-.8h0m3.3-3.3h0m-57.2 38.4h0m.8-2.8h0m1.8-1.7h0m.7-1.3h0m5-5.8h0m.4 .6h0m6.8 9.7h0m.3-1h0m5.9-4.6h0m1.1-.9h0m-33 17.4h0m2.7 4.3h0m1.2-5.7h0m.7 5.2h0m.6-7.2h0m.4-2.3h0m3.2-2.6h0m9.6 2.1h0m1.5-.9h0"/><path stroke="#33ffc4" d="M466.7 169h0m2.9-2.5h0m3.4-2.3h0m1.3-.2h0m2.9-2.8h0m3.5-.4h0m7.5-3.5h0m.9 10.2h0m1.6-1.5h0m-43.3 22.6h0m3.4-4.2h0m24 5.1h0m2.9-4.2h0m3.4-5.3h0m1 .9h0m.3-2.6h0m1.8-2.6h0m3-5.1h0m-60.6 38.9h0m1.3-1h0m5.6-5.6h0m3.7-3.9h0m2.1-1.7h0m23.8 4.6h0m9-10.4h0m-63 35.2h0m2-1.7h0m15.3-14.4h0m22.4 5.4h0m-50.3 23h0m.5-.2h0m3.7-4.3h0m28.5-1.4h0m.6-1.3h0m-61.7 38h0m3.4-4.7h0m2.3-2.7h0m8.7-8.8h0m1.8-1.9h0m6.3 17.9h0m3.9-5.4h0m1.2-1.7h0m1.6-.2h0m6-5.7h0m4.3-4.2h0m-52.7 30.1h0m2.3-2.3h0m1.1-.5h0m3.3-4.2h0m4.2-2.6h0m5 14.3h0m1.1-1h0m3.1-4.1h0m4.4-2.6h0m4.7-4.2h0m4-2.6h0m1.5-1.3h0m-51.6 30.3h0m11.4 4.2h0m3.2-3.5h0m.3-.3h0m.7-.2h0m4.2-3.5h0m2.5 .1h0m2.8-5h0m1.1 1h0m3-4.2h0m-44.9 31.7h0m.6 1.9h0m.7 1.3h0m.4-3h0m2.2-.2h0m3.6-9.4h0m1 7.2h0m.6-6.9h0m.4-1.4h0m1.4 1.1h0m2.8 4.5h0m1.3-1.2h0m2.8-2.2h0m1.8-2.3h0"/><path stroke="#3bffbc" d="M470.5 166.5h0m9.7-5.2h0m9.7 .6h0m0-1.1h0m.2 4.2h0m.1-4.4h0m-43.9 29h0m16-16.9h0m2.3-1.6h0m14.1 13.4h0m4.6-8.4h0m.6 .2h0m-51.8 28.3h0m2.2-2.4h0m7.4-7.3h0m16.8 12.1h0m7.1-6.6h0m2.3-3.7h0m1.3-.6h0m-59.2 30.8h0m.2-.8h0m3-3.4h0m1-1.7h0m5.8-5.5h0m21.2 7.2h0m2.2-2.8h0m1.6-.2h0m.1 .8h0m2.6-3.3h0m.2-1.2h0m3.2-1.2h0m4.8-4.7h0m-66.4 39.3h0m6.6-7h0m3.6-3.5h0m6.4-7h0m12.5 12.6h0m2.3-1.8h0m5.9-6.7h0m2.8-1.1h0m-58.7 33.3h0m9.4-10.2h0m7.1-7h0m5.1 17.7h0m17.9-17.3h0m-59.1 38.6h0m.3-2.3h0m1.5-1.5h0m11.4-10.6h0m1.4-1.7h0m4.2 15.2h0m5.3-4.5h0m4.3-3.6h0m2.7-2.3h0m2.1-1.8h0m5.5-4.8h0m1-1h0m-53.9 37h0m4.2-8.3h0m5.7 9.1h0m.6-16.1h0m.2 15.1h0m1.5-17.1h0m1 14.8h0m6.9-5.3h0m2-1.1h0m3.3-3h0m4.4-3.9h0m.9-.3h0m-42.1 29.5h0m.4-1.7h0m2.6 1.5h0m.5-4h0m1.8 1.9h0m2-1.9h0m1.4-2.3h0m1 2.1h0m.2 1.7h0m2.4-4.1h0m1.4-.1h0m2-1.9h0m2-1.9h0"/><path stroke="#44ffb3" d="M472.6 165.8h0m4.4-2.6h0m10.8 4.5h0m0-7.4h0m0 4.6h0m.6-1.9h0m.1-3.7h0m-40.8 29.5h0m5.1-6h0m1.3-.8h0m6.7-7.1h0m20.4 4.1h0m-51.9 28.6h0m1.4-2.4h0m1.2 .7h0m2.5-2.8h0m.6-.9h0m9.3-9.8h0m17.4 11.5h0m4.7-5.5h0m.3 .5h0m4.2-5.6h0m-60.8 34.1h0m2.2-3.3h0m5-5.2h0m.5-.8h0m1-1h0m2.3-1.7h0m2.6-2.3h0m10.9 16.2h0m.5-1h0m16.1-15.6h0m1 .2h0m2.6-2h0m-63.7 37.6h0m2.4-4.6h0m4.3-3.3h0m3.5-3.4h0m4.3-4h0m10 13.3h0m6.7-5.4h0m2.6-2.9h0m0-.4h0m.3-1.2h0m3.7-2.9h0m1.8-1.5h0m-43.3 19.6h0m5.9 16h0m1.1-1.1h0m.5-1.1h0m3.9-4.7h0m4.6-2.8h0m8.4-7.4h0m-58 36.3h0m.3-1.3h0m.4 1.5h0m.6-2.7h0m2.4-1.8h0m1-.7h0m.9-1.3h0m1.7-1.2h0m1.4-.9h0m4.6-4.4h0m1.5 15.6h0m.6-18.8h0m4.3 13.5h0m4.1-3.2h0m8.5-6.7h0m4.9-4.1h0m-53.5 38.9h0m.2-3.7h0m2.2 1.1h0m.6-5.5h0m6-7.8h0m1.3 .8h0m6.5 7.5h0m4.6-4h0m.5-.1h0m1.7-1.4h0m1.2-1.3h0m1.4-1.6h0m.2 .6h0m-36.3 24h0m2.8 .4h0m3.7-.4h0m2.7-4.6h0m3-1.1h0m1.7-1.7h0"/><path stroke="#4cffab" d="M478.3 163.2h0m1-.9h0m1.2-.4h0m6.8 2.6h0m.7-3.2h0m-38.3 24.9h0m.1-.2h0m5.5-5.7h0m1.2-2h0m2.2-1.3h0m1.8-1.3h0m1.9-2.7h0m4-2.7h0m9.4 16.7h0m.4-.7h0m5.5-8.2h0m5.3-7.7h0m-47.7 27.2h0m3.1-2.7h0m3.2-3.5h0m12.3 15.2h0m10.9-11.1h0m-56.2 28.2h0m2.9-3.9h0m.2 1h0m3.2-2.5h0m.6-1.6h0m6.7-5.4h0m10 15.2h0m2.2-1.7h0m2.1-1.7h0m12-11.3h0m-45.4 19.7h0m13 10.9h0m3.9-3.4h0m-52 29.6h0m2.9-3.5h0m1.1-2.1h0m1.7-1.9h0m3-3.6h0m4.1-3.5h0m6.1 16h0m2.5-2.8h0m16.9-16.1h0m-58 37.2h0m4-4.3h0m14-13.7h0m1.7 16.9h0m2-3.4h0m3.6-3.3h0m2.5-1.1h0m2.3-2.7h0m-43.8 27.4h0m4.9-4.5h0m0 .1h0m.5 .1h0m1.1-4.3h0m7.4 9.1h0m14.1-13h0m1-1.5h0m-43.6 30.1h0m11.9-8.4h0m.1 1.8h0m2.3-3.2h0m.2 2.3h0"/><path stroke="#55ffa2" d="M468.5 167.7h0m7.1-3.9h0m4.7-.8h0m6.2 2h0m.5 .8h0m.1 2.4h0m-23.7 4.5h0m10.2 17h0m.7-1.2h0m11.5-16.2h0m-57.6 36.7h0m1.2-.7h0m1.4-1.4h0m12.3-11.5h0m1.7-2.2h0m10.7 16h0m2.3-2.7h0m2.8-2.3h0m4-3.9h0m1.2-1.9h0m3.1-3.3h0m-59.4 33.1h0m1.8-2.5h0m1-1h0m.5 .7h0m.8-1.5h0m7.4-7.1h0m1.6-1.8h0m3.3-3.2h0m11.9 13h0m.8-.9h0m-49.1 25.7h0m4.5-4.5h0m2.6-2.3h0m8.2-8.5h0m3.1-3.5h0m3.4 18.7h0m1-.6h0m11.2-10.5h0m-47.4 25.7h0m5.1-6.8h0m6.2-4.8h0m8.1 10.9h0m.9-.1h0m3.1-3.6h0m3.4-1.6h0m.9-1h0m3.4-2.8h0m1.6-1.1h0m-51.3 31.4h0m6.1-8.1h0m1.4-1.1h0m4.8-4.3h0m.1 17.6h0m8.6-9.5h0m.9-.7h0m5.2-3.3h0m3.5-2.2h0m-47.3 34.9h0m.6-5.6h0m1.9 7.1h0m.5-9h0m2.5 7.7h0m2.2-2.4h0m5-3.3h0m3.4-2h0m9.2-9.4h0"/><path stroke="#5dff99" d="M467.6 169.5h0m7.4-4.5h0m7.8-4.4h0m2.9 1.9h0m1 3.5h0m-25.5 9.9h0m17.1 7.3h0m-42.3 18.8h0m31.6-5.3h0m4.7-6.1h0m-47.6 22.1h0m1.9-.4h0m12.8 10.7h0m2.6-2.1h0m7.4-6.6h0m-57.4 33.8h0m9.3-9.9h0m12.1 9.7h0m4.9-4.9h0m1.1-.9h0m1.8-1.3h0m3.5-4.4h0m2-.9h0m-48.3 25.1h0m3.2-2.2h0m0-.9h0m1.2-2h0m7.9 13.9h0m10.5-11.4h0m7.9-6.4h0m.2-.7h0m-53 35h0m2.9-4.5h0m1 1.2h0m3.2-4h0m6.7 8.3h0m6.6-5.8h0m4.2-3.7h0m1.2-2h0m.7 .8h0m-42.1 28.5h0m1.5 3.5h0m.9-3.2h0m.1 2.3h0m3.4-11.5h0m2.1 8.3h0m2.9-13.5h0m.1 11.6h0m6.3-4.9h0"/><path stroke="#66ff91" d="M477.1 164h0m.8-.2h0m7.1 .6h0m0-2h0m.3-1.8h0m.2 3.7h0m1.3 2.6h0m-38.7 21.7h0m.9-.3h0m1-.6h0m4-5h0m3.5-4h0m7.6-6.9h0m7.3 18h0m4.2-4.7h0m3.5-4.3h0m-40.3 16.8h0m15.9 10.7h0m1.3-1.7h0m7.4-6.7h0m1.8-2.3h0m-51.4 24.9h0m7.3-6.2h0m2-2.1h0m2-1.5h0m7.3 16.8h0m2.7-3.6h0m11.9-10.6h0m6.1-4.8h0m.3-.5h0m-61.7 36.2h0m6.6-5.7h0m3.5-4.7h0m3.8-2.5h0m4.1 15.9h0m7.3-6.4h0m2.7-2.3h0m6.7-5.7h0m-55.5 34.4h0m1.9-2.7h0m3.2-3.6h0m12.2-12h0m-36.6 37.6h0m.3 .5h0m.4 .5h0m.3 .4h0m13.6-.3h0m.4-.6h0m.8-15.6h0m2 13h0m1.3-.9h0m14.8-12.5h0m1.3-1h0m.9 0h0m-47 36.8h0m1.8-6.5h0m1.1-2.1h0m1.2-3h0m2.1 9.2h0m1-12.2h0m15.2-2.1h0"/><path stroke="#6fff88" d="M470.9 166.6h0m4.4-1.2h0m2.6-1h0m8.2 5.2h0m-33.9 14.5h0m7.3-6.6h0m3.6-3.1h0m4.1-3.8h0m8.8 14.8h0m-44.6 22.2h0m1.2-1.7h0m1.2-1.6h0m.7-1.1h0m3.7-4.1h0m8.8-8.5h0m.2 .4h0m18.9 6.1h0m4.9-5.7h0m.9-1.3h0m-56.3 31.6h0m1.3-1.4h0m17.5 7.4h0m8.1-8h0m1.9-1.3h0m.8 .2h0m4.2-5.5h0m-50.5 28.1h0m3.7-4.9h0m2.5-1.6h0m1-.8h0m1.9-2.4h0m1-.5h0m10.4 10h0m4.8-4.5h0m1.5-1.2h0m2.4-1h0m1.6-2.1h0m-44 21h0m2-.1h0m11 6.8h0m5.4-4.5h0m1.8-1.4h0m.4-.5h0m2-1.7h0m-53.8 37.3h0m3.3-3.9h0m6-6.4h0m2.6-2h0m2.1-2.3h0m.8 12.3h0m1.3-14h0m.2-2.5h0m2.2 13.1h0m.2-.5h0m7.1-5.6h0m4.2-2.8h0m5.4-4.2h0m-44 28.4h0m1.6-1.9h0m1 5.4h0m2.2-10.2h0m2.3 8.9h0m4.3-3.8h0m4-1.7h0m1.7-3.4h0m3.2-1.8h0"/><path stroke="#77ff80" d="M472.4 166.8h0m13 .4h0m-29.3 13h0m.4-.1h0m9.4-8.5h0m11.6 11.5h0m.5-.3h0m.9-2.4h0m1.2-.5h0m1.8-3h0m2.7-5.6h0m-55.6 38h0m7.3-6.9h0m2.3-2.2h0m5.8-5.8h0m.9-1.1h0m1.2-1.3h0m21.5 3.5h0m-57.5 33.4h0m2-2.6h0m5.6-6.7h0m.8-.7h0m5.7-3.7h0m.9-1.9h0m.8-.4h0m2.6-2.1h0m2.9 18.9h0m7-7.2h0m6.4-5.6h0m2.5-1.8h0m-39.2 16.8h0m9.3 10.5h0m12.9-11.4h0m-55.2 35.3h0m4.2-6.2h0m4.1-3.6h0m5.3-3.5h0m.2-.7h0m.7 16.9h0m1.9-2h0m1.6-2.2h0m.1-1h0m2.3-1.3h0m3-4h0m3-1.4h0m5.1-4.9h0m1-1.5h0m.5 0h0m-48 32.7h0m4.9 6.1h0m.6-11.6h0m1.6-2.5h0m1.1-.2h0m2.5 10.1h0m10.1-9.7h0m3.2-1.9h0m4.2-2.5h0m-44.8 32.3h0m1.3 2.2h0m2.2-4.8h0m2.3 1.3h0m.3-8.4h0m2.1-2.2h0m.3 1.5h0m7.1 1.8h0m1 .6h0m1.8-4.2h0"/><path stroke="#80ff77" d="M471.7 168h0m4.1-2.5h0m2-.5h0m3.7-2h0m3.7 4h0m-33.2 18.6h0m12.5-12.7h0m2.4-1.4h0m8.2 15h0m8.7-13.8h0m.2-2h0m1.3-.4h0m-52.8 36.2h0m1.2-.9h0m3-3.2h0m4.8-5.5h0m17 8.5h0m6.5-7h0m3.8-4.9h0m1.2-.1h0m-58 33.8h0m5.4-6.8h0m4-2.9h0m2.3-1.4h0m8.8 12.2h0m9.3-7.8h0m5-5.8h0m-54.1 33.2h0m1.2-1.5h0m1.9-1.1h0m10.3-10.5h0m5.3 13.4h0m2.9-1.1h0m-40.8 22.7h0m.7-2.7h0m.8 .6h0m5.8-7.7h0m1.4-1.5h0m.8-.6h0m1.2-1.6h0m2.8-1.8h0m10.6 6.2h0m-41.9 26.6h0m3.3-2.6h0m3.5-3.8h0m.7-.4h0m5.1-4.1h0m2.1 8.9h0m2.1-14.5h0m3.4 10.9h0m8.7-8h0m1.2-.7h0m-40 27.8h0m3.4-5.7h0m4.1-2.7h0m.9 7.5h0"/><path stroke="#88ff6f" d="M468.9 169.4h0m.3 .1h0m4.3-2.1h0m3.3-1.8h0m1-.2h0m6.6-2.1h0m-35.8 26h0m4.1-4.1h0m21 2.2h0m2.7-3.5h0m6.6-8.8h0m-52.5 34h0m9.3-11.1h0m8.3-7.1h0m14 11.7h0m-45 18.5h0m3.5-3h0m5.2-3.6h0m8.8 12.1h0m5.7-6.7h0m4.7-3.4h0m6.4-4.4h0m-58.1 36.9h0m1.5-2h0m5.1-6.3h0m11.7 7.1h0m3-2.1h0m2.1-1.8h0m-40.2 23h0m3.3-4.9h0m9.9 7h0m.7-16.9h0m.2-.7h0m.5-.5h0m8.2 6.9h0m4.1-3.3h0m.7 .4h0m-48.1 33.2h0m5.5-3.8h0m4.7 4.5h0m2.1-11.9h0m4.1 6.1h0m3.8-3.1h0m1.7-.6h0m1-2h0m3.5-2.4h0m.2-.8h0m5.2-3.3h0m-39.2 27.2h0m.4 1.6h0m1.9-3.1h0m2.6-3.5h0m.8 4.7h0m0-4.3h0m.6 .5h0m6.8-2.8h0"/><path stroke="#91ff66" d="M474.8 166.5h0m-22.9 19.7h0m12.6-12.8h0m1.9-.8h0m17.3-1.7h0m-53 39h0m3.7-5.5h0m9.4-8.7h0m.9-.6h0m17.6 6.4h0m5.1-6.3h0m2.4-2.7h0m-54.4 30h0m17.2 5.3h0m2-3.1h0m16.5-13.5h0m2-.8h0m-58.6 37.7h0m3-3.9h0m3.3-3.2h0m2-3.4h0m2.1-2.4h0m5.3-4.8h0m5.8 14.4h0m6.6-6.7h0m.1-.4h0m4.6-4.2h0m1.2-1.3h0m-51 31.4h0m.7 1.1h0m10.2 4.6h0m2.5-2h0m2.6-4h0m11.9-9.7h0m-48.7 33h0m.1 .6h0m5 2.7h0m1.4-8.3h0m1-2.4h0m1.2 9.2h0m8.9-9.2h0m.4 .3h0m-23.1 17.8h0m7.9-2.6h0"/><path stroke="#99ff5d" d="M469.9 169.4h0m12-4.8h0m1.3 1.2h0m.9 2.7h0m-29.6 15.1h0m.7-2.1h0m2.8-2.5h0m2.5-1.8h0m7.9-6.4h0m4.5 17.1h0m2.7-4.2h0m.8-1.5h0m1.7-1.2h0m1.2-1.4h0m1.5-2.4h0m-48.5 30.8h0m6.3-7.5h0m21.4 3.8h0m4.8-6.7h0m4.4-5.2h0m-57.9 36.6h0m6.7-8.2h0m2.8-1.9h0m.9-.9h0m5.9-4.4h0m3.7 15.8h0m1.5-2.4h0m12.6-11.6h0m7.2-5h0m-56.8 36.2h0m2.3-2.4h0m6.2-6.4h0m6.9 9.9h0m2.7-2.3h0m6.9-5.5h0m-39.1 20.7h0m3.6-3.6h0m2.2 12.8h0m4.3-4.7h0m1.2-15h0m.8 12.1h0m-39.7 27.8h0m5.4-4.8h0m5.1-4.3h0m.7-1.8h0m4.8 6.3h0m0-10.5h0m3.3-4.3h0m4.4 6.9h0m3.2-2.9h0m1.9-1.7h0m-35.5 27.4h0m7.6-10h0m.6 7.6h0m4-4.1h0"/><path stroke="#a2ff55" d="M472.5 168.4h0m2.7-1.8h0m2.2-.5h0m3.1 0h0m-18.4 9.6h0m5.6-4.1h0m6.5 14.7h0m4.9-6.9h0m1-2.2h0m.1 .2h0m3-4.8h0m-48.5 31.9h0m4.5-3.9h0m2.2-2.9h0m1.7-1.2h0m15.2 7.9h0m3.2-3h0m5.5-6.3h0m-55.1 33.5h0m2.7-4.1h0m10.1-8.6h0m6.1 13.6h0m.9-1.7h0m1.6-2h0m4.1-2.3h0m1.7-2.5h0m3.3-2.6h0m4.8-4.5h0m-50.9 32.1h0m8.7-9.2h0m4-4h0m1.3-.9h0m10.3 6.6h0m9.7-7.5h0m-49.3 31.6h0m6.6 6.5h0m2.5-2.7h0m11.6-11.2h0m-43.4 33.6h0m5.5 .7h0m1.7-8.4h0m1.5-2.7h0m.9 8.7h0m.7-1.6h0m.7-8.8h0m1.4 7h0m.5-1.2h0m2-1.9h0m4.3-3.6h0m-22.9 19.7h0m.8-4.8h0m3.6 2.6h0m1-4h0"/><path stroke="#abff4c" d="M474.2 167.4h0m8.7 2h0m-21.9 8.2h0m10.4 11.8h0m2.5-4h0m-39.3 21.2h0m6.1-7.3h0m.1 .6h0m7.3-7.9h0m15.3 7.7h0m4.7-7h0m-54.9 34.3h0m4.7-5.4h0m10.7-9.1h0m14.9 3.8h0m.2 1h0m-48.8 31.2h0m1.7-2.1h0m.1 .7h0m7.7-9h0m0 .6h0m5.7 8.8h0m16.1-13.2h0m-47.6 30.9h0m1.9-1.3h0m6.7-7.6h0m.7-2.1h0m1.7 12.3h0m8.4-7.7h0m0-.8h0m6.6-5.3h0m-43 32.3h0m.7 3.9h0m1.4-1.7h0m2.5-7.6h0m1.4-.9h0m1.6-1.7h0m0 1.6h0m.5 4.9h0m1.7-10h0m1.5 5.9h0m3.2-1.6h0m5-3.5h0m-27.3 21.4h0"/><path stroke="#b3ff44" d="M471.2 169.2h0m-17.5 15.9h0m1-1h0m9.2-7.9h0m5.4-5.3h0m4 15.9h0m-33.5 14.2h0m5.3-5.1h0m9.2 12.5h0m1.5-1.9h0m11.1-12.7h0m-54.3 34.6h0m22.9-4.8h0m1.8-1.7h0m13.9-11.1h0m-52.3 32.7h0m2.8-3.3h0m2.3-.7h0m12.1 3.6h0m3-2.4h0m6.1-5.9h0m.5-1.3h0m.9-.9h0m.3-.3h0m1-.8h0m-41.1 25.5h0m.2 12.7h0m.1-1.5h0m2.5-13.7h0m2 9.7h0m0-11.7h0m3.1 9h0m6-5.5h0m8-5.6h0m-42.6 29.5h0m.4 6.7h0m3.4-8.5h0m1.2-1.2h0m.5 3.8h0m5.4-4.2h0m1.4-1.1h0m.8-2.3h0m7.1-1.2h0m-30.5 24.4h0m.8-3.6h0m2.3-2.1h0"/><path stroke="#bcff3b" d="M480.2 168.1h0m-28.5 19.2h0m13.9-13.8h0m3.3-2h0m7.4 10.5h0m-40.8 23.3h0m5.2-4.8h0m8.3-9.1h0m3.3 18.3h0m-39.9 19h0m9.7-10.9h0m3.5-2.6h0m5.7 13h0m2.4-3.2h0m4.7-4.8h0m2.5-1.3h0m8.1-7.5h0m-53 36.3h0m2.1-1h0m10.9-13.6h0m5.7 11.3h0m2.4-2.7h0m2.4-1.6h0m.3-.9h0m3.8-3h0m.9-1.5h0m3.5-4.1h0m-50.7 36.2h0m5-5.3h0m1.3-3.2h0m2.9 9.6h0m1.7-.9h0m2-1.8h0m.9-12.2h0m.4 10.1h0m4-5.1h0m3.1-2.6h0m7.5-4.3h0m-48.4 36h0m4.8 .4h0m1.6-4.8h0m1.7 2.1h0m3.5-3.4h0m.2 2.2h0m2.7-9.2h0m10.6-1.7h0"/><path stroke="#c4ff33" d="M476.4 166.5h0m1 .8h0m-27.3 21.8h0m1.8-1.1h0m5.2-6.2h0m1.6-3h0m4.1-1.2h0m2.8-3.6h0m13.5 2.8h0m2.2-2.6h0m-48.5 33.9h0m3.7-5h0m28-5.6h0m5.9-6.8h0m-52.2 30.6h0m6.8-5h0m.4 .8h0m4.3 12.6h0m.2-18.8h0m1.9 15.8h0m2.8-2.7h0m-40.9 25.9h0m.9-.1h0m2.1-2h0m3.7-4.6h0m7.2 6h0m3.3-17.9h0m.3 .5h0m15-.1h0m-46.5 34h0m.2-.4h0m1-.6h0m3.1-5.3h0m3.6 7.7h0m3.7-13.7h0m1.1 8.3h0m2-3.8h0m-25.3 22.2h0m3.1-4.9h0m1.5-.8h0m.1 2.3h0m2.4-1.1h0m0-2.9h0m.6 .3h0m.1-1.1h0m.4 2.7h0m.8-.9h0m2.2-1.7h0"/><path stroke="#cdff2a" d="M473.8 168.5h0m6.7 .9h0m-19.6 9.3h0m4.9-4.6h0m.7-1.4h0m6.7 12.2h0m4.7-7h0m.1 2.2h0m4.2-7.3h0m-38.7 24h0m2.5-1.5h0m.6-.4h0m1-1.8h0m4 16.5h0m3.9-4h0m14.4-14.4h0m-55.3 35.3h0m13.5-12h0m14.6 3.1h0m1.3-2.6h0m1.7-.8h0m-49 33.7h0m3.4-3.8h0m11.6-13.1h0m-36.4 38.2h0m2.9-1.1h0m8.7-1.4h0m1-.5h0m.3-10.2h0m.6 10.3h0m1.7-10.9h0m13-1.7h0m1.1-3.2h0m1.4-.1h0m-34.3 29.4h0m13.3-7.5h0"/><path stroke="#d5ff21" d="M452.6 187.8h0m4-5.4h0m10.3-8.3h0m13-1.7h0m-46.8 36.5h0m5.6-5.9h0m.3-.8h0m12.9 6.9h0m6-5.5h0m4.2-3.7h0m-47.9 28.3h0m1.6-4.8h0m5.8-4.7h0m1.5-.2h0m14.7 1.7h0m3.7-2.5h0m6.1-4.7h0m.9-2.7h0m-44.3 29.5h0m2.6 8.9h0m.1 .5h0m1.1-15h0m10.2 4.6h0m1.4-.5h0m3.3-1.5h0m2.3-4h0m-46.5 36.2h0m1-2h0m1.2-.9h0m3.6-8.5h0m7.2-3.6h0m1.4 6.7h0m.6-9.8h0m.9 .9h0m1.1 5.1h0m2.3-1.6h0m1.4-1.2h0m-28.6 26.2h0m2.1-2.8h0m4.7-7.3h0m4.2 1.4h0"/><path stroke="#deff19" d="M473.9 168.8h0m1.1 .8h0m.9-1.5h0m3.1-.1h0m-14.9 8.9h0m3.5-3.4h0m2.5-3h0m2.7 17h0m6.7-12.3h0m.4-3.7h0m-27.8 36.2h0m.8 .3h0m.5-.9h0m7.8-6.9h0m3.6-3.7h0m.8-1.6h0m0 1.4h0m-52.3 33.2h0m5.9-7.2h0m10.9-10.4h0m7.3 8h0m7.4-6h0m-35.7 21.9h0m.9 10.7h0m1.6-14.5h0m5.4 8.2h0m-36.8 27.9h0m4 1.5h0m4.8-5.3h0m2-1.9h0m10.2-10.4h0m.7-.6h0m1.8 1.1h0m-40.3 31.9h0m7.4-6h0m1.2-1.5h0m.7-.3h0m.8-5.7h0"/><path stroke="#e6ff10" d="M478.4 169.3h0m-25.2 18.7h0m8.6-9h0m7.3-7.1h0m2.7 14.2h0m2.7-4.1h0m2.4-3.2h0m3.6-8.7h0m-45.7 38.7h0m1-2.9h0m1-.5h0m3.2-3.8h0m10.2-11.1h0m18.9-.3h0m-40.5 38.5h0m0-14.1h0m.5 15h0m.9-16.2h0m2.3-2.6h0m8.1 7.7h0m-39.3 25h0m4 5.6h0m.9-12.8h0m3 9.8h0m3.8-.6h0m2.7-4h0m1.4-2.7h0m3.4-1.9h0m-36.9 25.3h0m10.3-5h0m.1-3.1h0m2.2-2.6h0m.9 3.5h0m.9-1h0m.1 .1h0m-34.4 28.9h0"/><path stroke="#effe08" d="M454.3 186h0m.5-.4h0m3.1-3.3h0m8.1-7h0m3.7-2.9h0m.8 15.4h0m.9-16h0m3.1 9.6h0m2.6-3h0m1.5-8.3h0m.9 4.1h0m.4-3.4h0m-40.9 32.6h0m7.1-6.5h0m2.6-4.4h0m10.6 8.8h0m2.7-1.9h0m-36.3 17.9h0m1.2 0h0m2.7-2.5h0m.1 12.9h0m5.3-5.3h0m3-3.3h0m.2-.4h0m1.6-.2h0m2.6-2.7h0m3.5-3h0m-46.3 33.4h0m2.5-4h0m5.6-4.4h0m2.6-2.8h0m1 9.8h0m2.5-14.3h0m.5 12.7h0m1.6-3.2h0m6-4.1h0m1.4-2.2h0m1.8-1.7h0m0-.8h0m1.4-.6h0m-39.6 29.7h0m1.2 5h0m.5-2.3h0m.6-6.2h0m2.8-2h0m1.1-2.3h0m3.2 1h0m7.1-2.2h0"/><path stroke="#f8f500" d="M451.9 189.7h0m11-11.3h0m7.1-5.4h0m.7 13.7h0m.5-1.1h0m1.6-15.4h0m4.7 6.4h0m.5-5.6h0m.7 .1h0m1-.7h0m-46.3 39.3h0m3.4-3h0m11-11.6h0m2.5 13.4h0m3.5-2.4h0m2.2-1.8h0m6.7-6.6h0m5-5.4h0m-52.8 36.6h0m.6-2.3h0m15.5-.2h0m-33.7 21.8h0m3 .7h0m2.1-4.3h0m1.1-.9h0m1-3.7h0m.9 1.5h0m.4-2.3h0m14.8-3.6h0m2.3-3h0m.9 .1h0m2.3-2.4h0m-44.7 37.8h0m.9-4.8h0m2.8-2.2h0m.1 6.5h0m.2-2h0m1.7-.1h0m1.9-6.2h0m1.4-2.6h0m.7 2.7h0m2.9-7h0m-16.5 19.6h0"/><path stroke="#ffeb00" d="M476.4 169.5h0m-23.8 19.9h0m2.6-5.2h0m1 .1h0m10.4-8.3h0m1.1-1.8h0m8.8 4.3h0m.9-1.6h0m1-4.2h0m-44.1 36.7h0m14.4-15.8h0m.5 15.7h0m1.1-18.1h0m4.3 13.9h0m3.4-2.6h0m0-.6h0m9-9h0m-51 34h0m1.1-1.8h0m.4 .2h0m2.5-4.4h0m2.3-.7h0m10.1 5h0m13.4-13h0m-45.1 34.5h0m3.4-2.8h0m1.9 3.1h0m1.4-1.4h0m.3 1.8h0m3.5-14.6h0m7.2 4.3h0m4.1-4.8h0m.7-.3h0m-43.5 37.2h0m16.6-16.6h0m2.1 1.2h0m2-3.2h0"/><path stroke="#ffe100" d="M456.8 184.9h0m10.6-9.1h0m2.4-2h0m6-3.6h0m-38.2 35h0m4.4-4.9h0m8-8.2h0m1.4 15.1h0m4.2-2.6h0m5.1-4.6h0m-44.6 28.6h0m2.1-4.1h0m1.7-2h0m.2-1h0m.1 .8h0m4.1-3.7h0m5.6 7.1h0m.6-10.8h0m3 8.9h0m9.1-8.2h0m-41.3 31.3h0m3.1 2h0m4-3.7h0m3.1-10.8h0m-28.9 31.4h0m.6-2.7h0m4.3 1.4h0m5.7-5.2h0m5.4-8h0"/><path stroke="#ffd700" d="M465 177.8h0m8.9-6.6h0m-36.2 34.3h0m1.1-1.5h0m2.9-2h0m6.4-6.8h0m.1-.6h0m4.9 11h0m11.3-10.4h0m-41.2 25.4h0m2.1-1.1h0m.8 9.8h0m1.5-1.3h0m2.6-3.1h0m9.5-7.2h0m3.9-4.1h0m1.1-1.2h0m.3 1.2h0m2.4-3.3h0m-45.3 38.5h0m1.3 1.1h0m0-.7h0m.5-2h0m1.3-4.3h0m.9-.3h0m1.9-3.5h0m.6-1.1h0m.3-1.6h0m5.9-6h0m5.1 5.7h0m4.3-5.4h0m-35.3 29.3h0m10.8-9.4h0"/><path stroke="#ffcd00" d="M454.6 187.2h0m4.7-6.6h0m2.2-.3h0m7.6-5.4h0m3.7-3.7h0m4.9 2.4h0m-38.8 31.8h0m.1-1h0m10.7 3.4h0m.6-14.7h0m5 11.5h0m1.2-2.2h0m1.5-1h0m3.6-3.2h0m3.6-4.5h0m1.4-1.4h0m-38.8 24.4h0m2.7-.5h0m1.1-4h0m3.1-1.7h0m.8 10h0m8-7.9h0m-39.2 34.8h0m11.6-8.4h0m-28 23.5h0"/><path stroke="#ffc300" d="M453.6 188.5h0m15.7-.7h0m1-1.6h0m.3-12.4h0m1.8 10.2h0m.9-11.5h0m2.1 2.1h0m1.7-2.7h0m-40.1 36.3h0m.5-.6h0m10.4-11.5h0m3.6-4.1h0m6.7 8.4h0m-40.3 25.1h0m6.8 4.2h0m2.3-10.2h0m4.6-4.1h0m1.7 4.4h0m.3-8.2h0m.2 10.9h0m1.3-2.5h0m5.7-4.8h0m-34.2 26.3h0m1.8 2.9h0m1.2-7.4h0m.6 5.1h0m1.7-7.3h0m1.6 7.3h0m1.2-2.2h0"/><path stroke="#ffba00" d="M462.7 178.9h0m.4 1.2h0m7.8 4.3h0m-32.6 23.2h0m5.4-8.8h0m3.7 10.6h0m1.4-14.3h0m19.3-4.9h0m-51.3 37.8h0m5.2-6h0m4.2-1.6h0m9.6-1.9h0m.3-8.1h0m-28.2 33.6h0m1.3-4.7h0m.1 2.9h0m4.2-10.2h0m.6 7.8h0m4.6-3.3h0"/><path stroke="#ffb000" d="M455.9 186.1h0m12.6 3.2h0m1.2-2.8h0m3.9-5.6h0m2.6-4h0m-25 30.1h0m.8-16h0m1.4 12.5h0m-35 23.7h0m1.7-3.5h0m3.5-1.8h0m4.3 5.2h0m.9-9h0m2.1-2.1h0m1.6 .8h0m.5-2.7h0m5.1 2.9h0m2.4-1.8h0m3.6-3.5h0m-37.8 32.2h0m3.2-4.9h0m.6-1.1h0m.3 1.6h0m1.1-.5h0m2.2-.5h0m3.5-2.7h0m2-.3h0m1.7-1.9h0"/><path stroke="#ffa600" d="M458.9 182.8h0m10.9-8.3h0m.7 8.1h0m.2-1.3h0m.8-7.3h0m1.4 4.4h0m1 1.9h0m.1-6.6h0m-33.7 29.4h0m4.9-3.1h0m7.5-9.6h0m7 9.1h0m2.4-1.9h0m1.1-1.8h0m2.6-3.2h0m.6-1.4h0m-50.5 38.2h0m8.4-7.3h0m5.1 3.9h0m.5-2h0m1.3-.6h0m3.5-8.2h0m.2-2.7h0m1 4.9h0m1.7-1.4h0m6.6-5.4h0m-34.5 30.5h0m3.2-3.3h0m2.5-5.1h0"/><path stroke="#ff9c00" d="M455.3 187.2h0m12.6 1.5h0m.2-11.5h0m.5 11h0m4.7-11.7h0m1.4-2.5h0m-33.3 31.6h0m4.7-7.1h0m2.1-1.1h0m1.2 8.5h0m.9-11.4h0m1.4-2h0m7.1 7.2h0m3.3-5h0m2.2-1.8h0m-45.1 34.5h0m6.8-5.7h0m2.6-3.1h0m1 1.1h0m2.7 .8h0m5.9-5h0m-28.1 22.9h0m4-2.6h0m1.9-3.2h0m1.8 1.9h0m1.9-1.8h0m.3 .9h0m1.2-1.6h0"/><path stroke="#ff9200" d="M454.3 188.9h0m12.9-.4h0m2.6-5.2h0m-27.4 21.9h0m8.5-10.6h0m.4-1h0m8.1 5.1h0m3.7-4.6h0m2.1-2.5h0m.3-1h0m1-.1h0m-46.8 36h0m1.9-2h0m5.5-3.1h0m.7 4h0m5.2-7.7h0m1.3 .1h0m1.9-6.6h0m3.2 3.1h0m3.1-2.2h0m-27.5 25.9h0m.6-2.8h0m.7-2.4h0"/><path stroke="#ff8800" d="M458.4 183.8h0m1 .5h0m6.9-4.3h0m0-2.2h0m3.8 3.7h0m2.7-6.4h0m-29.6 30.5h0m2.2 3.1h0m.3-8.1h0m2.3 6.9h0m.3-1.2h0m4.2-.7h0m1-14.1h0m-33.2 35.3h0m2.5-2.4h0m.7-.9h0m2.3 4.2h0m2.5-3.3h0m.6-.5h0m.3-2.4h0m1-1h0m12-7.9h0m-30.2 23.8h0m5.2-5.3h0"/><path stroke="#ff7f00" d="M462.3 180.8h0m9.8-1.6h0m.1-2.1h0m-33.5 31.4h0m7.5-7.1h0m2.8-4.1h0m1.9-2.1h0m5.4 6.4h0m1.2-1.9h0m4-5.1h0m-37.2 30.1h0m1-2.1h0m10.3-7.5h0m-17.5 18.1h0m2.6-2.8h0"/><path stroke="#ff7500" d="M454.7 189.4h0m5.6-5.4h0m6.2-3.6h0m1.3 5.6h0m1.3 .5h0m.4-3.5h0m1.5-3.5h0m-34 29.5h0m.7 .9h0m4.2-.8h0m.9-6.7h0m4.8 5h0m1-6.1h0m2.6-5.4h0m7.5 2.7h0m-35 31.3h0m3.3-8.5h0m10.5-6.1h0m1.3-3.2h0m-20.6 18.3h0"/><path stroke="#ff6b00" d="M455.9 186.9h0m.2 2.3h0m2.2-3.7h0m2.9-2h0m7.3-3.6h0m1.3-2.6h0m-26.4 30.7h0m3.5-5.7h0m1.1 3.6h0m2.4-7.1h0m.3-1.5h0m3.8 4.2h0m2.1-2h0m-32.8 25.9h0"/><path stroke="#ff6100" d="M466.2 189.6h0m3.2-10h0m-23.9 28h0m2.5-3.4h0m5.5-12.3h0m.6 10.6h0m1.1-12.4h0m-35.1 38.4h0m3.9-2.3h0m6.8-6.8h0"/><path stroke="#ff5700" d="M457.5 186.7h0m8.8 1h0m1.6-5.2h0m.3 2h0m-22.2 20.2h0m2.1-2.4h0m1.7 .3h0m3-1.6h0m.2-8.2h0m3.3 6.1h0m6.9-5.8h0m.4 .3h0m1.7-2.8h0"/><path stroke="#ff4d00" d="M462.6 182.6h0m0 .2h0m-11.7 15.6h0m.3 4h0m1.1-7.5h0m4.7 3.6h0m-34.2 27.2h0"/><path stroke="#ff4300" d="M459.7 185.2h0m7.3 1.1h0m-16.4 13.6h0m.2 2.2h0m14.2-11.8h0m-43.1 38.9h0"/><path stroke="#ff3a00" d="M460.6 184.9h0m1.5-1h0m2.1 4.8h0m-19.5 13.7h0m9.6-2.5h0m1.6-9.7h0"/><path stroke="#ff3000" d="M459.9 187.4h0m5.3-5.9h0m-8.9 8.8h0m7.4 .2h0m-27.1 21.6h0"/><path stroke="#ff2600" d="M461.8 185.6h0m0 .7h0m1.5-1.3h0m1.2 2.4h0m2.4-5.1h0m-15.2 19.2h0m1.1-5.2h0m2.1-4.8h0m3.4 6.1h0m4.6-4.7h0"/><path stroke="#ff1c00" d="M457.9 188.1h0m4.6-1.7h0m-18 18.7h0m6.2-5.7h0m9.6-2.6h0"/><path stroke="#fe1200" d="M457.8 189.4h0m2.2-.9h0m5.7-4.3h0m-12.6 12.7h0m3 .6h0m4.1-2.8h0m1.6-2.6h0m1.2-1.5h0"/><path stroke="#f20800" d="M462.7 191h0"/><path stroke="#e60000" d="M457.2 191.8h0m3 2h0"/><path stroke="#da0000" d="M460.6 188.2h0m1.9 .4h0m.1 1.2h0m1.8-2.7h0m-10.6 7.2h0m.8-1.4h0m.1 3.5h0m3.2-1h0m.5-4.4h0m2.2 .9h0"/><path stroke="#ce0000" d="M462.5 187.1h0m3.5-1.4h0m-8 10.8h0"/><path stroke="#c20000" d="M461.2 189h0m1-1h0m2.5-2.8h0m-4.5 6.2h0"/><path stroke="#b60000" d="M460.6 189.2h0m.3 1.2h0"/><path stroke="#aa0000" d="M458.4 192.2h0"/></g><line x1="78.7" y1="565.6" x2="636.8" y2="11.0" stroke="#000" stroke-width="4.8"/></g><rect x="78.7" y="11.0" width="558.1" height="554.6" fill="none" stroke="#000" stroke-width="2.2"/><path d="M92.3 565.6v-12.5M92.3 11.0v12.5M78.7 552.1h12.5M636.8 552.1h-12.5M160.4 565.6v-12.5M160.4 11.0v12.5M78.7 484.4h12.5M636.8 484.4h-12.5M228.5 565.6v-12.5M228.5 11.0v12.5M78.7 416.8h12.5M636.8 416.8h-12.5M296.5 565.6v-12.5M296.5 11.0v12.5M78.7 349.2h12.5M636.8 349.2h-12.5M364.6 565.6v-12.5M364.6 11.0v12.5M78.7 281.5h12.5M636.8 281.5h-12.5M432.6 565.6v-12.5M432.6 11.0v12.5M78.7 213.9h12.5M636.8 213.9h-12.5M500.7 565.6v-12.5M500.7 11.0v12.5M78.7 146.3h12.5M636.8 146.3h-12.5M568.8 565.6v-12.5M568.8 11.0v12.5M78.7 78.6h12.5M636.8 78.6h-12.5M636.8 565.6v-12.5M636.8 11.0v12.5M78.7 11.0h12.5M636.8 11.0h-12.5" stroke="#000" stroke-width="2.2" fill="none"/><text x="92.3" y="588.6" text-anchor="middle">−50</text><text x="69.6" y="559.3" text-anchor="end">−50</text><text x="160.4" y="588.6" text-anchor="middle">0</text><text x="69.6" y="491.6" text-anchor="end">0</text><text x="228.5" y="588.6" text-anchor="middle">50</text><text x="69.6" y="424.0" text-anchor="end">50</text><text x="296.5" y="588.6" text-anchor="middle">100</text><text x="69.6" y="356.4" text-anchor="end">100</text><text x="364.6" y="588.6" text-anchor="middle">150</text><text x="69.6" y="288.7" text-anchor="end">150</text><text x="432.6" y="588.6" text-anchor="middle">200</text><text x="69.6" y="221.1" text-anchor="end">200</text><text x="500.7" y="588.6" text-anchor="middle">250</text><text x="69.6" y="153.5" text-anchor="end">250</text><text x="568.8" y="588.6" text-anchor="middle">300</text><text x="69.6" y="85.8" text-anchor="end">300</text><text x="636.8" y="588.6" text-anchor="middle">350</text><text x="69.6" y="18.2" text-anchor="end">350</text><text x="275" y="620.6">In situ R<tspan class="m" font-style="italic" font-size="15.5" dy="3.6">n</tspan><tspan dy="-3.6"> (Wm</tspan><tspan class="m" font-size="15" dx="2" dy="-6.3">−</tspan><tspan class="m" font-size="15" dx="1.7" dy="0.5">2</tspan><tspan class="m" font-size="21" dx="-0.8" dy="7.3">)</tspan></text><text transform="translate(23.1 475.2) rotate(-90) scale(1.008 1)" x="0" y="0">R<tspan class="m" font-style="italic" font-size="15.5" dy="3.6">n</tspan><tspan dy="-3.6"> predictions from Case 1 model (Wm</tspan><tspan class="m" font-size="15" dx="2" dy="-6.3">−</tspan><tspan class="m" font-size="15" dx="1.7" dy="0.5">2</tspan><tspan class="m" font-size="21" dx="-0.8" dy="7.3">)</tspan></text><text transform="translate(161 112.3) scale(1 0.91)">RMSE = 9.65</text><text transform="translate(161 132.7) scale(1 0.91)">bias = -0.0</text><text transform="translate(161 153.1) scale(1 0.91)">R² = 0.971</text><text transform="translate(161 173.5) scale(1 0.91)">Num =37054</text><rect x="671.5" y="10.7" width="28.0" height="554.4" fill="url(#g)" stroke="#000" stroke-width="1.6"/><text x="717" y="571.9">0</text><text x="717" y="467.5">200</text><text x="717" y="363.0">400</text><text x="717" y="258.6">600</text><text x="717" y="154.2">800</text><text x="717" y="49.7">1000</text><path d="M699.5 565.1h8.5M699.5 460.7h8.5M699.5 356.2h8.5M699.5 251.8h8.5M699.5 147.4h8.5M699.5 42.9h8.5" stroke="#000" stroke-width="2"/></svg></body></html>
